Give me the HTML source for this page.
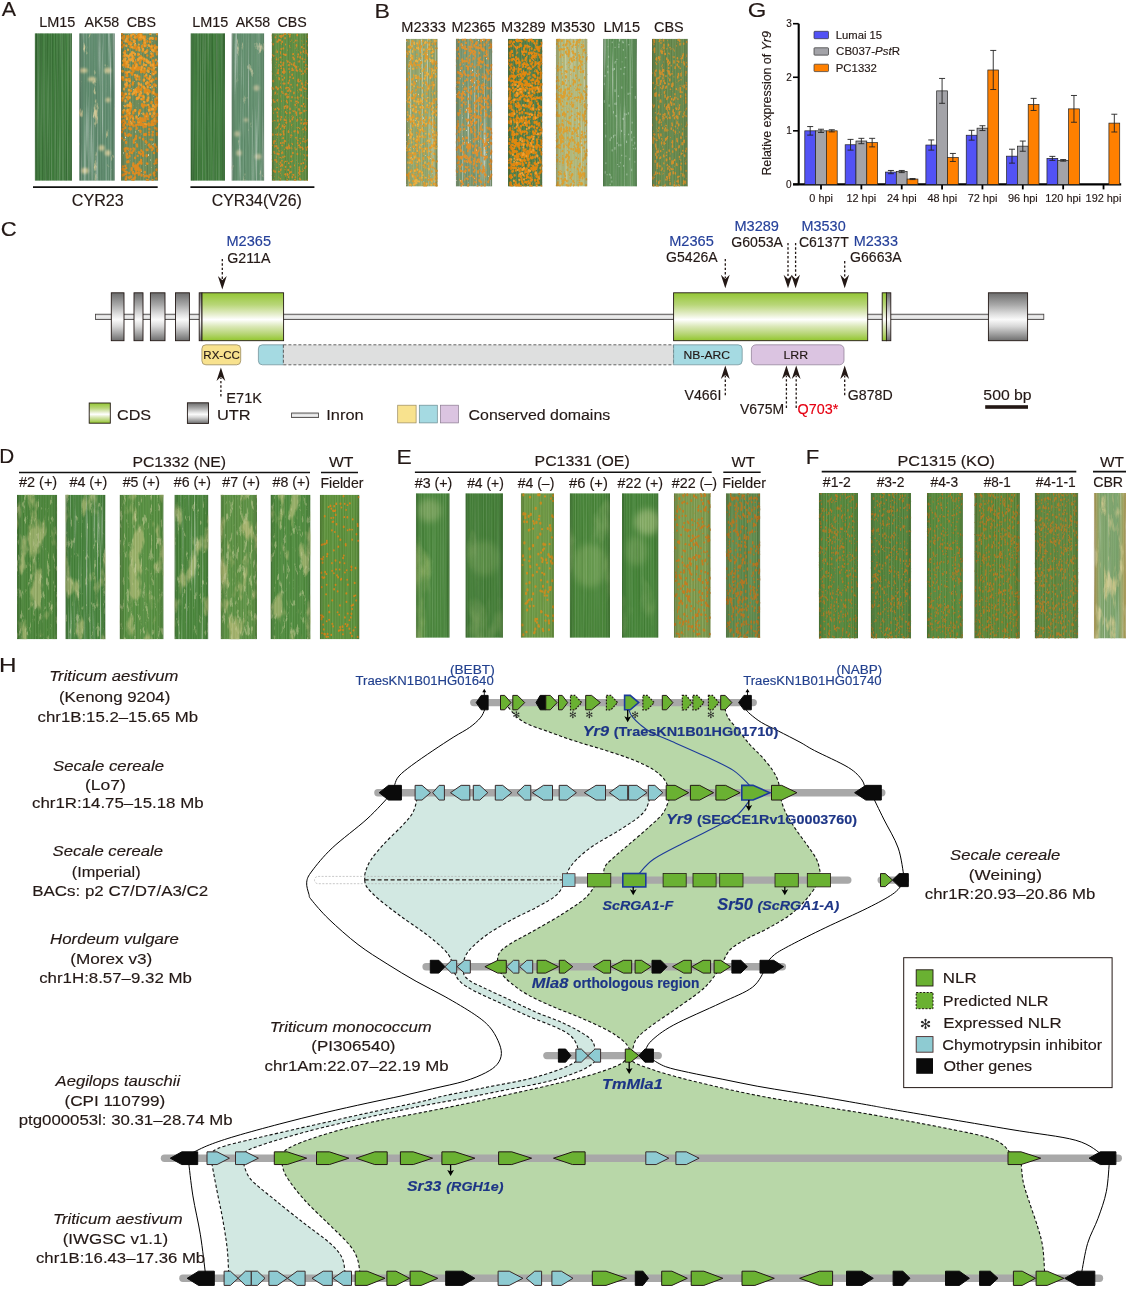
<!DOCTYPE html>
<html><head><meta charset="utf-8"><title>Figure</title>
<style>html,body{margin:0;padding:0;background:#fff;}svg{display:block;will-change:transform;}text{stroke-width:0.15px;}</style></head>
<body><svg width="1137" height="1292" viewBox="0 0 1137 1292" font-family='"Liberation Sans", Arial, Helvetica, sans-serif' fill="#231815">
<defs>
<linearGradient id="cbrg" x1="0" y1="0" x2="1" y2="0">
<stop offset="0" stop-color="#d8b460" stop-opacity="0.9"/><stop offset="0.2" stop-color="#c8a850" stop-opacity="0.15"/>
<stop offset="0.75" stop-color="#c8a850" stop-opacity="0.1"/><stop offset="1" stop-color="#d8b460" stop-opacity="0.85"/></linearGradient>
<pattern id="vein" patternUnits="userSpaceOnUse" width="2.7" height="20">
<rect x="0" y="0" width="0.9" height="20" fill="#ffffff" fill-opacity="0.07"/>
<rect x="1.5" y="0" width="0.8" height="20" fill="#000000" fill-opacity="0.05"/>
</pattern>
<filter id="blur3" x="-50%" y="-50%" width="200%" height="200%"><feGaussianBlur stdDeviation="3"/></filter><filter id="blur1" x="-50%" y="-50%" width="200%" height="200%"><feGaussianBlur stdDeviation="1.3"/></filter>
<filter id="f0" x="0" y="0" width="1" height="1" color-interpolation-filters="sRGB"><feTurbulence type="fractalNoise" baseFrequency="0.9 0.008" numOctaves="2" seed="1"/><feColorMatrix type="matrix" values="0 0 0 0 1 0 0 0 0 1 0 0 0 0 1 0.4 0 0 0 -0.16"/></filter><filter id="f1" x="0" y="0" width="1" height="1" color-interpolation-filters="sRGB"><feTurbulence type="fractalNoise" baseFrequency="0.9 0.008" numOctaves="2" seed="11"/><feColorMatrix type="matrix" values="0 0 0 0 0 0 0 0 0 0.05 0 0 0 0 0 0.4 0 0 0 -0.16"/></filter><filter id="f2" x="0" y="0" width="1" height="1" color-interpolation-filters="sRGB"><feTurbulence type="fractalNoise" baseFrequency="0.12 0.05" numOctaves="4" seed="114"/><feColorMatrix type="matrix" values="0 0 0 0 0.831 0 0 0 0 0.8 0 0 0 0 0.596 8 0 0 0 -5.452"/></filter><filter id="f3" x="0" y="0" width="1" height="1" color-interpolation-filters="sRGB"><feTurbulence type="fractalNoise" baseFrequency="0.5 0.01" numOctaves="2" seed="52"/><feColorMatrix type="matrix" values="0 0 0 0 1 0 0 0 0 1 0 0 0 0 1 1.5 0 0 0 -0.82"/></filter><filter id="f4" x="0" y="0" width="1" height="1" color-interpolation-filters="sRGB"><feTurbulence type="fractalNoise" baseFrequency="0.9 0.008" numOctaves="2" seed="2"/><feColorMatrix type="matrix" values="0 0 0 0 1 0 0 0 0 1 0 0 0 0 1 0.2 0 0 0 -0.08"/></filter><filter id="f5" x="0" y="0" width="1" height="1" color-interpolation-filters="sRGB"><feTurbulence type="fractalNoise" baseFrequency="0.9 0.008" numOctaves="2" seed="12"/><feColorMatrix type="matrix" values="0 0 0 0 0 0 0 0 0 0.05 0 0 0 0 0 0.2 0 0 0 -0.08"/></filter><filter id="f6" x="0" y="0" width="1" height="1" color-interpolation-filters="sRGB"><feTurbulence type="fractalNoise" baseFrequency="0.9 0.008" numOctaves="2" seed="3"/><feColorMatrix type="matrix" values="0 0 0 0 1 0 0 0 0 1 0 0 0 0 1 0.2 0 0 0 -0.08"/></filter><filter id="f7" x="0" y="0" width="1" height="1" color-interpolation-filters="sRGB"><feTurbulence type="fractalNoise" baseFrequency="0.9 0.008" numOctaves="2" seed="13"/><feColorMatrix type="matrix" values="0 0 0 0 0 0 0 0 0 0.05 0 0 0 0 0 0.2 0 0 0 -0.08"/></filter><filter id="f8" x="0" y="0" width="1" height="1" color-interpolation-filters="sRGB"><feTurbulence type="fractalNoise" baseFrequency="0.6 0.3" numOctaves="2" seed="9"/><feColorMatrix type="matrix" values="0 0 0 0 0.941 0 0 0 0 0.91 0 0 0 0 0.784 6 0 0 0 -4.214"/></filter><filter id="f9" x="0" y="0" width="1" height="1" color-interpolation-filters="sRGB"><feTurbulence type="fractalNoise" baseFrequency="0.9 0.008" numOctaves="2" seed="4"/><feColorMatrix type="matrix" values="0 0 0 0 1 0 0 0 0 1 0 0 0 0 1 0.4 0 0 0 -0.16"/></filter><filter id="f10" x="0" y="0" width="1" height="1" color-interpolation-filters="sRGB"><feTurbulence type="fractalNoise" baseFrequency="0.9 0.008" numOctaves="2" seed="14"/><feColorMatrix type="matrix" values="0 0 0 0 0 0 0 0 0 0.05 0 0 0 0 0 0.4 0 0 0 -0.16"/></filter><filter id="f11" x="0" y="0" width="1" height="1" color-interpolation-filters="sRGB"><feTurbulence type="fractalNoise" baseFrequency="0.12 0.05" numOctaves="4" seed="135"/><feColorMatrix type="matrix" values="0 0 0 0 0.784 0 0 0 0 0.784 0 0 0 0 0.627 8 0 0 0 -5.53"/></filter><filter id="f12" x="0" y="0" width="1" height="1" color-interpolation-filters="sRGB"><feTurbulence type="fractalNoise" baseFrequency="0.5 0.01" numOctaves="2" seed="55"/><feColorMatrix type="matrix" values="0 0 0 0 1 0 0 0 0 1 0 0 0 0 1 1.8 0 0 0 -0.99"/></filter><filter id="f13" x="0" y="0" width="1" height="1" color-interpolation-filters="sRGB"><feTurbulence type="fractalNoise" baseFrequency="0.9 0.008" numOctaves="2" seed="0"/><feColorMatrix type="matrix" values="0 0 0 0 1 0 0 0 0 1 0 0 0 0 1 0.2 0 0 0 -0.08"/></filter><filter id="f14" x="0" y="0" width="1" height="1" color-interpolation-filters="sRGB"><feTurbulence type="fractalNoise" baseFrequency="0.9 0.008" numOctaves="2" seed="10"/><feColorMatrix type="matrix" values="0 0 0 0 0 0 0 0 0 0.05 0 0 0 0 0 0.2 0 0 0 -0.08"/></filter><filter id="f15" x="0" y="0" width="1" height="1" color-interpolation-filters="sRGB"><feTurbulence type="fractalNoise" baseFrequency="0.9 0.008" numOctaves="2" seed="1"/><feColorMatrix type="matrix" values="0 0 0 0 1 0 0 0 0 1 0 0 0 0 1 0.2 0 0 0 -0.08"/></filter><filter id="f16" x="0" y="0" width="1" height="1" color-interpolation-filters="sRGB"><feTurbulence type="fractalNoise" baseFrequency="0.9 0.008" numOctaves="2" seed="11"/><feColorMatrix type="matrix" values="0 0 0 0 0 0 0 0 0 0.05 0 0 0 0 0 0.2 0 0 0 -0.08"/></filter><filter id="f17" x="0" y="0" width="1" height="1" color-interpolation-filters="sRGB"><feTurbulence type="fractalNoise" baseFrequency="0.45 0.3" numOctaves="2" seed="18"/><feColorMatrix type="matrix" values="0 0 0 0 0.847 0 0 0 0 0.541 0 0 0 0 0.125 6 0 0 0 -3.765"/></filter><filter id="f18" x="0" y="0" width="1" height="1" color-interpolation-filters="sRGB"><feTurbulence type="fractalNoise" baseFrequency="0.5 0.01" numOctaves="2" seed="61"/><feColorMatrix type="matrix" values="0 0 0 0 1 0 0 0 0 1 0 0 0 0 1 1.8 0 0 0 -0.99"/></filter><filter id="f19" x="0" y="0" width="1" height="1" color-interpolation-filters="sRGB"><feTurbulence type="fractalNoise" baseFrequency="0.45 0.3" numOctaves="2" seed="33"/><feColorMatrix type="matrix" values="0 0 0 0 0.878 0 0 0 0 0.627 0 0 0 0 0.188 6 0 0 0 -3.621"/></filter><filter id="f20" x="0" y="0" width="1" height="1" color-interpolation-filters="sRGB"><feTurbulence type="fractalNoise" baseFrequency="0.6 0.3" numOctaves="2" seed="34"/><feColorMatrix type="matrix" values="0 0 0 0 0.957 0 0 0 0 0.941 0 0 0 0 0.878 6 0 0 0 -4.388"/></filter><filter id="f21" x="0" y="0" width="1" height="1" color-interpolation-filters="sRGB"><feTurbulence type="fractalNoise" baseFrequency="0.5 0.01" numOctaves="2" seed="62"/><feColorMatrix type="matrix" values="0 0 0 0 1 0 0 0 0 1 0 0 0 0 1 2.1 0 0 0 -1.15"/></filter><filter id="f22" x="0" y="0" width="1" height="1" color-interpolation-filters="sRGB"><feTurbulence type="fractalNoise" baseFrequency="0.3 0.22" numOctaves="2" seed="36"/><feColorMatrix type="matrix" values="0 0 0 0 0.878 0 0 0 0 0.565 0 0 0 0 0.188 6 0 0 0 -3.498"/></filter><filter id="f23" x="0" y="0" width="1" height="1" color-interpolation-filters="sRGB"><feTurbulence type="fractalNoise" baseFrequency="0.5 0.25" numOctaves="2" seed="37"/><feColorMatrix type="matrix" values="0 0 0 0 0.957 0 0 0 0 0.941 0 0 0 0 0.894 6 0 0 0 -4.292"/></filter><filter id="f24" x="0" y="0" width="1" height="1" color-interpolation-filters="sRGB"><feTurbulence type="fractalNoise" baseFrequency="0.32 0.24" numOctaves="2" seed="39"/><feColorMatrix type="matrix" values="0 0 0 0 0.91 0 0 0 0 0.541 0 0 0 0 0.094 6 0 0 0 -3.284"/></filter><filter id="f25" x="0" y="0" width="1" height="1" color-interpolation-filters="sRGB"><feTurbulence type="fractalNoise" baseFrequency="0.5 0.01" numOctaves="2" seed="64"/><feColorMatrix type="matrix" values="0 0 0 0 1 0 0 0 0 1 0 0 0 0 1 1.8 0 0 0 -0.99"/></filter><filter id="f26" x="0" y="0" width="1" height="1" color-interpolation-filters="sRGB"><feTurbulence type="fractalNoise" baseFrequency="0.9 0.008" numOctaves="2" seed="4"/><feColorMatrix type="matrix" values="0 0 0 0 1 0 0 0 0 1 0 0 0 0 1 0.2 0 0 0 -0.08"/></filter><filter id="f27" x="0" y="0" width="1" height="1" color-interpolation-filters="sRGB"><feTurbulence type="fractalNoise" baseFrequency="0.9 0.008" numOctaves="2" seed="14"/><feColorMatrix type="matrix" values="0 0 0 0 0 0 0 0 0 0.05 0 0 0 0 0 0.2 0 0 0 -0.08"/></filter><filter id="f28" x="0" y="0" width="1" height="1" color-interpolation-filters="sRGB"><feTurbulence type="fractalNoise" baseFrequency="0.45 0.3" numOctaves="2" seed="42"/><feColorMatrix type="matrix" values="0 0 0 0 0.863 0 0 0 0 0.604 0 0 0 0 0.188 6 0 0 0 -3.676"/></filter><filter id="f29" x="0" y="0" width="1" height="1" color-interpolation-filters="sRGB"><feTurbulence type="fractalNoise" baseFrequency="0.5 0.01" numOctaves="2" seed="65"/><feColorMatrix type="matrix" values="0 0 0 0 1 0 0 0 0 1 0 0 0 0 1 1.8 0 0 0 -0.99"/></filter><filter id="f30" x="0" y="0" width="1" height="1" color-interpolation-filters="sRGB"><feTurbulence type="fractalNoise" baseFrequency="0.42 0.25" numOctaves="2" seed="48"/><feColorMatrix type="matrix" values="0 0 0 0 0.816 0 0 0 0 0.549 0 0 0 0 0.173 6 0 0 0 -3.765"/></filter><filter id="f31" x="0" y="0" width="1" height="1" color-interpolation-filters="sRGB"><feTurbulence type="fractalNoise" baseFrequency="0.07 0.025" numOctaves="4" seed="247"/><feColorMatrix type="matrix" values="0 0 0 0 0.69 0 0 0 0 0.737 0 0 0 0 0.455 7 0 0 0 -3.786"/></filter><filter id="f32" x="0" y="0" width="1" height="1" color-interpolation-filters="sRGB"><feTurbulence type="fractalNoise" baseFrequency="0.3 0.08" numOctaves="4" seed="248"/><feColorMatrix type="matrix" values="0 0 0 0 0.784 0 0 0 0 0.816 0 0 0 0 0.596 8 0 0 0 -4.882"/></filter><filter id="f33" x="0" y="0" width="1" height="1" color-interpolation-filters="sRGB"><feTurbulence type="fractalNoise" baseFrequency="0.07 0.025" numOctaves="4" seed="254"/><feColorMatrix type="matrix" values="0 0 0 0 0.69 0 0 0 0 0.737 0 0 0 0 0.455 7 0 0 0 -4.081"/></filter><filter id="f34" x="0" y="0" width="1" height="1" color-interpolation-filters="sRGB"><feTurbulence type="fractalNoise" baseFrequency="0.3 0.08" numOctaves="4" seed="255"/><feColorMatrix type="matrix" values="0 0 0 0 0.784 0 0 0 0 0.816 0 0 0 0 0.596 8 0 0 0 -5.132"/></filter><filter id="f35" x="0" y="0" width="1" height="1" color-interpolation-filters="sRGB"><feTurbulence type="fractalNoise" baseFrequency="0.5 0.01" numOctaves="2" seed="72"/><feColorMatrix type="matrix" values="0 0 0 0 1 0 0 0 0 1 0 0 0 0 1 1.8 0 0 0 -0.99"/></filter><filter id="f36" x="0" y="0" width="1" height="1" color-interpolation-filters="sRGB"><feTurbulence type="fractalNoise" baseFrequency="0.07 0.025" numOctaves="4" seed="261"/><feColorMatrix type="matrix" values="0 0 0 0 0.69 0 0 0 0 0.737 0 0 0 0 0.455 7 0 0 0 -3.786"/></filter><filter id="f37" x="0" y="0" width="1" height="1" color-interpolation-filters="sRGB"><feTurbulence type="fractalNoise" baseFrequency="0.3 0.08" numOctaves="4" seed="262"/><feColorMatrix type="matrix" values="0 0 0 0 0.784 0 0 0 0 0.816 0 0 0 0 0.596 8 0 0 0 -4.882"/></filter><filter id="f38" x="0" y="0" width="1" height="1" color-interpolation-filters="sRGB"><feTurbulence type="fractalNoise" baseFrequency="0.07 0.025" numOctaves="4" seed="268"/><feColorMatrix type="matrix" values="0 0 0 0 0.69 0 0 0 0 0.737 0 0 0 0 0.455 7 0 0 0 -4.165"/></filter><filter id="f39" x="0" y="0" width="1" height="1" color-interpolation-filters="sRGB"><feTurbulence type="fractalNoise" baseFrequency="0.3 0.08" numOctaves="4" seed="269"/><feColorMatrix type="matrix" values="0 0 0 0 0.784 0 0 0 0 0.816 0 0 0 0 0.596 8 0 0 0 -5.207"/></filter><filter id="f40" x="0" y="0" width="1" height="1" color-interpolation-filters="sRGB"><feTurbulence type="fractalNoise" baseFrequency="0.5 0.01" numOctaves="2" seed="74"/><feColorMatrix type="matrix" values="0 0 0 0 1 0 0 0 0 1 0 0 0 0 1 1.5 0 0 0 -0.82"/></filter><filter id="f41" x="0" y="0" width="1" height="1" color-interpolation-filters="sRGB"><feTurbulence type="fractalNoise" baseFrequency="0.07 0.025" numOctaves="4" seed="275"/><feColorMatrix type="matrix" values="0 0 0 0 0.706 0 0 0 0 0.737 0 0 0 0 0.455 7 0 0 0 -3.5"/></filter><filter id="f42" x="0" y="0" width="1" height="1" color-interpolation-filters="sRGB"><feTurbulence type="fractalNoise" baseFrequency="0.3 0.08" numOctaves="4" seed="276"/><feColorMatrix type="matrix" values="0 0 0 0 0.784 0 0 0 0 0.816 0 0 0 0 0.596 8 0 0 0 -4.664"/></filter><filter id="f43" x="0" y="0" width="1" height="1" color-interpolation-filters="sRGB"><feTurbulence type="fractalNoise" baseFrequency="0.07 0.025" numOctaves="4" seed="282"/><feColorMatrix type="matrix" values="0 0 0 0 0.69 0 0 0 0 0.737 0 0 0 0 0.455 7 0 0 0 -3.855"/></filter><filter id="f44" x="0" y="0" width="1" height="1" color-interpolation-filters="sRGB"><feTurbulence type="fractalNoise" baseFrequency="0.3 0.08" numOctaves="4" seed="283"/><feColorMatrix type="matrix" values="0 0 0 0 0.784 0 0 0 0 0.816 0 0 0 0 0.596 8 0 0 0 -4.939"/></filter><filter id="f45" x="0" y="0" width="1" height="1" color-interpolation-filters="sRGB"><feTurbulence type="fractalNoise" baseFrequency="0.03 0.012" numOctaves="4" seed="317"/><feColorMatrix type="matrix" values="0 0 0 0 0.659 0 0 0 0 0.753 0 0 0 0 0.439 5 0 0 0 -2.823"/></filter><filter id="f46" x="0" y="0" width="1" height="1" color-interpolation-filters="sRGB"><feTurbulence type="fractalNoise" baseFrequency="0.03 0.012" numOctaves="4" seed="324"/><feColorMatrix type="matrix" values="0 0 0 0 0.565 0 0 0 0 0.69 0 0 0 0 0.408 5 0 0 0 -2.915"/></filter><filter id="f47" x="0" y="0" width="1" height="1" color-interpolation-filters="sRGB"><feTurbulence type="fractalNoise" baseFrequency="0.03 0.012" numOctaves="4" seed="338"/><feColorMatrix type="matrix" values="0 0 0 0 0.596 0 0 0 0 0.722 0 0 0 0 0.439 5 0 0 0 -2.915"/></filter><filter id="f48" x="0" y="0" width="1" height="1" color-interpolation-filters="sRGB"><feTurbulence type="fractalNoise" baseFrequency="0.03 0.012" numOctaves="4" seed="345"/><feColorMatrix type="matrix" values="0 0 0 0 0.596 0 0 0 0 0.722 0 0 0 0 0.439 5 0 0 0 -3.018"/></filter><filter id="f49" x="0" y="0" width="1" height="1" color-interpolation-filters="sRGB"><feTurbulence type="fractalNoise" baseFrequency="0.3 0.22" numOctaves="2" seed="108"/><feColorMatrix type="matrix" values="0 0 0 0 0.753 0 0 0 0 0.478 0 0 0 0 0.125 8 0 0 0 -5.261"/></filter><filter id="f50" x="0" y="0" width="1" height="1" color-interpolation-filters="sRGB"><feTurbulence type="fractalNoise" baseFrequency="0.32 0.22" numOctaves="2" seed="111"/><feColorMatrix type="matrix" values="0 0 0 0 0.659 0 0 0 0 0.439 0 0 0 0 0.173 6 0 0 0 -3.946"/></filter><filter id="f51" x="0" y="0" width="1" height="1" color-interpolation-filters="sRGB"><feTurbulence type="fractalNoise" baseFrequency="0.55 0.3" numOctaves="2" seed="123"/><feColorMatrix type="matrix" values="0 0 0 0 0.659 0 0 0 0 0.471 0 0 0 0 0.173 6 0 0 0 -3.867"/></filter><filter id="f52" x="0" y="0" width="1" height="1" color-interpolation-filters="sRGB"><feTurbulence type="fractalNoise" baseFrequency="0.55 0.3" numOctaves="2" seed="126"/><feColorMatrix type="matrix" values="0 0 0 0 0.659 0 0 0 0 0.471 0 0 0 0 0.173 6 0 0 0 -3.867"/></filter><filter id="f53" x="0" y="0" width="1" height="1" color-interpolation-filters="sRGB"><feTurbulence type="fractalNoise" baseFrequency="0.55 0.3" numOctaves="2" seed="129"/><feColorMatrix type="matrix" values="0 0 0 0 0.659 0 0 0 0 0.471 0 0 0 0 0.173 6 0 0 0 -3.867"/></filter><filter id="f54" x="0" y="0" width="1" height="1" color-interpolation-filters="sRGB"><feTurbulence type="fractalNoise" baseFrequency="0.55 0.3" numOctaves="2" seed="132"/><feColorMatrix type="matrix" values="0 0 0 0 0.659 0 0 0 0 0.455 0 0 0 0 0.157 6 0 0 0 -3.765"/></filter><filter id="f55" x="0" y="0" width="1" height="1" color-interpolation-filters="sRGB"><feTurbulence type="fractalNoise" baseFrequency="0.55 0.3" numOctaves="2" seed="135"/><feColorMatrix type="matrix" values="0 0 0 0 0.659 0 0 0 0 0.478 0 0 0 0 0.188 6 0 0 0 -3.765"/></filter><filter id="f56" x="0" y="0" width="1" height="1" color-interpolation-filters="sRGB"><feTurbulence type="fractalNoise" baseFrequency="0.12 0.03" numOctaves="4" seed="422"/><feColorMatrix type="matrix" values="0 0 0 0 0.831 0 0 0 0 0.8 0 0 0 0 0.549 6 0 0 0 -3.187"/></filter><filter id="f57" x="0" y="0" width="1" height="1" color-interpolation-filters="sRGB"><feTurbulence type="fractalNoise" baseFrequency="0.5 0.01" numOctaves="2" seed="96"/><feColorMatrix type="matrix" values="0 0 0 0 1 0 0 0 0 1 0 0 0 0 1 1.2 0 0 0 -0.66"/></filter>
<linearGradient id="ggreen" x1="0" y1="0" x2="0" y2="1">
<stop offset="0" stop-color="#94c635"/><stop offset="0.25" stop-color="#b8d678"/><stop offset="0.42" stop-color="#dfeac0"/><stop offset="0.56" stop-color="#ffffff"/><stop offset="0.7" stop-color="#dbe8b8"/><stop offset="0.86" stop-color="#b6d574"/><stop offset="1" stop-color="#92c62c"/></linearGradient>
<linearGradient id="ggray" x1="0" y1="0" x2="0" y2="1">
<stop offset="0" stop-color="#6c6c6c"/><stop offset="0.25" stop-color="#a8a8a8"/><stop offset="0.45" stop-color="#e0e0e0"/><stop offset="0.56" stop-color="#fafafa"/><stop offset="0.7" stop-color="#d8d8d8"/><stop offset="0.86" stop-color="#a0a0a0"/><stop offset="1" stop-color="#6e6e6e"/></linearGradient>
<linearGradient id="gintron" x1="0" y1="0" x2="0" y2="1">
<stop offset="0" stop-color="#c8c9ca"/><stop offset="0.5" stop-color="#f2f2f2"/><stop offset="1" stop-color="#c8c9ca"/></linearGradient>
<linearGradient id="edgeg" x1="0" y1="0" x2="1" y2="0">
<stop offset="0" stop-color="#000" stop-opacity="0.18"/><stop offset="0.12" stop-color="#000" stop-opacity="0"/>
<stop offset="0.88" stop-color="#000" stop-opacity="0"/><stop offset="1" stop-color="#000" stop-opacity="0.15"/></linearGradient></defs>
<rect width="1137" height="1292" fill="#fff"/>
<text x="1.75" y="16.1" font-size="21" textLength="14.3" lengthAdjust="spacingAndGlyphs" stroke="#231815">A</text><text x="39.21" y="27.3" font-size="14" textLength="36.19" lengthAdjust="spacingAndGlyphs" stroke="#231815">LM15</text><text x="84.46" y="27.3" font-size="14" textLength="34.76" lengthAdjust="spacingAndGlyphs" stroke="#231815">AK58</text><text x="126.79" y="27.3" font-size="14" textLength="29.34" lengthAdjust="spacingAndGlyphs" stroke="#231815">CBS</text><text x="192.31" y="27.3" font-size="14" textLength="36.09" lengthAdjust="spacingAndGlyphs" stroke="#231815">LM15</text><text x="235.66" y="27.3" font-size="14" textLength="34.55" lengthAdjust="spacingAndGlyphs" stroke="#231815">AK58</text><text x="277.59" y="27.3" font-size="14" textLength="29.23" lengthAdjust="spacingAndGlyphs" stroke="#231815">CBS</text><clipPath id="lc1"><rect x="34.7" y="33.2" width="37.3" height="147.6"/></clipPath><g clip-path="url(#lc1)"><rect x="34.7" y="33.2" width="37.3" height="147.6" fill="#3f7d3c"/><rect x="34.7" y="33.2" width="37.3" height="147.6" fill="url(#vein)"/><rect x="34.7" y="33.2" width="37.3" height="147.6" filter="url(#f0)"/><rect x="34.7" y="33.2" width="37.3" height="147.6" filter="url(#f1)"/><rect x="34.7" y="33.2" width="37.3" height="147.6" fill="url(#edgeg)"/></g><clipPath id="lc2"><rect x="79.2" y="33.2" width="35.6" height="147.6"/></clipPath><g clip-path="url(#lc2)"><rect x="79.2" y="33.2" width="35.6" height="147.6" fill="#5f8c6e"/><rect x="79.2" y="33.2" width="35.6" height="147.6" filter="url(#f2)" opacity="1"/><g filter="url(#blur1)"><ellipse cx="83.51" cy="70.54" rx="3.99" ry="2.51" fill="#d8cc98" fill-opacity="0.85"/><ellipse cx="92.02" cy="79.25" rx="3.99" ry="2.51" fill="#d8cc98" fill-opacity="0.85"/><ellipse cx="107.79" cy="70.54" rx="3.49" ry="2.95" fill="#d8cc98" fill-opacity="0.85"/><ellipse cx="101.7" cy="147.89" rx="2.99" ry="2.95" fill="#d8cc98" fill-opacity="0.85"/><ellipse cx="107.79" cy="153.05" rx="2.99" ry="2.95" fill="#d8cc98" fill-opacity="0.85"/><ellipse cx="85" cy="170.76" rx="3.99" ry="2.95" fill="#d8cc98" fill-opacity="0.85"/><ellipse cx="108" cy="100.06" rx="2.49" ry="2.51" fill="#d8cc98" fill-opacity="0.85"/></g><rect x="79.2" y="33.2" width="35.6" height="147.6" filter="url(#f3)"/><rect x="79.2" y="33.2" width="35.6" height="147.6" fill="url(#vein)"/><rect x="79.2" y="33.2" width="35.6" height="147.6" filter="url(#f4)"/><rect x="79.2" y="33.2" width="35.6" height="147.6" filter="url(#f5)"/><rect x="79.2" y="33.2" width="35.6" height="147.6" fill="url(#edgeg)"/></g><clipPath id="lc3"><rect x="121" y="33.2" width="37.2" height="147.6"/></clipPath><g clip-path="url(#lc3)"><rect x="121" y="33.2" width="37.2" height="147.6" fill="#6d8c58"/><rect x="121" y="33.2" width="37.2" height="147.6" fill="url(#vein)"/><rect x="121" y="33.2" width="37.2" height="147.6" filter="url(#f6)"/><rect x="121" y="33.2" width="37.2" height="147.6" filter="url(#f7)"/><rect x="121" y="33.2" width="37.2" height="147.6" filter="url(#f8)"/><path d="M153.47 69.8v0.88M152.45 54.11v0.77M142.59 119.88v0.05M124.21 62.49v1.24M151.85 45.59v1.38M140.59 121.77v1.4M125.06 122.37v0.72M127.32 75.81v0.11M148.49 83.02v0.16M129.83 79.56v1.17M131.57 42.96v0.53M124.21 63.91v1.31M128.31 60.81v1.16M129.02 43.71v0.37M143.54 98.33v1.02M124.05 59.18v0.17M141.75 66.68v1.13M142.05 86.49v0.26M141.12 39.22v0.15M152.39 49.14v0M147.31 50.18v0.45M142.27 119.22v0.03M144.94 36.41v1.16M134.8 41.05v0.59M144.98 45.62v0.57M149.62 108.22v1.09M138.56 97.71v0.22M135.44 61.72v0.2M123.21 38.04v1.46M135.23 62.42v0.98M147.63 115.34v1.37M123.78 55.83v0.58M132.68 84.08v0.36M153.84 63.24v1.34M154.8 93.69v0.41M123.77 124.23v1.38M139.23 38.8v1.14M132.23 73.17v1.47M154.52 110.82v0.11M145.05 88.57v1.07M122.32 116.72v0.25M121.79 93.34v1.11M147.37 41.26v0.35M141.22 88.61v1.11M122.26 93v0.32M133.94 47.42v0.74M130.86 90.51v0.43M125.99 63.31v0.45M132.29 124.18v0.89M152.61 91.95v1.47M139.25 76.69v0.41M130.32 116.33v0.72M145.11 118.46v0.8M128.17 98.02v1.19M155.15 72.74v0.19M146.11 105.35v0.07M150.71 109.8v0.1M143.83 42.94v0.78M126.4 85.78v0.42M139.18 90.06v1.17M138.27 46.77v0.5M136.7 64.42v0.31M156.83 65.19v0M130.53 103.92v1.08M138.61 37.6v0.5M154.36 46.05v0.14M137.89 35.17v1.37M151.31 47.56v1.31M156.68 103.29v1.16M126.03 54.93v0.71M128.45 109.62v0.59M144.72 69.46v1.46M133.34 111.96v1.31M144.38 39.93v1.41M127.75 40.61v1.28M128.29 36.17v1.3M154.72 65.11v0.54M147.76 99.61v0.43M123.84 44.98v0.41M122.44 99.88v0.58M140.87 56.3v0.56M146.8 113.6v1.24M140.04 110.23v0.45M144.02 59.34v1.34M135.69 36.62v1.16M127.09 111.25v1.24M153.01 38.33v0.46M123.39 36.36v0.65M142.96 36.57v1.02M134.71 46.05v0.95M137.2 66.18v1.43M142.32 67.16v0.82M155.19 48.24v1.03M155.77 94.56v0.16M150.12 80.99v0.28M146.88 113.39v1.1M155.83 47.15v1.5M152.54 65.67v0.81M151.6 101.97v0.77M128.69 79v1.39M152.94 55.83v0.08M136.98 88.82v1.4M154.27 84.37v0.42M149.97 84.83v0.14M137.9 88.83v0.63M142.12 104.29v1.37M142.03 46.01v1.46M150.32 76.68v0.76M156.04 38.22v0.96M139.5 123.65v0.26M154.69 49.92v0.54M152.18 69.55v0.3M132.21 74.27v0.16M156.15 78.41v0.5M147.57 85.6v0.42M157.03 94.34v0.5M156.96 98.52v0.34M152.17 79.87v0.36M126.54 110.94v0.23M147.11 77.74v0.3M139.53 35.64v0.7M122.84 71.22v0.04M151.34 103.09v0.19M155.97 107.85v0.26M138.54 87.07v1.33M127.5 105.68v0.63M124.51 60.74v0.27M153.62 112.6v0.16M156.14 102.25v1.17M150.44 108.69v1.37M140.3 120.14v1.44M153.25 60.33v1.32M141.1 70.82v1.34M126.45 75.7v0.34M153.14 123.8v1.11M146.9 89.42v0.62M140.05 93.98v1.36M125.85 79.56v0.19M130.15 109.38v1.05M125.75 93.67v0.11M123.01 111.68v0.98M140.02 122.31v0.91M144.46 71.63v0.95M155.45 101.45v1.18M157.11 121.31v0.35M151.28 124.15v0.97M124.88 116.23v0.36M150.06 41.55v0.8M153.84 89.4v0.29M147.32 99.73v1.3M129.31 119.98v1.17M126.22 41.25v0M147.04 60.24v0.64M148.51 68.03v0.39M133.54 70.47v1.09M139.28 67.49v1.43M136.44 65.62v1.06M135.79 93.43v1.48M129.27 111.8v0.92M136.55 48.48v1.29M136.66 117.11v1.3M124.57 94.33v0.63M141.64 38.01v0.29M121.86 42.17v1.17M133.38 65.46v1.25M129.15 122.18v0.09M122.98 97.78v0.71M139.95 62.09v1.42M141.91 37.64v0.98M151.81 121.68v1.42M154.78 106.14v0.04M149.64 68.38v0.5M125.59 72.17v0.48M130.57 108.69v0.7M145.69 44.78v0.96M148.43 62.8v0.19M123 77.7v0.47M123.78 95.86v1.14M142.64 50.83v0.39M135.53 45.09v0.89M140.51 118.03v1.12M134.74 110.22v0.38M142.41 57.74v1.11M155.19 99.16v0.36M128.22 113.19v0.27M132.12 69.29v0.21M141.43 34.18v0.34M149.6 90.97v1.32M131.72 38.67v0.8M130.12 42.14v0.61M125.05 62.19v0.14M132.79 67.46v1.38M141.03 95.4v0.35M157.04 105.27v0.3M122.2 46.73v0.57M147.25 55.37v0.07M126.96 73.43v1.23M144.82 90.77v1.43M140.5 59.51v0.82M124.07 35.87v1.23M153.74 112.4v0.69M133.72 57.38v1.13M127.1 36.13v0.13M142.96 98.96v0.57M130.9 106.53v1.17M133.04 82.48v1.03M134.72 35.11v0.25M125.04 51.23v1.18M157.21 101.49v1.15M137.79 59.26v1.29M148.71 123.35v0.98M131.09 35.47v0.99M143.81 79.67v1.17M135.49 76.37v1.08M144.96 76.15v0.23M131.22 72.79v0.09M138.39 91.35v0.69M139.17 111.7v0.77M143.32 106.22v1.12M146.61 92.22v0.45M150.93 56.59v0.59M155.21 84.8v1.29M138.07 53.93v1.13M137.01 98.15v0.14M149.25 106.93v0.23M135.68 92.78v0.62M127.71 40.12v0.35M125.97 65.31v1.47M152.62 73.13v1.22M143.2 96.03v0.37M128.87 112.42v0.91M128.43 96.39v0.16M151.25 47.53v0.19M134.04 67.73v1.17M129.64 85.22v1.41M125.94 86.74v0.36M130.94 104.17v1.25M121.89 33.71v0.51M148.18 89.82v0.84M154.35 118.72v1.05M122.08 77.28v1.43M144.48 105.06v0.26M153.27 79.68v0.48M155.85 109.02v0.16M135.67 89.49v0.55M155.64 50.09v1.38M129.31 123.67v0.17M143.17 70.88v0.75M154.89 45.51v0.09M123.21 79.04v0.96M144.19 59.72v0.28M157.22 113.85v0.92M130.61 46.3v0.77M131.82 54.01v1.46M148.57 78.92v0.08M136.08 68.55v1.06M138.95 33.78v0.36M139.83 38.15v0.53M138.25 69.72v0.39M139.38 79.13v0.38" stroke="#e08c1c" stroke-width="2.4" stroke-linecap="round" fill="none"/><path d="M128.53 56.16v1.18M148.25 104.74v0.15M151.34 46.49v0.14M130.07 102.52v1.16M138.82 97.14v0.27M153.03 105.19v0.99M134.1 40.52v0.25M133.71 52.59v0.31M145.99 83.17v0.76M146.6 60.84v0.64M139.5 94.7v0.46M146.41 59.67v0.77M138.9 44.55v0.02M133.09 60.38v1.02M131.43 122.62v1.11M138.14 97.56v0.94M156.84 53.74v0.81M126.45 115.41v0.46M122.32 70.85v0.77M153.21 109.13v0.36M137.21 75.42v1.16M154.98 118.81v0.68M156.99 34.07v0.39M143.5 123.88v0.09M156.68 97.31v0.61M129.83 97.47v0.38M141.3 99.02v0.35M146.3 74.68v0.84M146.52 51.24v0.91M126.6 97.25v0.05M129.55 113.15v0.67M145.65 52.17v0.53M135.33 89.61v1.07M129.48 104.11v0.4M123.02 60.88v0.11M152.59 115.62v0.94M151.62 38.14v0.13M123.79 52.49v0.2M149.7 38.65v0.45M150.72 64.47v1.18M126.68 84.82v0.59M128.2 66.36v0.79M130.27 59.29v0.99M154.68 106.87v0.27M132.1 52.12v0.66M138.35 59.05v0.94M147.27 82.02v0.81M149.93 76.18v0.38M125.65 40.61v0.7M143.84 86.53v0.36M148.98 109.83v1.03M126.37 45.69v0.37M155.01 47.89v0.56M148.32 97.42v0.84M143.38 37.47v0.53M126.74 82.75v0.94M136.52 92.22v0.24M134.97 54.13v0.7M148.59 45.16v0.29M149.23 45.64v0.46M129.14 59.21v0.29M152.1 108.88v0.57M132.14 47.2v0.33M126.63 63.08v0.56M128.03 49.72v0.4M134.05 91.98v1.15M155.95 85.66v0.1M150.26 33.54v0.52M133.85 40.33v0.5M140.59 93.23v0.07M129.87 54.69v0.86M152.32 86.59v0.31M147.78 87.19v0.16M151.44 80.99v0.75M151.18 53.4v0.38M148.28 61.3v1.16M136.37 116.44v0.59M131.49 35.16v0.24M153.06 64.4v1.14M153.45 50.64v0.88M127.58 109.85v1.15M122.01 37.31v0.94M142.81 120.76v0.3M155.36 120.57v0.21M143.4 113.5v0.7M138.65 83.09v0.46M153.63 92v0.92M148.62 71.19v0.71M146.44 61.62v0.09M139.43 57.56v0.86M144.24 79.59v0.74M144.42 101.93v0.55M147.5 92.9v0.95M125.04 59.68v0.86M128.5 64.69v0.65M141.11 36.02v1.12M126.62 79.65v0.94M134.23 91.07v0.35M139.02 47.52v0.45M141.45 57.58v0.46M124.63 55.59v0.19M152.27 108.7v0.52M154.04 120.7v0.15M134.14 41.46v0.71M139.05 113.27v0.52M122.87 77.13v0.49M143.65 96.39v1M133.19 118.59v0.41M150.11 113.27v0.86M157.26 51.88v0.65M144.37 58.51v0.34M145.96 116.24v0.29M133.24 33.63v0.42M147.95 93.48v1.07M134.84 44.27v0.59M124.86 106.11v0.21M145.3 51.93v0.98M144.78 123.92v0.33M144.63 39.15v1.08M123.92 110.19v0.46M145.13 42.44v0.57M150.58 37.83v0.63M129.27 105.83v0.28M157.42 63.05v0.94M144.61 45.57v0.43M126.68 38.3v0.47M154.15 67.65v0.96M139.05 54.4v0.1M153.71 73.79v0.58M140.92 124.33v0.63M130.6 105.7v0.46M143.77 64.14v0.99M141.18 84.42v0.71M123.39 120.45v0.3M124.11 59.29v1.19M136.46 64.69v0.2M141.79 66.91v0.37M132.63 117.12v0.57M146.03 124.24v0.65M132.18 58.24v1.06M122.49 97.98v0.54M136.52 79.33v0.29M129.19 93.36v0.8M126.83 55.35v0.34M125.86 93.74v0.16M129.91 117.13v1.12M125.4 100.46v0.94M141.33 69.35v0.39M138.84 83.72v0.92M139.7 122.26v1.15M156 59.54v0.94M140.19 37.3v0.3M141.1 92.32v0.87M128.96 89.69v1.05M130.92 44.53v0.17M122.94 64.89v0.56M144.69 68.27v0.01M147.78 99.82v0.59M144.26 87.56v0.57M156.4 105.31v0.55M153.94 113.5v0.14M125.59 58.47v0.27M123.98 88.7v0.89M132.52 55.79v1.17M135.29 110.12v0.72M130.49 67.86v0.28M149.49 78.37v0.63M157.01 47.05v0.63M156.18 47.02v0.09M129.1 71.62v0.41M132.65 93.51v0.87M152.51 37.89v0.95M134.8 68.07v0.04M150 62.5v0.25M156.84 104.57v1M155.66 71.5v1.14M125.2 84.37v0.4M136.13 65.96v0.42M138.31 119.11v0.11M145.96 64.86v0.74M127.44 105.09v0.36M143.09 48.74v1.16M124.15 110.02v0.34M131.27 53.66v0.76M126.9 118.17v1.07M125.58 40.43v0.57M138.14 121.92v0.06M139.36 49.48v1.07M136.92 98.09v1.05M134.55 37.33v0.14M134.07 91.97v1.12M127 61.65v1.12M134.99 74.96v0.15M152.25 49.93v0.37M140.49 33.86v1.1M127.27 72.29v0.28M129.67 81.1v0.3M147.53 70.34v0.95M154.62 113.07v0.94M124.72 53.27v0.87" stroke="#eca030" stroke-width="2.2" stroke-linecap="round" fill="none"/><path d="M144.99 117.83v0.75M127.51 115.12v0.14M125.8 178.96v1.07M126.08 148.26v0.31M122 122.11v0.39M124.13 169.04v0.11M156.52 169.46v0.83M132.96 172.11v1.05M135.32 168.38v0.8M144.87 117.72v0.03M132.75 120.42v0.71M131.62 169.23v1.09M126.66 153.73v1.16M131.68 168.21v0.38M142.26 118.98v1.15M130.77 135.03v0.81M132.13 115.6v0.89M134.4 122.06v0.38M141.07 123.9v0.63M126.48 176.95v0.85M133.12 165.04v0.65M130.93 176.4v0.73M143.41 124.23v0.72M138.56 170.3v0.08M130.62 148.88v0.78M134.29 149.02v0.46M155.61 118.96v0.46M149.07 132.31v0.03M147.97 119.1v0.04M146.61 149.71v0.33M152.61 180.25v0.02M138.62 124.26v0.65M148.64 144.95v0.56M138.68 168.05v0.93M155.74 160.85v0.57M154.78 127.64v0.4M151.94 150.03v0.12M155.79 162.69v0.34M140.45 130.85v1.14M143.11 154.98v1.08M123.22 128.59v1.04M123.81 174.52v0.48M121.8 138.12v0.23M134.66 173.81v0.89M154.5 172.31v0.5M149.08 124.71v0.87M154.46 163.81v0.02M141.04 159.94v0.98M141.54 174.71v1M125.81 173.58v0.43M149.13 125v0.38M140.15 124.34v0.02M135.89 138.36v0.62M133.5 148.28v0.21M155.59 116.14v0.5M134.75 165.87v0.62M156.84 134.2v0.8M144.87 171.8v0.9M124.45 170.43v0.83M140.82 122.31v0.9M148.24 124.49v0.27M126.19 142.15v0.9M122.93 166.36v0.2M122.68 174.9v0.78M124.98 133.47v0.05M129.42 128.17v0.62M141.42 162.61v1.19M129.48 116.18v0.57M129.77 124.97v0.39M137.94 164.27v0.34M129.49 155.68v0.26M133.55 150.98v0.05M128.04 135.25v0.69M127.82 157.64v0.2M129.23 134.27v0.38M125.57 135.24v0.37M133.37 163.46v0.82M125.29 127.3v0.65M152.76 123.56v0.12M128.54 134.42v0.75M127.36 124.36v0.2M143.04 152.25v0.88M156.56 128.52v0.92M138.97 152.18v0.79M137.05 168.47v0.47M128.4 161.25v0.97M153.87 173.07v0.42M148.74 176.52v0.8M143.62 126.39v0.97M138.4 120.23v1.12M152.01 116.47v0.17M122.07 132.01v0.23M139.25 172.55v0.74M134.04 178.14v0.14M133.46 179.6v0.81M143.16 138.81v0.74M133.67 125.34v0.89M155.27 122.99v1.03M149.33 128.85v0.58M129.35 177.11v1.03M150.41 174.76v0.3M122.66 128.79v0.58M137.12 146.18v0.37M139.9 130.68v0.12M135.96 165.34v0.37M145.45 118.82v0.27M125.27 150.81v0.47M123.07 125.25v0.87M140.78 153.72v0.88M147 179.97v0.34M146.88 163.32v0.28M136.82 144.31v0.93M139.44 162.19v1.17M156.87 133.04v0.27M138.82 174.17v0.63M122.51 168.67v0.97M146.6 155.14v1.15M149.41 144.45v0.16M156.29 178.49v0.14M152.97 131.99v0.09M154.97 144.3v1.11M156.57 159.33v1.13M151.89 121.18v0.75M147.49 149.58v0.55M146.72 175.6v0.34M125.29 165.78v0.29M145.77 133.97v1.14M135.03 177.07v0.59M152.92 120.62v0.68M133.89 166.58v0.07M129.25 173v0.17M149.24 134.69v0.08M146.44 142.07v0.69M136.7 127.89v0.95M138.02 124.1v0.42M137.66 155.86v0.02M142.74 120.51v0.64M136.12 125.02v0.91M131.97 179.59v0.03M152.34 139.57v0.21M147.48 163.69v0.15M140.64 169.74v1.08M136.14 135.97v0.42M133.96 140.04v0.62M151.38 146.29v0.69M152.21 122.09v1.02M152.61 134.47v0.96M126.56 155.57v0.19M145.74 141.19v0.76M152.98 148.03v0.81M156.39 146.86v0.1M126.26 168.14v0.03M121.78 121.46v0.61M136.18 169.24v1.17M137.61 165.67v0.59M150.52 139.57v0.02M150.23 146.85v0.69M142.29 124.02v1.18M127.22 161.71v0.59M136.43 166.68v0.83M145.84 125.81v1.01M138.54 167.64v0.04M144.7 119.19v1.05M129.52 117.9v0.31M140.04 123.58v1.18M154.48 175.27v0.26M142.45 118.47v0.61M135.05 157.65v0.52M124.16 139.9v0.06M129.65 156.22v0.23M130.95 176.73v0.25M124.26 120.52v0.66M126.82 156.68v0.94M156.49 162.85v0.33M153.82 173.12v0.67M138.23 172.9v0.03M127.8 148.34v0.66M145.29 120.71v0.7M156.61 129.07v0.63M133.84 142.52v0.29M157.33 150.72v0.53M135.27 138.45v0.52M136.33 172.33v0.77M157.4 149.4v0.23M144.17 134.11v0.89M154.05 152.82v0.34M139.84 137.68v0.09M129.7 151.91v1.14M144.58 175.53v1M144.72 115.38v0.35M130.74 128.45v1.12M141.4 150.39v0.37M132.07 152.48v0.73M145.32 118.99v0.58M126.77 154.29v0.33M147.96 180.22v1.12M134.62 178.47v0.21M126.64 171.85v1.03M124.69 148.56v0.91M157.33 114.71v0.72" stroke="#dc8a20" stroke-width="2.3" stroke-linecap="round" fill="none"/><rect x="121" y="33.2" width="37.2" height="147.6" fill="url(#edgeg)"/></g><clipPath id="lc4"><rect x="190.5" y="33.2" width="34.5" height="147.6"/></clipPath><g clip-path="url(#lc4)"><rect x="190.5" y="33.2" width="34.5" height="147.6" fill="#3e7c3a"/><rect x="190.5" y="33.2" width="34.5" height="147.6" fill="url(#vein)"/><rect x="190.5" y="33.2" width="34.5" height="147.6" filter="url(#f9)"/><rect x="190.5" y="33.2" width="34.5" height="147.6" filter="url(#f10)"/><rect x="190.5" y="33.2" width="34.5" height="147.6" fill="url(#edgeg)"/></g><clipPath id="lc5"><rect x="231.5" y="33.2" width="32.8" height="147.6"/></clipPath><g clip-path="url(#lc5)"><rect x="231.5" y="33.2" width="32.8" height="147.6" fill="#62906e"/><rect x="231.5" y="33.2" width="32.8" height="147.6" filter="url(#f11)" opacity="1"/><g filter="url(#blur1)"><ellipse cx="237.11" cy="133.86" rx="2.98" ry="2.95" fill="#d0c8a0" fill-opacity="0.7"/><ellipse cx="238.91" cy="153.05" rx="2.98" ry="2.95" fill="#d0c8a0" fill-opacity="0.7"/><ellipse cx="258.2" cy="156.59" rx="3.51" ry="2.95" fill="#d0c8a0" fill-opacity="0.7"/><ellipse cx="256.49" cy="87.96" rx="2.98" ry="2.95" fill="#d0c8a0" fill-opacity="0.7"/><ellipse cx="246" cy="119.99" rx="2.49" ry="2.07" fill="#d0c8a0" fill-opacity="0.7"/></g><rect x="231.5" y="33.2" width="32.8" height="147.6" filter="url(#f12)"/><rect x="231.5" y="33.2" width="32.8" height="147.6" fill="url(#vein)"/><rect x="231.5" y="33.2" width="32.8" height="147.6" filter="url(#f13)"/><rect x="231.5" y="33.2" width="32.8" height="147.6" filter="url(#f14)"/><rect x="231.5" y="33.2" width="32.8" height="147.6" fill="url(#edgeg)"/></g><clipPath id="lc6"><rect x="271.7" y="33.2" width="36.3" height="147.6"/></clipPath><g clip-path="url(#lc6)"><rect x="271.7" y="33.2" width="36.3" height="147.6" fill="#5f8f40"/><rect x="271.7" y="33.2" width="36.3" height="147.6" fill="url(#vein)"/><rect x="271.7" y="33.2" width="36.3" height="147.6" filter="url(#f15)"/><rect x="271.7" y="33.2" width="36.3" height="147.6" filter="url(#f16)"/><rect x="271.7" y="33.2" width="36.3" height="147.6" filter="url(#f17)"/><path d="M279.38 123.98v0.11M303.97 61.55v0.46M299.3 167.21v0.58M296.17 112.37v0.85M280.25 134.17v0.6M288.66 96.77v0.01M292.02 96.8v0.62M288.19 169.48v0.68M294.94 65.74v0.42M305.39 84.87v0.16M285.74 54.44v0.83M295.85 67.04v0.94M288.37 82.51v0.89M277.99 71.86v0.42M302.53 86.67v0.56M278.26 69.79v0.36M297.37 153.58v0.78M277.54 99.76v0.16M298.13 79.71v0.97M301.18 163.49v0.35M305.7 147.46v0.14M306.1 52.22v0.99M282.73 71.81v0.53M273.82 142.56v0.74M274.98 145.79v0.51M289.94 112.32v0.73M306.82 122.59v0.23M297.65 97.11v0.44M284.38 126.56v0.25M301.05 95.22v0.67M282.65 79.23v0.68M284.59 108.16v0.14M295.96 101.39v0.16M289.83 62.48v0.07M280.76 61.99v0.32M273.91 170.41v0.82M296.05 148.98v0.41M275.47 37.12v0.39M304.98 106.14v0.72M300.21 56.87v0.97M303.15 73.62v0.05M304.89 168.09v0.16M283.58 54.08v0.1M296.44 44.94v0.77M280.05 180.77v0.87M302.41 58.49v0.52M273.69 101.67v0.11M299.25 169.34v0.23M300.18 146.89v0.79M298.29 102.39v0.18M274.75 101.81v0.21M273.14 43.95v0.58M289.42 88.87v0.66M287.64 106.18v0.91M291.05 135.07v0.68M287.05 180.29v0.34M283.94 72.8v0.37M301.12 89.15v0.25M293.96 92.33v0.98M277.73 116.46v0.21M305.83 140.5v0.55M283.91 69.7v0.6M305.19 59.37v0.07M275.02 159.59v0.61M279.02 77.9v0.12M296.23 67.89v0.01M281.6 164.29v0.84M282.59 125.45v0.98M273.43 99.79v0.58M277.35 73.01v0.36M286.47 147.7v0.42M284.54 106.55v0.39M297.82 140.34v0.2M305.78 82.06v0.62M302.06 83.4v0.91M296.42 66.72v0.51M284.86 71.42v0.11M280.17 39.88v0.5M301.32 119.5v0.38M297.85 56.85v0.03M287.8 147.76v0.94M305.21 127.1v0.89M280.85 65.78v0.37M307.08 155.04v0.65M277.91 147.79v0.66M297.1 70.68v0.21M280.64 166.22v0.15M303.47 51.16v0.94M288.73 163.17v0.05M302.84 148.64v0.65M283.44 62.52v0.81M280.49 162.39v0.4M291.04 84.52v0.2M281.22 48.78v0.29M305.76 64.87v0.46M305.85 128.92v0.39M292.23 68.23v0.77M290.59 90.86v0.44M286.33 122.25v0.66M279.26 78.6v0.85M283.12 64.62v0.57M299.71 174.01v0.27M293.09 117.07v0.52M273.42 80.94v0.64M301.68 83.12v0.15M287.34 173.82v0.51M285.93 120.01v0.51M289.79 35.9v0.81M288.5 131.25v0.92M287.23 102.13v0.16M289.78 147.96v0.15M275.3 171.51v0.43M275.28 92.41v0.98M277.21 41.46v0.48M289.79 172.8v0.02M285.56 166.5v0.59M289.05 68.93v0.14M292.32 119.04v0.53M284.44 127.76v0.3M280.77 169.37v0.56M298.71 81.62v0.05M282.95 142.5v0.51M280.01 35.84v0.38M283.33 48.02v0.74M303.03 129.01v0.38M297.49 97.54v0.47M304.36 88.07v0.39M293.5 64.29v0.73M301.75 46.87v0.61M297.31 84.68v0.91M283.79 134.35v0.42M283.29 131.31v0.38M277.37 134.04v0.97M287.27 147.12v0.04M285.87 105.89v0.18M277.72 88.77v0.74M282.04 76.1v0.02M303.96 48.26v0.24M295.42 177.04v0.01M276.16 86.82v0.84M274.77 140.89v0.23M276.69 145.9v0.25M277.26 112.36v0.32M273.71 55.49v0.56M292.47 70.06v0.16M280.7 119v0.29M305.98 50.42v0.04M292.38 176.96v0.28M284.7 83.4v0.39M303.82 123.26v0.96M277.45 127.11v0.42M281.46 116.74v0.39M285.38 93.94v0.8M297.64 142.83v0.41M272.92 134.16v0.74M282.17 41.39v0.88M273.44 88.43v0.66M291.06 171.69v0.53M306.44 123.41v0.9M283.29 83.43v0.26M292.17 74.24v0.68M298.94 108.8v0.37M288.98 64.59v0.82M305.84 88.64v0.51M287.04 96.83v0.31M290.19 120.85v0.77M300.37 179.29v0.35M298.2 54.21v0.64M306.41 149.63v0.37M303.55 138.66v0.31M284.67 140.67v0.91M301.54 71.09v0.25M282.31 145.6v0M290.02 76.86v0.35M299.29 61.17v0.47M297.37 119.67v0.95M280.61 57.29v0.18M296.82 101.3v0.02M294.27 131.09v0.46M287.6 174.24v0.99M278.93 171.59v0.15M277.28 153.25v0.83M278.77 153.52v0.87M287.69 97.28v0.46M295.87 40.45v0.18M291.44 64.06v0.29M284.68 156.34v0.16M288.95 145.72v0.86M297.72 131.01v0.92M300.08 112.7v0.43M280.77 142.77v0.39M299.64 178.44v0.52M278.77 109.02v0.37M277.19 51.44v0.76M284.49 119.39v0.66M281.92 152.64v0.65M278.76 39.6v0.69M274.12 151.6v0.44M286.51 93.76v0.13M287.86 61.11v0.84M294.68 179.85v0.9M283.05 157.19v0.14M298.44 79.43v0.26M304.18 110.4v0.98M276.6 59.01v0.59M274.63 153.07v0.08M288.22 96.52v0.59M304.65 159.3v0.29M286.66 113.06v0.14M301.55 112.77v0.08M276.61 161.04v0.92M282.43 164.59v0.99M287.12 107.49v0.32M299.16 145.14v0.33M283.68 68.71v0.13M300 113.13v0.63M299.83 69.09v0.55M281.92 160.54v0.21M283.68 133.16v0.1M275.43 108.87v0.64M281.76 36.5v0.26M283.2 35.13v0.52M298.1 132.15v0.73M281.36 35.56v0.7M285.08 37.92v0.57M291.17 156.1v0.7M295.15 104.62v0.24M303.39 162.81v0.46M302.92 141.3v0M281.9 91.51v0.47M288.49 176.82v0.53M292.84 152.7v0.6M294.14 63.02v0.05M301.11 123.18v0.36M305.23 119.36v0.64M297.22 34.49v0.89M296.43 69.94v0.28M277.93 120.13v0.81M299.62 170.51v0.57M290.01 108.41v0.97M293.14 57.28v0.25M283.87 71.39v0.31M298.96 172.28v0.84M305.06 70.97v0.91M300.77 52.44v0.36M306.94 68.36v0.6M282.87 138.09v0.03M295.46 104.95v0.21M302.04 147.25v0.17M299.17 109.3v0.6M288.01 90.41v0.83M305.79 166.21v0.63M301.43 105.75v0.24M305.06 122.62v0.49M273.9 141.19v0.92M273.17 80.53v0.66M299.63 89.23v0.38M290.53 166.35v0.69M277.88 41.31v0.45M294.04 58.56v0.96" stroke="#d08a28" stroke-width="1.7" stroke-linecap="round" fill="none"/><rect x="271.7" y="33.2" width="36.3" height="147.6" fill="url(#edgeg)"/></g><path d="M33 187.1H157.7M190.4 187.1H314.4" stroke="#111" stroke-width="1.6"/><text x="71.79" y="205.9" font-size="16" textLength="51.91" lengthAdjust="spacingAndGlyphs" stroke="#231815">CYR23</text><text x="211.71" y="205.9" font-size="16" textLength="90.07" lengthAdjust="spacingAndGlyphs" stroke="#231815">CYR34(V26)</text><text x="374.59" y="17.6" font-size="21" textLength="15.41" lengthAdjust="spacingAndGlyphs" stroke="#231815">B</text><text x="401.3" y="32" font-size="14" textLength="44.63" lengthAdjust="spacingAndGlyphs" stroke="#231815">M2333</text><text x="451.51" y="32" font-size="14" textLength="43.96" lengthAdjust="spacingAndGlyphs" stroke="#231815">M2365</text><text x="501.1" y="32" font-size="14" textLength="44.56" lengthAdjust="spacingAndGlyphs" stroke="#231815">M3289</text><text x="550.81" y="32" font-size="14" textLength="44.24" lengthAdjust="spacingAndGlyphs" stroke="#231815">M3530</text><text x="603.5" y="32" font-size="14" textLength="36.51" lengthAdjust="spacingAndGlyphs" stroke="#231815">LM15</text><text x="653.98" y="32" font-size="14" textLength="29.65" lengthAdjust="spacingAndGlyphs" stroke="#231815">CBS</text><clipPath id="lc7"><rect x="406" y="38.7" width="31.7" height="147.9"/></clipPath><g clip-path="url(#lc7)"><rect x="406" y="38.7" width="31.7" height="147.9" fill="#94a86c"/><rect x="406" y="38.7" width="31.7" height="147.9" filter="url(#f18)"/><rect x="406" y="38.7" width="31.7" height="147.9" fill="url(#vein)"/><rect x="406" y="38.7" width="31.7" height="147.9" filter="url(#f15)"/><rect x="406" y="38.7" width="31.7" height="147.9" filter="url(#f16)"/><rect x="406" y="38.7" width="31.7" height="147.9" filter="url(#f19)"/><rect x="406" y="38.7" width="31.7" height="147.9" filter="url(#f20)"/><path d="M431.7 171.1v0.23M415.88 109.44v0.2M409.43 148.75v0.4M429.17 176.3v0.53M429.46 46.28v0.99M410.87 161.6v0.59M435.49 139.27v0.58M410.53 47.02v0.96M423.93 69.09v0.33M425.61 111.78v0.65M423.43 165.15v0.03M432.92 133.9v1.16M411.82 43.81v0.36M412.68 121.2v0.35M407.18 78.78v1.13M435.42 137.42v0.35M410.64 161.48v0.15M414.82 123.82v0.2M420.43 48.5v0.42M430.4 165.57v0.99M426.78 183.48v0.12M412.08 78.83v0.99M431.7 124v0.45M417.79 175.28v0.72M412.82 41.27v0.1M408.09 97.47v0.35M426.89 42.36v0.42M412.14 174.11v0.95M424.15 185.82v0.36M432.06 75.67v1.16M421.16 171.36v0.74M411.16 155.82v0.33M419.3 133.83v1.11M412.6 91.02v0.2M435.84 137.17v0.02M414.97 169.82v0.04M423.49 107.95v0.28M433.02 62.52v0.14M412.15 134.45v0.33M415.51 170.05v0.84M431.76 62.31v0.12M408.87 105.54v0.4M421.43 106.67v0.83M418.06 76.44v0.1M431.7 171.27v0.38M409.41 101.83v0.51M425.95 55.88v0.24M413.25 121.18v0.24M419.95 131.14v1.2M410.73 61.27v1M420.57 119.93v0.66M412.7 55.98v0.33M435.04 77.26v0.25M412.41 64.93v1.08M431.83 145.13v0.25M412.75 98.62v0.03M423.21 120.45v0.37M415.33 106.35v0.86M419.9 160.67v0.93M416.93 165.03v0.82M425.84 66.45v0.39M434.55 122.76v0.54M416.76 139.48v0.38M429.98 147.36v0.71M424.34 182.8v1.19M416.07 89.61v0.65M431.34 52.51v0.65M423.72 122.17v0.37M409.17 153.07v0.06M408.65 73.17v0.49M417.15 117.71v0.37M411.38 92.27v0.74M435.67 99.17v0.62M419.91 130.16v0.52M419.59 41.17v0.87M434 183.4v0.93M422.61 148.96v0.2M415.65 95.11v0.43M416.96 141.21v1.06M426.65 93.57v0.4M432.36 145.73v0.48M417.59 64.65v0.7M419.92 178.29v0.01M417.17 144.97v1.12M426.73 106.19v0.91M430.22 106.01v0.56M425.75 125.04v1.04M419.07 101.29v1.08M415.64 154.06v0.53M420.22 171.1v0.01M407.82 174.59v0.51M416.77 132.69v0.29M433.63 86.04v0.32M426.59 84.05v1.04M415.28 64.95v0.73M412.61 58.4v1.13M419.06 112.03v0.04M430.17 76.77v0.76M419.52 64.72v1.09M425.53 57.91v0.55M419.52 151.82v1.15M415.12 83.19v0.25M423.52 69.25v0.41M411.82 97.81v0.71M420.74 101.77v1.06M417.8 86.77v0.73M434.1 153.39v0.64M422.7 151.06v0.62M414.22 81.85v0.36M421.01 107.82v0.21M424.78 53.12v0.47M417.78 77.7v0.49M413.2 180.99v0.45M419.37 58.08v0.62M435.16 43.12v1.16M436.99 185.49v0.8M433.02 167.44v0.17M433.09 82.23v0.11M413.76 104.79v0.67M424.76 72.46v0.33M410.66 121.16v1.03M412.97 125.24v1.01M415.11 49.77v0.09M436.71 177.69v1.14M434.35 102.19v0.82M408.87 66.44v0.05M425.68 148.03v0.47M415.2 153.03v0.73M414.8 176.55v1.17M431.37 102.93v0.43M412.98 115.02v0.01M432.77 84.26v0.46M434.86 168.35v0.09M414.06 98.24v0.39M426.74 49.45v0.32M414.06 111.28v0.22M411.01 153.34v0.31M408.91 173.18v0.53M427.31 58.28v0.3M409.91 184.12v1.19M433.95 61.03v0.71M406.68 51.17v0.39M433.71 99.28v1.01M436.46 106.84v0.5M431.73 179.26v1.09M435.84 71.88v0.05M417.82 44.73v0.71M416.76 54.36v0.2M428.8 162.83v0.75M431.45 103.51v0.87M427.1 148.43v0.21M428.23 122.54v0.73M428.39 179.53v0.27M415.44 177.07v1.19M410.51 155.99v1M436.85 170.55v0.57M413.34 153.38v1.17M431.65 108.94v1.15M411.28 117.82v0.48M418.57 139.15v0.31M427.36 89.51v1.09M421.77 179.82v0.45M407.98 97.85v0.06M436.44 174.13v0.24M419.7 112.67v0.82M416.66 77.57v0.12M436.9 161.22v0.17M431.45 122.22v0.58M425.61 99.01v0.69M417.15 148.28v0.64M425.53 167.51v0.19M407.76 119.57v0.1M417.84 137.22v0.76M412.01 162.17v1.14M413.75 121.11v0.48M425.93 82.29v0.57M421.1 78.46v0.23M424.24 143.54v0.54M413.2 146.31v0.85M435.02 66.95v0.99M406.77 174.49v0.9M433.67 51.13v0.44M408.08 149.35v0.63M419.3 140.61v0.07M414.96 96.39v0.27M428.92 119.85v1.2M408.48 177.85v0.94M436.53 175.3v0.63M435.91 107.18v0.07M416.94 149.74v0.33M432.85 63.91v0.13M408.59 90.52v0.79M423.71 44.72v0.26M429.67 85.14v0.48M436.1 61.71v1.06M432.42 43.69v0.39M422.61 103.96v0.16M429.61 141.82v0.51M415.87 94.7v0.01M425.74 55.25v0.09M435.76 48.24v0.18M414.46 183.97v1M410.12 130.13v0.32M419.49 42.9v0.73M430.44 179.47v0.59M435.36 111.5v0.76M408.17 157.1v0.27M419.97 50.23v0.54M422.64 87.99v0.39M426.11 185.38v0.91M413.44 175.22v0.18M431.04 75.95v0.92M414.14 146.45v0.85M435.81 183.55v0.17M411.04 63.32v1.11M431.24 146.86v0.79M419.73 101.3v0.07M436.39 132.35v0.95M434.36 142.26v0.25M435.76 127.16v0.29M414.32 62.67v1.01M432.63 62.37v0.85M422.73 125.67v0.64M424.28 165.76v0.3M432.99 159.14v1.11M434.86 144.46v0.67M406.75 56.12v0.22M418.34 159.26v0.58M432.98 145.47v0.12M429.35 156.75v0.88M415.61 140.92v0.42M435.66 63.58v0.6M433.76 145.03v1.18M434.18 84.39v0.22M423.32 157.78v1.18M418.78 123.85v0.85M408.22 119.23v1.09M433.22 137.11v0.94M426.23 56.93v0.83M420.69 148.16v0.15M410.01 134.26v0.23M413.84 116.12v0.8M408.02 174.85v1.1M414.53 171.09v0.31M428.32 87.55v1.06M427.43 56.29v0.03M431.93 74.87v0.03M408.94 93.58v1.18M421.29 129.73v0.23M429.41 42.63v1.02M426.13 51.37v0.09M435.55 141.47v0.53M429.13 47.76v1.2M414.15 158.34v0.4M418.18 158.47v0.5M421.15 123.29v0.09M423.1 130.59v0.92M435.98 142.53v0.32M412.84 116.72v1.07M417.4 62.22v0.15M433.24 101.06v0.03M408.2 143.16v0.96M418.63 171.98v0.84M420.36 51.78v0.55M412.28 159.25v0.57M418.62 98.53v0.21M433.5 112.63v0.79M433.59 126.38v0.24M428.79 87.18v0.72M428.24 86.38v0.81M419.52 130.56v0.3M416.68 67.84v0.08M435.68 185.1v0.34M406.83 86.66v1.16M408.02 53.65v0.54M413 84.74v0.25M430.76 152v0.07M432.83 88.05v0.72M431.97 68.69v0.5M408.54 153.62v0.79M421.43 136.86v0.25M409.58 117.81v0.94M411.43 170.12v1.06M419.2 158.09v0.76M432.37 160.51v0.75M411.86 58.39v0.71M410.53 135.83v0.78M421.36 61.97v1.09M421.12 45.99v1.12M435.68 67.79v0.88M425.24 136.9v0.39M409.44 46.06v1.15M408.4 175.31v0.87M417 168.49v0.44M429.73 68.37v0.08M426.73 56.26v1.05M425.17 77.79v0.42M417.7 117.87v0.65M429.75 135.56v1.13M425.97 117.02v1.13" stroke="#e09a2c" stroke-width="1.9" stroke-linecap="round" fill="none"/><path d="M418.69 103.9v0.16M410.08 184.3v0.39M416.98 139.94v0.04M429.75 117.36v0.92M430.94 59.9v0.82M413.67 122.96v0.02M429.16 169.01v0.61M432.19 164.27v0.45M436.36 98.57v0.17M417.39 161.71v0.78M422.7 94.04v0.9M413.55 119.99v0.63M431.22 184.29v0.98M417 101.2v0.73M407.96 162.03v0.86M413.06 68.32v0.74M416.82 47.8v0.19M407.93 101.77v0.44M433.3 153.58v0.39M421.01 100.09v0.8M417.14 136.21v0.47M415.91 180.99v0.66M434.83 134.5v0.84M411.65 141.99v0.74M432.44 161.9v0.75M426.71 100.78v0.18M428.87 133.53v0.99M416.21 106.92v0.43M419.74 171.05v0.55M432.64 103.41v0.12M425.27 75.5v0.25M434.18 178.93v0.56M412.54 51.81v0.08M424.42 78.36v0.74M407.8 114.43v0.92M414.1 86.04v0.24M419.17 159.97v0.72M425.91 177.53v0.1M415.97 75.25v0.77M434.45 147.96v0.63M432.29 55.7v0.62M432.29 113.4v0.97M414.85 156.95v0.79M433.87 72.74v0.53M432.53 51.9v0.48M429.28 140.44v0.84M410.45 132.04v0.81M416.78 179.54v0.93M433.99 84.77v0.15M433.23 107.27v0.59M425.78 133.51v0.25M429.31 151.06v0.1M422.7 175.09v0.18M428.73 157.89v0.44M432.35 60.91v0.74M425.44 110.86v0.1M406.81 147.45v0.7M418.6 121.56v0.5M411.38 129.43v0.06M420.29 129.63v0.17M407.55 111.93v0.56M412.04 45.92v0.69M410.86 136.59v0.99M419.27 181.35v0.3M416.22 118.33v0.61M424.16 150.77v0.65M409.51 96.89v0.83M409.73 102.53v0.34M436.96 146.26v0.24M413.56 184.53v0.15M413.24 108.58v0.66M434.86 184.01v0.32M416.58 182.53v0.65M418.13 99.51v0.09M422.38 114.48v0.31M424.85 119.74v0.23M429.98 123.67v0.04M407.37 119.37v0.42M406.8 40.43v0.04M423.88 49.2v0.86M436.57 67.76v0.44M409.8 162.31v0.81M436.17 148.28v0.13M412.85 109.84v0.86M428.91 49.25v0.02M417.24 150.83v0.26M434.43 142.81v0.72M407.37 145.54v0.27M408.21 98.81v0.49M428.85 169.37v0.28M429.16 44.41v0.59M434.45 40.45v0.99M418.22 123.87v0.98M422.37 101.21v0.17M410.47 132.05v0.01M415.88 112.22v0.31M432.42 48.8v0.46M411.27 55.15v0.68M415.97 144.58v0.64M417.23 61.01v0.39M433.79 131.47v0.54M436.4 114.77v0.65M429.66 58.97v0.15M411.41 119.67v0.01M422.43 70.78v0.4M433.09 117.53v0.52M427.82 140.26v0.6M415.25 179.82v0.59M426.32 123.51v0.41M410.25 171.94v0M416.35 60.02v0.71M416.31 111.66v0.51M426.89 72.4v0.45M434.81 176.33v0.92M428.13 73.71v0.68M433.73 112.21v0.27M415.98 77.75v0.46M415.07 180.54v1M415.56 125.22v0.4M411.76 133.85v0.83M412.68 175.93v0.73M423.11 54.29v0.02M422.4 128.71v0.85M428.33 88.39v0.29M413.66 94.43v0.57M407.62 53.83v0.06M415.09 155.99v0.06M436.07 40.33v0.87M412.3 159.17v0.13M428.91 39.34v0.14M423 106.82v0.33M426.89 59.35v0.24M411.67 83.82v0.22M425.11 60.86v0.58M425 162.36v0.71M409.94 138.14v0.22M435.73 180.28v0.74M418.18 181v0.4M422.54 135.47v0.54M434.63 92.9v0.77M428.88 168.65v0.96M432.88 70.11v0.76M424.92 42.66v0.48M434.92 70.08v0.87M414.17 100.55v0.48M415.85 60.68v0.46M418.28 48.29v0.39M421.24 144.88v0.17M410.16 157.97v0.39M412 105.83v0.01M409.88 149.56v0.66M417.65 169.54v0.39M412.74 152.49v0.49M417.02 42.99v0.52M409.36 180.22v0.56M408.37 46.52v0.92M431.86 180.98v0.89M426.71 183.56v0.48M429.87 49.2v0.06M419.6 59.13v0.3M419.88 136.29v0.32M413.62 138.92v0.34M436.65 134.81v0.75M409.76 115.93v0.43M425.27 148.69v0.37M429.02 158.83v0.16M414.73 180.99v0.19M436.19 110.39v0.87M432.33 129.53v0.95M432.76 59.83v0.13M414.47 43.81v0.37M432.56 114v0.27M414.78 170.52v0.51M435.83 75.88v0.78M414.23 42.46v0.6M419.69 147.19v0.41M409.06 64.33v0.66M418.64 101.68v0.1M422.95 82.81v0.66M420.21 106.8v0.61M423.94 122.64v0.01M435.51 138.99v0.7M410.54 117.95v0.78M427.26 75.44v0.14M406.85 150.44v0.31M412.7 50.74v0.08M422 177.18v0.68M409.42 51.34v0.73M417.96 125.59v0.71M408.5 167.33v0.34M415.04 183.18v0.7M430.37 77.64v0.71M411.95 57.87v0.24M422.13 95.21v0.98M429.4 102.9v0.01M425.54 41.9v0.62M422.26 172.42v0.09M407.02 52.56v0.04M431.96 145.82v0.56M427.4 104.95v0.48" stroke="#eab040" stroke-width="1.7" stroke-linecap="round" fill="none"/><rect x="406" y="38.7" width="31.7" height="147.9" fill="url(#edgeg)"/></g><clipPath id="lc8"><rect x="455.8" y="38.7" width="36.5" height="147.9"/></clipPath><g clip-path="url(#lc8)"><rect x="455.8" y="38.7" width="36.5" height="147.9" fill="#7a9870"/><rect x="455.8" y="38.7" width="36.5" height="147.9" filter="url(#f21)"/><rect x="455.8" y="38.7" width="36.5" height="147.9" fill="url(#vein)"/><rect x="455.8" y="38.7" width="36.5" height="147.9" filter="url(#f4)"/><rect x="455.8" y="38.7" width="36.5" height="147.9" filter="url(#f5)"/><rect x="455.8" y="38.7" width="36.5" height="147.9" filter="url(#f22)"/><rect x="455.8" y="38.7" width="36.5" height="147.9" filter="url(#f23)"/><path d="M475.5 106.31v0.7M473.79 171.39v0.34M468.88 92.43v0.16M462.74 47.26v0.08M461.75 181.09v0.88M484.07 49.6v0.65M477.94 80.91v0.19M474.97 136.07v0.17M458.8 131.23v0.58M467.79 178.88v0.29M476.8 41.97v1.07M474.52 158.82v0.99M482 49.47v0.2M460.75 72.97v1.19M484.87 185.64v0.47M480.67 119.81v1.19M483.33 91.05v0.86M485.77 147.95v0.82M480.38 149v0.64M485.79 111.23v0.28M464.2 60.95v0.25M465.62 104.25v0.05M470.2 86.76v0.9M488.27 181.45v0.85M478.37 47.21v0.43M479 64.95v0.02M462.03 104.67v0.24M474.04 163.18v0.54M491.32 65.08v0.83M473.36 152.61v0.6M479.26 52.63v0.99M486.94 127.42v0.19M467.12 167.52v0.02M488.14 140.46v0.05M490.44 165.63v0.91M461.44 44v1.08M478.22 91.4v0.5M478.91 159.17v0.04M481.52 185.97v0.87M480.71 91.19v1.15M483.48 83.87v0.36M467.11 79.15v1.12M464.07 72.04v0.41M480.96 40.2v1.19M484.95 173.94v1.04M470.54 52.96v0.82M469.59 104.74v1.08M468.16 98.28v1.01M458.89 53.76v0.3M474.79 114.03v1.13M465.9 42.55v0.39M463.43 97.98v0.21M460.25 64.51v0.53M472.28 63.81v0.62M480.81 138.45v0.21M468.35 148.01v1M487.02 139.61v0.62M473 120.28v0.39M489.24 127.92v1.18M468.12 67.74v0.71M478.07 172.38v0.39M491.1 176.18v0.2M474.29 160.62v1.19M468.04 69.8v0.01M463.9 93.2v0.42M479.41 175.69v0.51M462.19 98.7v1.01M459.18 82.21v0.8M485.59 157.11v0.99M457.33 95.95v0.73M477 100.39v0.52M458.25 124.65v0.34M467.33 121.01v0.36M478.48 58.61v0.55M484.37 106.7v0.96M490.51 159.67v1.11M479.95 60.55v0.62M490.15 47.08v0.65M464.89 61.04v0.41M457.79 71.99v0.33M457.21 172.07v0.01M465.66 111.86v0.18M482.15 171.45v0.12M481.23 154.52v0.9M465.76 166.66v0.66M461.4 76.66v0.09M469 169.61v1.19M487.27 54.65v0.22M467.21 90.89v0.36M462.28 59.28v0.96M472.89 74.73v0.63M476.38 101.35v0.33M479.37 180.02v1.07M472.32 51.21v1.13M481.15 45.64v0.48M463.09 138.33v0.62M476.47 47.04v0.7M477.02 154.46v1.18M469.26 124.8v1.17M459.05 91.97v1.07M483.89 39.83v0.43M471.71 175.52v0.16M475.52 109.35v0.81M484.52 44.13v1.02M461.93 94.27v0.93M456.64 149.36v0.53M474.44 91.34v0.08M488.67 78.86v0.92M475.71 117.44v0M458.64 96.44v0.82M486.42 114.76v0.98M468.13 75.11v0.98M460.71 156.84v0.97M487.92 71.54v0.53M461.3 181.31v0.58M469.1 146.01v1.19M457.34 128.21v0.6M470.8 128.54v0.21M457.72 125.61v0.94M470.73 86.48v0.89M474.28 44.98v0.93M476.42 100.76v0.04M458.07 113.03v1.09M469.73 161.73v0.82M468.26 147.54v0.79M487.26 136.01v0.32M487.28 71.02v0.78M466.18 158.35v0.02M481.55 105.41v0.53M480.88 65.99v0.9M479.7 132.81v1.16M475.08 51.73v1.01M466.68 161.07v0.77M459.55 147.48v0.63M486.96 144.19v0.38M459.89 110.32v0.44M490.95 169.51v0.11M465.76 170.59v0.37M479.95 104.21v0.35M476.95 161.49v0.66M465.21 94.67v0.36M459.49 145.53v0.64M480.17 57.44v0.37M480.67 61.02v0.55M484.59 159v0.42M478.21 117.6v0.36M456.94 49.78v0M476.64 165.27v0.72M465.06 80.64v0.26M490.62 167.1v0.38M462.98 91.49v1.2M474.37 127v0.98M471.9 79.44v0.83M469.18 110.12v0.06M491.36 69.07v0.37M469.2 107.94v0.22M468.39 184.61v0.23M469.43 50.24v0.77M478.33 91.12v0.37M482.49 129.54v0.51M489.69 70.14v0.35M468.51 119.97v0.21M475.65 148.25v0.47M483.46 166.35v1.2M468.17 119.5v0.43M483.06 169.84v0.57M473.86 141.04v0.76M461.31 156.89v0.04M488.01 39.78v0.63M490.03 177.31v1.16M478.48 116.36v0.55M469.59 59.61v1.19M460.12 146.75v0.66M459.09 158.69v0.61M473.55 57.96v0.63M458.83 72.43v0.89M457.42 95.88v1M476.18 121.71v1.13M481.1 47.48v1.05M484.5 171.59v0.11M458.21 123.39v0.66M461.72 158.42v0.34M465.42 155.62v1.2M474.27 158.38v0.1M474.75 170.04v0.66M460.74 150.05v1.09M483.06 107.16v0.03M463.29 143.01v0.96M462.27 74.66v1M478.93 81.84v0.1M486.58 50.94v0.41M483.17 93.15v0.05M480.67 126.74v0.97M484.99 76.41v0.09M485.45 101.82v0.28M479.12 62.63v0.87M474.55 133.54v0.97M460.23 72.83v1.18M458.67 161.85v1.07M457.8 93.61v0.56M464.23 171.8v0.17M482.76 88.3v0.78M457.6 58.04v0.82M479.53 63.11v0.01M473.75 160.73v0.3M474.45 78.33v1.16M482.26 61.94v0.92M479.33 161.33v0.75M488.11 58.2v0.67M461.48 93.67v0.42M485.82 98.49v1.02M463.84 102.25v0.22M456.8 126.94v1.14M485.34 111v0.04M466.95 146.38v1.18M458.78 41.82v0.51M470.49 49.19v0.24M479.44 97.71v0.84M461.57 67.64v0.74M487.35 87.58v0.49M464.34 88.44v0.91M483.19 139.96v0.59M485.97 113.85v0.4M485.93 77.88v0.79M476.24 43.24v1.02M483.25 48.27v0.02M472.87 145.82v0.82M484.54 97.4v0.45M475.85 145.82v0M462.07 47.34v0.3M457.51 139.4v0.04M491.33 87.73v0.59M465.2 46.36v0.7M467.69 68.01v0.39M489.33 116.03v0.61M462.82 184.24v0.09M459.15 140.15v0.87M490.92 128.66v1.02M475.45 152.64v0.57M466.62 58.22v0.6M478.96 100.87v0.39M480.37 117.18v0.79M477.38 115.99v0.85M457.67 147.14v0.47M478.35 136.67v1.13M464.14 71.87v0.09M464.25 128.87v0.5M474.25 85.03v0.58M473.16 119.58v0.66M481.4 108.23v0.74M469.12 161.79v0.07M481.67 85.32v0.51M470 148.43v0.01M461.08 150.3v0.79M476.9 100.17v0.06M467.96 67.06v0.27M473.64 164.14v0.69M472.29 41.14v0.92M473.43 53.83v0.54M475.83 182.2v0.41M476.65 145.24v0.8M475.67 139.44v0.36M474.14 50.7v0.36M489.27 146.77v0.53M475.14 116.74v0.65M480.02 45.05v0.19M486.51 42.35v0.52M485.12 133.55v0.3M487.88 133.85v0.72M483.46 97.91v0.33M478.82 84.74v0.29M477.74 159.57v0.48M473.57 167.94v0.09M476.27 105.61v0.84M476.56 75.07v0.72M475.98 87.89v0.8M489.12 39.7v0.03M467.83 150.84v0.34M468.71 125.48v0.13M483.3 50.28v0.46M483.59 84.53v1.01M469.49 111.77v0.83M481.28 87.51v0.23M485.23 144.53v0.1M470.01 144.81v0.68M475.32 129.77v0.89M467.32 108.44v0.03M459.75 169.24v0.06M468.87 158.31v0.81M478.99 47.68v0.45M486.37 52.59v1M460.1 166.64v0.6M457.56 162.96v0.28M481.2 151.96v0.51M465.22 38.98v0.88M462.47 60.95v1.1M465.09 48.6v0.74M459.51 132.22v0.12M466.46 49.27v0.1M482.48 171.81v0.89M474.48 102.77v0.73M471.02 66.32v0.28M481.08 181.64v0.85M461.41 180.67v1.19M491.49 174.4v0.91M490.26 44.13v0.23M490.73 101v0.85M478.99 59.57v0.79M478.35 150.5v0.8M491.15 138.25v0.57M470.25 108.4v0.51M469.3 176.42v0.16M482.68 76.54v0.76M459.82 148.29v0M466.99 137.54v0.75M462.45 156.48v0.87M483.35 141.13v1.18M478.66 99.25v0.54M475.71 149.39v1.19M457.56 157.1v0.37M478.44 82.32v0.1M466.69 142.4v1.17M477.04 110.93v0.1M470.27 156.74v0.72M491.24 46.25v1.15M489.05 47.92v0.15M460.65 170.78v0.44M463.44 151.83v1M464.74 156.4v0.72M480.99 112.28v0.6M466.84 60.92v0.6M473.69 177.07v0.36M467.87 186.27v0.27M458.51 114.29v1.07M467.65 144.9v0.7M485.75 77.03v0.37M471.26 117.26v0.64M478.13 171.07v0.77M486.2 142.42v1.01M461.75 171.12v0.08M491.1 165.91v0.03M470.09 143.63v0.04M476.26 95.71v0.74M471.69 131.65v0.74M480.43 181.13v0.63M490.43 143.22v0.15M472.03 121.38v0.37M479.13 74.33v0.22M485.87 174.95v0.3M470.51 39.08v1.11M488.56 73.18v0.86M486.79 152.21v0.03M459.94 113.03v0.11M486.94 156.71v0.72M484.83 184.25v0.12M490.26 100.1v0.13M472.85 81.6v0.26M490.61 142.7v0.04M486.48 69.47v0.46M477.13 152.4v0.56M471.77 50.63v0.39M487.79 103.4v0.82M468.56 144.67v0.75M460.43 129.01v1.01M489.54 163.94v0.24M464.55 161.12v0.49M487.85 64.97v1.01M471.26 110.84v0.8M466.45 65.89v0.18M489.31 128.8v0.65M475.08 122.94v0.62M486.28 101.86v0.59M462.72 39.53v0.47M473.23 73.66v0.22M491.47 142.95v1.14M475.84 43.24v0.18M490.96 153.55v0.31M457.36 82.07v0.63M468.89 62.4v0.56M482.67 76.99v0.55" stroke="#e0902c" stroke-width="2" stroke-linecap="round" fill="none"/><rect x="455.8" y="38.7" width="36.5" height="147.9" fill="url(#edgeg)"/></g><clipPath id="lc9"><rect x="508" y="38.7" width="34.4" height="147.9"/></clipPath><g clip-path="url(#lc9)"><rect x="508" y="38.7" width="34.4" height="147.9" fill="#527e44"/><rect x="508" y="38.7" width="34.4" height="147.9" fill="url(#vein)"/><rect x="508" y="38.7" width="34.4" height="147.9" filter="url(#f6)"/><rect x="508" y="38.7" width="34.4" height="147.9" filter="url(#f7)"/><rect x="508" y="38.7" width="34.4" height="147.9" filter="url(#f24)"/><path d="M509.67 152.2v0.27M512.36 171.09v0.76M529.4 123.16v0.12M540.87 84.41v1.15M519.08 84.17v1.04M527.06 174.96v0.57M533.19 41.04v0.54M516.42 133.69v0.51M536.29 80.62v0.55M519.56 119.19v0.49M509.97 76.19v0.53M510.82 175.47v0.15M510.72 120.69v0.44M525.54 83.38v0.62M527.39 137.13v0.38M515.86 60.9v0.11M518.56 106.95v0.62M522.42 77.8v1.04M517.9 105.94v0.95M529.84 72.57v0.23M511.26 41.35v0.25M521.54 71.73v0.04M517.51 99.44v0.33M515.39 163.24v1.14M526.69 117.16v0.21M537.69 97.65v0.07M521.31 132.8v1.16M508.71 167.49v0.44M520.8 88.88v0.3M526.8 168.28v0.38M541.35 60.89v0.56M524.15 48.02v0.43M539.36 91.77v0.12M514.42 90.29v0.33M529.46 170.87v0.06M535.45 63.61v1.11M511.54 148.07v1.16M511.38 166.18v1.09M524.34 140.96v0.18M516.49 118.66v0.66M524.39 175.82v0.12M523.92 149.76v0.62M513.78 119.46v0.74M526.93 176.68v0.11M509.84 139.01v0.91M516.23 61.67v0.62M541.4 84.27v0.48M536.9 139.47v0.8M510.99 168.69v0.23M511.34 113.89v0.34M509.83 42.06v1.1M541.13 107.2v0.45M515.46 181.59v0.22M510.89 123.25v0.71M526.86 82.54v0.73M540.57 113.4v1.1M511.99 109.28v0.37M537.64 77.5v0.68M511.24 67.53v0.72M531.92 85.49v0.6M539.31 123.21v0.71M527.12 140.25v0.73M517.87 40.8v0.65M519.17 184.95v1.19M527.86 173.97v0.37M537.77 72.04v0.61M532.86 66.4v0.91M538.96 47.09v0.8M534.15 126.72v0.89M524.55 75.46v0.32M541.56 146.89v0.33M512.1 113.15v0.41M520.22 40.61v0.03M535.06 87.5v0.76M536.77 124.24v0.34M522.11 92.63v0.9M532.42 94.94v0.53M532.78 146.05v0.52M518.42 103.37v1.07M527.92 64.81v0.36M522.48 153.91v0.66M541.42 170.55v0.88M519.58 121.67v0.43M510.96 101.74v0.98M528.64 39.97v1.12M513.33 76.69v0.32M535.83 146.57v0.25M510.11 56.61v0.06M524.4 156.7v0.89M530.37 177.71v0.9M530.67 108.55v0.55M513.53 102.32v0.06M525.1 182.03v0.15M517.38 92.58v0.54M529.06 150.92v1.04M539.07 50.44v0.88M531.32 185.83v0.27M520.54 173.17v0.06M539.8 64.57v0.99M517.63 143.17v0.17M510.69 167.36v0.23M538.62 123.57v0.08M532.93 149.43v0M532.21 41.31v0.15M520.91 186.18v0.8M541.61 153.56v1M536.73 70.69v0.74M516.47 81.48v0.74M531.2 80.32v0.1M529.09 95.29v0.65M533.08 131.37v0.91M536.07 55.56v0.1M510.15 118.63v0.39M532.99 141.98v0.74M533.87 167.48v0.49M522.21 121.32v0.69M540.42 88.04v0.53M522.02 156.4v0.94M520.88 108.27v0.54M528.93 120.99v0.73M511.03 105.86v0.26M514.02 77.85v0.4M515.91 151.42v0.17M513.37 141.01v0.47M531.71 98.52v0.84M521.32 92.72v0.97M515.37 89.8v0.02M510.17 53.8v0.98M533.75 117.97v1.19M529.34 92.7v0.47M523.46 94.99v0.23M531.7 57.5v0.56M534.56 133v0.2M523.07 87.57v0.85M518.47 162.93v0.99M517.08 154.01v1.03M520.91 79.5v0.79M509.69 92.32v0.03M521.14 155.04v0.69M532.98 55.65v0.6M539.41 105.99v0.62M511.62 80.9v0.12M537.76 103.48v0.49M519.47 109.52v0.66M534.62 56.74v1.03M519.56 158.94v0.88M539.09 89.16v0.59M536.89 88.09v0.03M525.59 80.51v0.44M532.4 62.47v0.35M510.17 52.61v0.9M529.85 182.98v0.47M522.89 77.64v0.29M515.81 183.18v0.09M511.77 50.9v0.49M528.68 158.79v0.88M532.64 83.08v0.12M524.57 139.73v0.98M510.93 175.08v0.57M536.86 176.29v0.74M510.05 76.54v0.86M541.23 58.88v0.92M525.3 39.56v0.19M513.12 115.1v0.15M535.29 89.68v0.4M513.28 69.62v0.55M539.86 129.8v0.16M528.24 159.14v1.03M510.05 65.57v0.21M539.97 134.28v0.57M526.78 125.13v1.01M539.5 62.04v0.29M525.51 100.38v0.63M513.36 80.3v0.74M515.25 94.71v0.82M538.98 47.57v0.82M519.23 174.91v0.75M514.42 83.98v1.1M525.25 73.61v0.94M515.99 139.72v0.57M522.74 95.92v0.58M524.16 81.22v0.24M511.68 75.3v1.07M541.42 97.2v1M513.13 137.22v1.08M539.37 125.04v0.57M529.59 83.77v0.5M532.74 88.46v0.19M531.09 88.93v0.32M519.35 46.53v0.46M530.9 157.63v0.22M522.72 84.3v0.46M515.81 170.74v0.03M529.91 150.86v0.44M519.84 174.99v1.14M511.32 115.22v0.75M536.48 148.12v0.71M534.27 92.42v0.73M526.21 106.31v0.25M532.75 87.01v0.72M519.51 64.89v1.16M529.05 116.64v0.31M509.61 108.42v0.03M533.34 170.16v0.42M513.05 115.71v0.17M524.1 49.16v0.66M539.12 67.83v0.27M537.99 72.84v0.84M511.32 64.32v0.27M524.75 72.71v0.47M527.75 141.54v0.58M537.19 141.5v1.05M537.44 79.87v0.79M527.1 144.66v1.19M517.42 62.51v0.39M521.28 152.73v0.59M526.54 154.68v0.04M521.97 85.6v1.01M529.47 90.17v0.6M539.84 149.53v0.74M536.61 53.68v0.19M526.07 162.76v0.24M526.81 106.14v0.19M539.96 55.23v1.14M523.69 116.66v0.88M510.05 95.4v0.84M535.95 172.17v0.69M537.98 114.96v0.81M526.17 84.34v0.33M538.96 54.28v0.7M514.04 70.39v0.57M532.09 152.04v0.41M536.12 146.88v0.72M531.48 39.11v0.92M522.92 164.88v0.86M509.38 46.3v0.49M536.7 174v0.41M512.86 113.73v0.57M518.46 82.12v0.7M512.27 131.09v0.28M510.62 153.59v0.11M536.63 87.82v0.92M526.38 151.8v1M515.51 145.15v0.97M540.98 61.06v0.46M536.52 122.69v0.21M514.72 145.88v0.64M519.99 40.21v0.74M541.37 90.11v1.17M524.46 168.18v0.91M519.68 105.33v1.1M522.62 169.28v0.06M523.1 124.31v0.84M510.02 98.48v0.67M519.71 112.86v0.68M520.99 120.37v0.88M530.39 148v0.68M533.29 109.4v0.53M527.72 113.44v0.29M514.71 175.2v0.56M510.25 184.26v0.87M540.82 115.55v0.17M531.64 48.42v0.37M540.9 58.43v0.45M527.52 157.76v0.66M521.12 45.43v0.56M536.57 43.08v0.66M510.21 69.24v0.51M518.18 145.84v0.87M508.91 79.36v1.04M518.66 127.45v1.03M533.54 168.34v0.63M530.31 150.57v0.31M511.35 106.37v1.15M531.72 108.44v1.11M529.62 137.64v1.03M515.24 99.34v0.25M509.57 176.67v0.19M519.51 142.29v1.16M514.93 155.85v0.73M527.3 45.54v0.22M539.91 68.83v0.91M513.27 163.73v0.5M538.71 182.46v0.81M509.72 95.6v1.1M537.43 175.52v0.07M529.86 149.85v0.09M520.92 137.96v0.74M513.91 151.34v1.09M535.92 152.45v0.67M535.43 169.55v0.21M524.33 153.78v0.53M534.68 162.79v0.93M511.91 59.32v1.13M524.43 131.31v0.72M512.24 141.3v0.71M516.58 162.82v1.15M531.29 167.89v1.15M536.42 182.98v0.86M522.3 181.57v0.61M528.11 153.11v0.38M509.55 42.05v0.87M516.38 63.35v0.22M529.91 116.61v0.69M514.45 141.89v0.97M513.41 91.47v0.19M513.53 99.96v0.45M540.67 74.53v0.05M522.59 60.47v0.22M528.56 77.85v0.95M520.91 175.8v0.77M527.91 171.66v0.8M533.65 133.09v1.13M512.69 55.19v0.38M533.16 79.24v1.04M523.28 119.59v1.01M522.25 111.89v0.8M512.34 133.03v0.28M520.96 125.75v0.81M529.04 164.66v0.32M519.37 63.01v0.88M524.16 54.79v0.47M538.5 145.1v0.33M514.63 76.41v1.03M536.77 46.56v1M538.86 106.56v0.72M533.65 98.13v0.73M517.74 86.35v0.27M508.74 89.11v0.59M513.25 167.79v0.95M532.02 88.89v0.51M538.32 181.57v0.32M522.5 73.67v0.73M520.93 83.19v0.85M520.62 68.79v0.67M524.54 98.86v1.12M510.28 152.29v0.15M527.36 85.33v0.08M517.14 154.34v1M528.15 83.81v0.5M528.45 153.77v0.85M539.71 146.45v1M510.53 97.85v0.08M525.78 112.75v0.39M516.07 57.12v0.69M527.91 74.34v0.05M514.92 128.05v0.01M526.54 81.53v0.25M514.74 121.47v1.04M521.56 41.49v0.06M509.82 41.23v0.33M512.12 59.02v0.25M512.65 149.17v0.05M517.84 117.65v0.32M526.06 51.47v0.75M537.68 179.68v1.03M531.24 103.36v0.27M519.47 147.85v0.99M512.08 144.48v0.64M536.73 87.42v1.06M541.66 142.05v0.4M519.23 144.67v0.91M528.74 107.03v0.35M530.8 68.86v0.17M536.91 144.1v0.62M515.95 143.73v0.86M525.15 149.31v0.52M529.85 152.14v0.73M524.08 109.77v0.35M531.34 157.38v1.08M533.6 152.23v1M528.79 170.15v0.02M530.67 150.07v0.13M525.72 120.92v0.53M527.29 100.34v0.74M521.93 169.22v0.6M535.68 122.5v0.05M539.38 158.06v0.38M531.48 136.24v0.96M519.85 91.33v0.84M514.28 148.35v0.17M531.93 136.21v0.82M514.62 145.88v1.01M528.4 99.23v0.38M525.65 66.48v0.62M517.46 143.51v1.01M536.71 101.23v0.05M518.06 102.65v0.29M518.11 74.6v0.04M512.67 139.83v0.51M535.12 76.03v0.99M541.42 72.75v0.31M517.72 130.3v0.26M516.88 164.98v0.43M529.33 101.27v0.62M531.89 125.98v0.54M519.69 97.8v1.18M513.77 110.65v1.14M535.58 98.48v0.86M523.8 88.53v0.96M536.98 40.94v0M538.41 83.06v1.04M525.56 96.14v0.27M524.48 159.9v0.88M524.08 153.71v1.02M519.74 170.08v1.05M528.52 181.22v0.39M534.96 87.7v0.16M515.79 141.7v0.69M510.34 182.94v1.1M527.24 132.56v0.03M525.37 118.03v0.23M520.91 177.02v0.24M525.86 155.03v0.31M534.46 118.16v0.21M525.84 72.35v0.78M538.31 107.71v0.2M536.87 127.88v0.27M531.22 145.93v0.26M534.29 75.2v0.89M539.25 49.99v0.05M518.1 58.56v0.53M512.9 87.64v0.69M515.73 104.06v0.68M533.7 150.48v0.97M511 80.24v1.18M521.7 144.01v0.98M530.72 95.98v0.97M522.29 160.4v0.9M528.47 165.41v1.19M511.89 186.02v0.24M540.02 133.28v0.46M522.29 131.33v0.73M517.15 117.11v1.01M510.33 184.58v1.01M521.45 90.44v0.3M534.54 121.82v1.04M527.05 64.18v0.91M511.04 177.15v1.18M517.94 158.32v0.85M510.19 128.09v0.37M513.41 75.67v0.68M538.97 81.39v0.9M521.57 178.84v1.07M525.22 45.59v1.11M512.33 186.46v1.19M541.3 129.65v0.07M534.68 49.82v0.17M527.93 143.34v0.43M540.15 77.66v1.19M508.85 162.76v0.02M510.14 129.66v0.45M530.15 52.51v0.71M519.05 168.82v0.94M526.45 181.77v0.92M528.76 171.65v0.52M522.77 163.42v0.14M519.88 62.46v0.57M526.03 131.23v0.28M536.54 121.69v0.38M534.75 55.54v0.46M541.5 153.76v0.25M509.34 142.79v0.36M516.59 184.83v1.09M510.91 90.11v0.12M512.6 144.77v0.49M510.25 147.2v0.32M519.08 153.5v0.77M508.89 105.71v0.56M523.13 164.31v0.83M524.56 63.16v0.79M518.91 93.74v0.34M535.82 130.45v0.56M529.17 85.04v0.99M530.07 60.18v1.06M530.31 185.63v1.05M535.07 116.39v0.84M535.96 131.3v0.45M512.26 134.7v0.26M533.18 107.05v1.2M511.32 45.57v0.61M520.35 163.44v0.97M509.3 59.99v0.88M516.93 151.39v0.32M532.78 156.96v1.08M534.6 167.95v0.46M508.91 78.68v0.52M519.37 61.34v1.03M514.83 140.38v0.17M537.34 92.24v0.04M510.81 153.09v0.56M541.52 141.12v0.78M523.72 143.83v0.76M516 168.15v0.6M541.47 143.97v0.18M523.22 154.38v0.37M510.93 122.87v0.14M538.8 112.43v0.48M516.71 156.12v1.04M520.44 44.09v1.11M528.95 52.79v1.12M525.41 59.76v0.71M525.09 160.23v0.41M520.19 74.06v0.35M534.52 53.18v0.51M509.37 105.56v0.47M513.74 150.99v0.7M540.48 171.93v0.91M521.73 83.64v0.03M518.25 71.01v1.02M525.72 58.34v0.68M518.93 176.22v0.03M539.98 56.46v0.99M517.16 120.59v0.71M537.42 48.38v1.14M510.49 76.38v0.34M532.51 56.25v1.18M531.51 114.09v0.15M540.79 76.15v0.29M535.79 62.2v0.03M530.91 174v0.14M518.65 68.97v1.18M528.08 155.8v0.51M520.73 160.87v0.02M526.06 87.38v0.56M537.34 165.02v0.54M518.24 156.24v0.68M533.12 165.92v0.59M517.49 133.53v0.87M524.36 139.9v1.07M521.26 75.5v0.88M510.19 158.8v0.97M515.16 167.69v0.21M541.56 73.2v0.38M525.63 186.58v1.05M509.04 122.3v0.62M513.95 41.86v0.37M510.01 114.24v1.04M539.61 86.98v0.44M530.15 104.42v0.84M523.32 73.27v1M534.31 116.34v0.38M533.29 74.97v0.52M514.79 81.91v0.49M536.55 167.18v0.63M540.29 161.97v0.59M530.24 102.59v1.18M529.65 145.08v0.99M528.19 177.13v0.48M535.17 173.04v0.27M512.8 151.09v0.69M509.26 121.34v0.54M540.44 46v0.22M539.54 173.45v0.12M531.56 102.49v0.58M538.42 66.53v0.01M525.6 170.18v0.91M535.03 179.8v0.86M531.41 64.37v0.07M536.38 109.38v0.13" stroke="#e2880e" stroke-width="2.2" stroke-linecap="round" fill="none"/><path d="M522.77 169.19v0.9M535.77 117.3v0.96M509.45 88.71v0.49M532.53 91.34v0.5M509.22 97.82v0.43M517.53 124.67v0.7M517.43 159.7v0.1M521.35 117.35v0.89M522.71 155.01v0M539.24 178.24v0.5M533.18 108.32v0.64M539.04 109.6v0.16M515.61 84.44v0.53M517.23 93.54v0.2M531.33 151.74v0.14M523.17 104.99v0.74M540.46 167.72v0.87M519.84 88.72v0.47M520.38 159.76v0.23M514.46 113.25v0.98M531.99 114.66v0.25M530.78 85.59v0.03M511.01 121.05v0.92M512.93 154.55v0.36M528.65 169.88v0.87M523.9 168.12v0.42M533.27 138.56v0.58M508.98 98.85v0.56M522.22 172.79v0.83M538.4 162.53v0.4M537.41 155.56v0.93M529.62 114.13v0.02M531.4 144.63v0.08M516.66 92.82v0.67M535.98 172.86v0.54M520.21 139.09v0.9M526.33 156.05v0.49M529.05 127.13v0.82M525.34 89.94v0.93M519.3 179.63v0.35M526.69 128.96v0.07M533.87 136.4v0.12M514.42 99.46v0.42M514.51 158.58v0.18M530.75 143.09v0.07M537.98 133.49v0.81M533.54 146.81v0.55M541.04 132.62v0.87M528 100.58v0.3M517.63 169.98v0.12M523.18 174.56v0.43M514.17 161.6v0.09M536.82 186.07v0M517.49 94.8v0.66M523.29 147.2v0.51M522.18 141.09v0.34M517.92 89.87v0.37M513.92 180.56v0.54M523.29 153.1v0.43M538.37 88.7v0.81M521.02 91.75v0.33M541.59 99.31v0.24M516.67 126.7v0.05M516.94 122.78v0.32M511.25 159.36v0.44M530.16 170.76v0.25M537.56 87.26v0.3M533.31 149.8v0.69M520.22 173.81v0.27M539.15 90.88v0.37M528.49 92.76v0.24M524.79 122.68v0.24M517.88 86.07v0.59M525.89 117.74v0.1M516.78 162.28v0.29M524 179.28v0.31M509.23 114.23v0.78M520.73 88.75v0.13M523.68 154.31v0.36M523.5 144.43v0.85" stroke="#f0a030" stroke-width="2" stroke-linecap="round" fill="none"/><rect x="508" y="38.7" width="34.4" height="147.9" fill="url(#edgeg)"/></g><clipPath id="lc10"><rect x="555.8" y="38.7" width="31.7" height="147.9"/></clipPath><g clip-path="url(#lc10)"><rect x="555.8" y="38.7" width="31.7" height="147.9" fill="#b4bc7c"/><rect x="555.8" y="38.7" width="31.7" height="147.9" filter="url(#f25)"/><rect x="555.8" y="38.7" width="31.7" height="147.9" fill="url(#vein)"/><rect x="555.8" y="38.7" width="31.7" height="147.9" filter="url(#f26)"/><rect x="555.8" y="38.7" width="31.7" height="147.9" filter="url(#f27)"/><rect x="555.8" y="38.7" width="31.7" height="147.9" filter="url(#f28)"/><path d="M571.15 148.75v0.23M573.17 180.63v1.18M572.52 139.58v0.92M562.51 81.54v0.64M559.48 124.48v0.73M562.71 97.24v1.23M563.31 131.78v0.69M582.45 99.19v0.03M572.09 133.68v0.54M559.16 144.65v0.85M558.71 45.97v0.56M581.97 64.77v0.16M584.51 77.83v0.18M572.22 104.92v1.38M559.14 101.16v1.04M566.37 156.1v0.93M574.66 97.58v1.06M586.36 178.94v0.77M586.8 149.71v1.16M579.4 165.54v0.94M566.54 154.38v0.38M581.97 183.08v1.23M579.05 89.3v0.47M584.62 132.73v0.14M563.38 182.07v0.91M578.22 145.27v1.35M581.69 145.22v0.36M561.66 95.78v1.58M573.6 139.79v0.9M579.27 150.3v1.19M583.36 45.05v1.51M564.6 131.24v0.25M583.54 51.2v0.34M583.88 118.94v0.88M579.89 56.77v1.26M573.98 70.02v1.15M571.57 111.05v0.55M556.76 106.25v0.19M574.84 119.37v0.79M571.68 163.1v0.04M572.15 60.07v1.6M557.49 159.37v0.99M557.66 65.84v0.99M577.97 112.86v1.38M578.47 151.02v0.37M570.13 116.92v0.59M568.76 54.26v0.29M585.12 92.12v0.33M562.77 54.91v0.15M558.45 79.93v1.11M561.01 173.61v0.73M566.56 43.13v1.4M575.25 53.76v1.31M568.16 145.17v1.56M584.69 112.91v0.83M579.13 79.54v1.21M561.26 96.66v0.52M561.84 73.71v0.07M564.88 115.78v0.79M561.88 109.84v0.01M571.08 183.82v0.7M563.61 138.25v0.55M558.91 95.16v0.1M556.8 95.92v0.96M571.4 175.45v1.26M580.71 141.17v0.57M585.93 97.72v0.79M562.55 120.05v1.27M560.33 56.8v0.18M585.38 111.01v0.15M557.38 145.94v0.15M559.89 161.63v0.03M584.09 175.5v0.78M556.72 87.06v1.56M576.15 129.83v1.11M559.54 115.09v1.26M572.97 51.28v0.97M559.5 128.62v0.84M556.99 43.34v0.95M559.95 131.71v0.93M562.27 183.57v0.99M567.66 137.36v1.35M564.49 173.35v0.8M563.02 162.1v1.13M563.4 180.27v1.31M576.98 100.06v0.7M584.25 117.24v0.41M585.84 153.4v1.25M567.73 40.67v0.63M569.04 156.6v1.2M560.08 89.58v0.04M579.2 148.7v0.47M565.57 114.14v0.55M556.89 146.55v0.28M585.12 113.05v0.26M583.08 159.06v1.53M571.09 58.12v1.02M561.32 178.76v0.09M582.71 114.57v0.83M558.36 128.49v1.07M577.07 116.17v0.29M579.85 151.14v1.01M573.41 56.6v0.68M557.33 87.06v1.08M578.6 172.98v1.37M557.24 159.99v1.52M563.91 145.39v1.14M567.74 121.32v0.23M568.56 143.93v1.42M566.09 76.29v1.38M574.13 128.02v1.26M558.42 147.27v0.14M567.29 95.19v0.69M562.69 95.8v1.24M570.57 43.76v0.4M578.16 127.39v1.44M560.02 185.27v0.6M579.46 151.56v0.23M560.03 172.98v0.22M568.81 147.67v0.17M582.1 61.43v0.22M586.56 85.81v1.29M579.39 180.11v0.21M578.59 152.53v0.48M584.82 141.69v1.02M558.24 126.47v0.2M572.49 51.12v0.64M579.47 118.43v1.26M560.43 100.61v1.38M572.18 46.52v0.52M583.75 174.8v0.3M584.35 49.53v0.69M563.76 82.86v1.2M568.41 55.47v0.86M564.71 178.65v1.23M579.2 59.18v0.19M584.67 104.2v1.21M562.77 82.64v1.08M578.46 148.19v0.39M562.7 158.1v1.17M578.23 67.48v1.31M586.69 58.27v1.32M572.42 132v0.83M584.6 151.17v0.45M583.5 147.5v0.32M571.63 102.22v0.87M579.63 113.67v1.11M580.16 177.61v0.28M576.5 43.22v1.21M580.95 137.44v1.51M582.8 136.42v0.56M566.3 127.03v0.94M556.88 141.11v0.5M567.47 169.69v0.68M582.52 177.9v0.62M556.97 125.69v0.21M571.98 137.12v0.93M563.89 128.98v0.99M560.67 90.35v1.36M566.65 71.19v1.13M582.87 56.56v0.34M571.41 59.4v0.85M581.91 169.26v1.37M579.2 123.86v0.9M567.14 127.35v1.47M585.17 157.26v1.4M568.67 52.79v0.67M578.24 96.81v1.12M579.81 65.47v0.1M573.37 52.72v0.68M569.46 142.55v0.29M570.4 96.09v0.19M570.22 177.95v0.06M584.21 105.37v0.02M563.11 113.41v0.48M560.33 67.11v0.21M585.46 52.79v0M568.11 185.49v1.5M575.67 148.26v0.09M563.38 96.6v0.58M563.64 159.35v0.44M566.26 129.86v1.53M580.56 61.02v0.47M582.49 96.48v1.23M581.89 174.49v1.39M577.67 168.45v0.91M558.91 174.36v0.3M566.91 102.84v1.15M559.89 98.93v0.84M566.77 184.76v0.88M568.92 62.45v0.14M577.13 135.67v0.55M575.83 149.96v1.32M580.49 97.5v1.14M557.92 114.88v1.29M574.34 80.73v1.03M562.86 180.52v1.14M579.42 176.79v1.05M570.25 185.2v1.22M568.08 98.79v0.89M573.31 83.3v1.11M569.55 117.16v1.04M568.9 97.2v1.59M568.78 122.05v1.08M576.92 144.49v0.21M569.3 144.4v0.2M580.79 68.29v1.35M563.77 95.49v1.21M567.67 164.14v1.51M557.15 112.23v0.69M559.98 147.84v0.34M561.34 48.89v0.51M584.7 167.07v0.99M578.19 184.67v0.37M579.69 92.67v0.14M586.62 108.31v0.49M569.42 129.6v1.22M570.23 167.12v0.46M562.43 55.08v0.19M566.31 85.24v0.07M584.03 115.23v1.34M560.1 145.04v0.49M562.02 66.29v1.06M580.29 66.3v0.39M578.22 142.72v0.99M564.52 95.21v1.53M565.19 89.5v1.38M559.85 136.24v1.57M561.25 127.43v0.45M578.58 144.15v1.45M560.98 94.69v0.93M570.28 163.71v1.04M562.63 136.54v0.89M586.69 94.12v1.21M562.67 150.73v0.6M581.23 94.3v1.4M560.82 140.77v1.34M581.47 46.99v0.61M585.29 154.98v0.4M579.4 60.63v0.3M567.93 162.16v1.1M582.73 97.76v1.2M560.68 129.89v0.42M574.21 146.18v0M561.93 40.28v0.95M565.24 178.78v1.17M558.67 171.86v0.27M560.93 103.54v1.24M574.64 66.74v1.04M580.83 175.25v0.07M576.19 90.07v0.08M569.22 88.52v0.87M583.38 115.25v1.52M584.26 120.07v0.77M567.44 160.48v1.59M579.96 39.21v1.18M562.13 123.53v1.45M568.64 49.95v1.35M586.72 122.55v0.31M556.63 105.07v0.67M586.38 120.62v0.69M564.37 113.19v0.79M577.61 149.56v1.05M571.78 174.29v1.2M586.82 154.82v0.89M581.14 182.97v1.51M569.73 127.47v0.29M578.26 85.25v0.31M561.38 128.43v1.52M558.31 178.14v0.91M583 173.09v0.28M573.54 56.65v0.92M568.91 151.57v1.36M559.33 86.41v0.14M561.94 137.7v0.92M573.67 41.05v1.29M569.35 87.9v0.11M577.16 150.83v0.57M573.07 133.68v0.05M557.12 154.82v0.51M566.96 41.16v0.06M564.14 48.84v0.48M579.64 174.69v0.94M561.65 140.8v1.46M566.47 184.65v0.86M584.48 173.24v0.72M570.52 122.99v1.43M583.8 90.75v0.56M557.48 183.88v1.55M558.57 128.1v1.58M558.58 98.6v1.17M575.91 44.74v0.73M575.34 130.39v0.73M582.08 131.3v0.84M573.76 127.88v1.13M585.94 184.95v0.53M573.2 79.7v0.23M562.98 106.18v0.36M576.19 129.37v0.09M571.21 58.74v0.16M567.87 154.55v1.18M556.7 85.49v0.85M565.81 156.89v0.69M575.1 81.23v1.26M565.27 71.05v0.35M579.02 42.28v0.16M557.47 39.43v1.56M573.23 148.84v0.96M575.87 75.07v0.99M580.19 102.01v0.29M582.09 169.53v0.86M584.66 106.39v0.7M585.51 136v1.41M565.11 92.6v1.21M563.94 112.14v0.95M571.19 161.42v0.23M569.14 51.24v1.4M565.56 44.61v0.99M572.91 105.36v1.29M563.31 131.85v1.07M559.31 38.78v1.35M557.36 76.8v1.24M570.46 85.7v0.46M583.19 71.76v0.49M570.65 69.56v0.18M574.75 142.27v0.67M581.45 174.75v1.28M577.42 88.15v1.37M576.72 42.01v1.58M576.79 150.2v0.74M573.58 45.16v0.18M570.47 166.34v0.51M569.53 41.94v0.49M579.33 182.49v0.17M565.2 175.58v0.67M580.74 61.82v0.58M557.52 139.3v1.4M560.67 139.47v0.39M568.49 158.44v0.4M572.56 174.46v0.15M579 54.97v0.58M559.22 49.37v0.23M569.83 128.19v1.13M571.71 93.61v0.62M557.83 70.73v0.2M567.54 88.45v1.1M559.9 49.29v0.2M558.53 98.5v1.59M563.28 141.6v0.13M567.8 111.69v0.2M574.13 59.69v0.54M581.36 134.68v0.84M580.51 172.74v1.57M557.9 69.27v0.88M560.91 142.67v0.64M585.58 124.64v0.71M576.73 132.95v0.02M561.07 89.07v0.87M573.28 104.35v1.05M580 163.69v0.95M556.48 93.7v1.41M567.59 47.6v0.72M584.99 106.6v0.46M584.2 147.63v0.05M584.84 111.41v0.19M563.08 49.05v0.53M565.69 75.87v0.53M583.24 49.9v0.18M565.9 51.45v1.47M580.84 71.98v0.36M556.56 98.74v0.6M559.03 125.97v0.01M558.82 69.17v0.68M559.78 129.85v0.02M569.33 92.24v1.14M561.54 134.31v1.42M570 139.22v1.36M557.82 182.14v1.32M563.68 91.85v1.14M566.93 180.64v0.97" stroke="#dca030" stroke-width="1.8" stroke-linecap="round" fill="none"/><rect x="555.8" y="38.7" width="31.7" height="147.9" fill="url(#edgeg)"/></g><clipPath id="lc11"><rect x="603" y="38.7" width="34" height="147.9"/></clipPath><g clip-path="url(#lc11)"><rect x="603" y="38.7" width="34" height="147.9" fill="#5e9258"/><rect x="603" y="38.7" width="34" height="147.9" filter="url(#f29)"/><rect x="603" y="38.7" width="34" height="147.9" fill="url(#vein)"/><rect x="603" y="38.7" width="34" height="147.9" filter="url(#f13)"/><rect x="603" y="38.7" width="34" height="147.9" filter="url(#f14)"/><path d="M628.61 134.06v0.82M610.15 138.78v1.94M617.64 164.54v0.07M620.91 68.51v0.99M623.63 165.29v1.05M632.04 87.03v0.26M618.86 144.49v1.42M604.88 75.46v0.51M619.07 166.15v0.54M605.18 171.52v1.74M628.84 44.42v0.52M609.45 174.03v0.25M607.84 71.33v1.58M610.14 184.14v0.62M624.9 67.08v0.58M631.93 186.24v0.48M615.09 47.19v0.39M616.21 115.78v1.15M615.09 62.08v1.11M615.07 89.74v1.95M622.85 40.94v1.91M635.33 96.37v1.96M607.11 174.57v0.34M631.88 138.89v1.92M613.55 135.42v1.88M607.89 66.08v1.11M608.04 46.77v0.03M615 134.83v0.93M623.4 42.6v0.2M622.14 61.89v0.03M605.69 135.11v1.92M619.88 39.63v0.39M625.92 155.93v0.41M618.94 44.07v1.08M628.36 112.59v1.57M611.33 137.21v0.94M623.38 49.47v0.91M623.92 73.33v1.11M604.32 100.52v1.88M624.8 113.56v1.74M626.32 113.97v0.75M632.2 122.16v0.98M615.8 61.29v0.38M623.35 118.17v1.55M618.34 95.57v1.11M611.88 180.92v1.27M613.5 111.41v1.68M634.72 142.21v1.75M630.01 93.03v0.84M618.86 46.4v1.18M621.71 155.11v0.68M635.58 147.96v1.16M611.11 176.83v1.37M624.37 67.36v0.4M610.09 174.51v0.89M626.57 141.01v1.62M613.11 68.56v1.93M608.27 186.57v0.79M604.38 83.21v1.53M616.91 59.33v0.16M605.29 123.28v0.73M625.81 57.31v0.57M621.75 86.85v1.39M612.19 149.73v1.33M617.14 142.87v0.69M633.72 148.35v0.57M631.44 131.51v1.73M626.86 173.88v1.09M614.92 147.44v1.85M620.82 144.61v1.21M614.53 68.34v1.25M609.13 104.83v1.55M616.11 102.73v1.93M622.95 118.66v0.39M628.12 93.18v1.43M634.81 161.69v0.44M633.99 137.12v0.35M605.1 75.35v1.17M619.51 39.36v1.9M605.85 162.73v0.99M629.76 158.48v1.39M616.01 115.4v0.41M612.25 42.01v0.73M633.11 145.13v0.12M614.86 103.28v1.05M620.33 162.57v0.39M624.58 134.5v0.03M608.63 56.18v1.23M631.7 169.12v1.68M621.57 130.29v1.33" stroke="#b8d0b8" stroke-width="0.7" stroke-linecap="round" fill="none"/><rect x="603" y="38.7" width="34" height="147.9" fill="url(#edgeg)"/></g><clipPath id="lc12"><rect x="652" y="38.7" width="35.8" height="147.9"/></clipPath><g clip-path="url(#lc12)"><rect x="652" y="38.7" width="35.8" height="147.9" fill="#66894a"/><rect x="652" y="38.7" width="35.8" height="147.9" fill="url(#vein)"/><rect x="652" y="38.7" width="35.8" height="147.9" filter="url(#f15)"/><rect x="652" y="38.7" width="35.8" height="147.9" filter="url(#f16)"/><rect x="652" y="38.7" width="35.8" height="147.9" filter="url(#f30)"/><path d="M654.23 174.64v0.24M662.57 51.33v0.1M665.64 138.43v1.95M673.15 160.83v0.62M656.83 156.23v1.98M667.61 61.34v1.06M673.67 99.37v0.99M674.69 159.39v1.15M663.93 47.37v1.41M658.05 85.39v0.11M660.67 150.84v0.62M684.38 63.57v1.36M653.16 140.74v2.39M672.23 124.53v1.22M670.01 117.09v1.29M680.02 43.18v1.85M679.3 112.09v2.36M686.51 62.48v0.39M656.12 92.85v1.3M680.78 159.94v0.1M680.32 88.77v1.48M670.46 74.27v0.69M670.02 47.54v0.31M655.61 153.41v1.79M663.97 44.33v1.92M658.64 56.83v1.77M669.43 107.37v2.05M660.11 113.89v0.65M685.51 74.94v0.01M665.31 53.44v0.99M659.81 70.2v1.53M653.26 82.47v1M655.01 93.61v1.98M679.09 176.33v0.14M686.54 66.31v0.49M675.36 131.16v1.48M672.99 169.1v0.42M658.19 150.87v1.11M656.67 78.51v1.87M666.35 107.42v1.71M658.89 127.82v0.68M677.23 64v1.84M655.05 73.79v2.09M671.69 98.44v1.43M675.98 108.04v0.38M655.25 70.92v0.42M680.25 87.42v2.01M677.07 60.89v0.12M663.67 154.99v1.84M680.9 169.26v0.69M679.15 145.66v1.53M664.86 113.5v1.77M673.5 130.18v0.6M676.94 138.42v1.46M684.72 154.88v1.54M673.2 110.03v2.22M653.87 44.18v0.67M672.03 73.46v0.45M680.71 166.6v1.61M672.46 140.65v1.98M668.03 106.95v0.18M657.45 186.44v0.76M686.28 88.02v1.48M681.54 153.2v0.59M676.14 148.79v1.58M659.86 39.34v1.51M663.88 162.9v0.92M663.4 74.22v1.83M686.27 148.31v0.97M669.02 173.83v2.06M661.13 122.07v0.74M676.62 163.54v1.55M678.43 73.58v1.8M655.09 160.48v1.71M666.93 129.59v1.31M676.58 185.3v0.52M667.78 60.74v0.88M660.19 72.55v1.36M673.98 56.65v0.74M662.78 69.44v2.16M682.86 150.4v0.53M657.12 168.32v0.14M673.23 161.21v2.04M669.14 117.64v0.22M660.01 76.08v0.79M680.74 136.94v1.03M666.43 158.93v1.94M672.41 145.77v1.43M674.72 97.27v1.85M666.57 138.45v0.86M684.94 115.59v0.17M662.01 72.86v1.27M665.9 86.84v1.41M655.61 143.99v1.8M677.38 57.7v0.96M660.14 157.59v0.66M661.53 51.01v2.1M671.32 104.99v0.1M659.75 70.89v2.02M660.93 50.22v1.57M677.71 76.43v1.58M661.58 142.04v2.03M675.34 172.79v1.04M656.73 80.71v1.17M663.24 114.59v0.52M674.25 184.48v1.81M668.58 112.1v1.94M685.79 100.67v2.38M679.86 111.53v0.54M669.69 62v1.29M679.4 156.55v0.69M655.7 171.96v2.17M655.89 95.35v0.91M672.09 161.4v2.21M683.01 116.19v0.72M665.93 75.67v0.79M679.75 40.1v1.39M683.53 183.4v0.59M672.03 83.78v2.21M677.02 121.81v2.01M665.74 127.81v0.44M666.47 155.3v0.2M676.64 108.13v1.28M685.57 163.03v0.95M658.99 127.34v0.04M667.95 70.45v0.69M683.7 43.15v1.22M654.26 105.09v0.81M659.87 165.5v1.19M684.19 85.3v2.34M662.1 88.61v0.12M678.73 123.92v1.82M653.54 105.81v1.44M664.05 170.95v0.17M678.69 61.18v1.09M684.44 111.95v0.31M669.19 149.9v1.44M674.05 112.59v2.13M658.72 106.07v1.77M656.13 70.11v0.8M677.72 116.72v2.11M683.27 53.81v1.35M653.19 139.39v2.13M685.6 95.19v0.61M659.09 94.5v1.56M661.18 170.15v0.05M658.74 181.8v2.07M661.38 80.38v0.7M654.57 50.71v1.73M662.19 52.22v1.31M686.08 170.58v0.56M657.57 164.79v1.89M668.48 44.29v1.45M682.16 142.72v1.95M655.94 59.07v0.14M665.26 83.27v0.33M685.66 150.81v0.93M683.92 113.55v0.71M678.65 109.55v0.05M671.18 65.8v0.05M656.55 185.43v1.95M657.72 164.77v0.13M657.69 173.1v0.47M680.61 95.59v1.65M668.89 106.43v1.13M685.37 181.22v2.03M666.62 106.83v2.23M682.02 91.9v0.69M660 119.65v0.86M686.74 41.58v0.89M659.67 58.95v1.14M686.01 71.62v1.64M671.5 168.67v0.71M665 128.92v2.06M666.24 125.54v0.3M669.79 78.93v1.9M674.49 117.14v1.6M670.35 89.26v0.05M676.91 181.14v0.07M669.46 177.01v1.81M666.79 57.94v1.46M656.7 117.7v2.21M679.27 111.89v2.18M661.86 72.06v0.58M658.83 77.56v1M663.88 117.63v1.3M674.08 103.87v1M660.83 80.58v1.87M664.59 82.51v0.87M683.91 61.8v1.99M668.83 72.27v1.77M675.41 126.21v0.43M668.01 96.87v0.52M662.98 77.79v0.9M668.88 53.34v0.21M668.76 67.53v0.96M669.84 157.78v1.47M681.04 79.69v0.09M653.38 137.06v1.96M658.28 186.35v0.66M671.27 127.95v1.19M673.9 114.72v0.46M685.7 97.69v1.28M669.11 71.06v2.11M656.5 63.72v0.47M678.78 147.08v0.7M660.4 83.52v0.97M671.62 103.01v2.27M663.27 149.2v0.4M666.66 152.24v0.28M670.1 182.68v1.73M672.66 151.1v1.03M654.89 93.66v2.39M654.33 40.08v2.31M676.29 88.49v0.94M666.1 116.59v0.86M655.72 145.36v1.67M668.82 83.51v1.16M672.01 161.94v2.11M681.04 73.65v2.4M662.13 168.04v1.11M658.43 134.06v2.01M682.48 132.88v2M654.63 88.58v0.1M663.54 39.69v1.23M682.9 128.91v0.11M659.21 121.46v1.48M682.32 57.48v1.1M671.99 122.95v1.05M683.84 180.67v2.15M674.92 93.8v0.99M681.01 58.69v0.04M681.23 163.31v0.76M654.64 133.96v1.01M670.66 101.64v1.32M669.47 166.65v0.07M665.06 95.06v2.15M653.8 133.89v0.55M669.61 180.43v0.04M662.67 127.77v0.71M663.01 85.94v1.94M668.4 63.75v1.18M683.99 140.48v1.97M678.18 39.18v1.21M661.72 138.66v0.39M673.23 171.83v1.95M656.99 151.16v1.49M672.87 83.08v2.34M680.61 166.92v0.35M685.76 126.23v0.18M675.12 66.63v1.85M668.8 104.03v2.05M670.01 74.05v1.14M663.84 80.49v0.75M665.96 179.22v0.68M680.27 68.2v0.27M678.15 180.07v2.1M672.81 115.46v0.61M680.36 88v1.38M654.71 72.85v0.5M667.91 167.75v1.5M663.09 186.23v1.5M656.44 117.03v1.99M653.59 184.86v2.36M674.72 185.69v2.07M656.92 82.45v1.51M659.28 41.23v0.31M664.18 142.01v2.18M666.82 98.05v1.45M685.56 93.89v0.58M656.56 57.67v2.22M663.66 69.87v1.44M670.33 96.45v0.04M660.66 100.06v1.87M658.09 130.74v0.41M680.25 90.79v1.67M656.45 148.14v1.22M664.44 91.75v1.39M657.35 163.2v1.44M660.64 157.03v0.79M659.2 137.1v1.51M678.73 66.6v0.44M679.24 107.59v0.98M656.36 139.95v0.63M676.77 115.76v1.94M668.22 59.95v1.45M666.41 86.34v0.7M653.72 39.26v1.76M660.91 133.9v1.93M682.64 55.44v1.41M652.92 177.02v2.05M660.98 42.87v0.48M654.74 138.55v0.43M654.63 48.12v2.33M667.69 105.22v0.32M677.95 98.9v0.46M677.92 176.56v1.14M670.16 172.6v2.34M682.92 173.96v2.16M673.99 60.79v2.15" stroke="#d0902c" stroke-width="1.5" stroke-linecap="round" fill="none"/><rect x="652" y="38.7" width="35.8" height="147.9" fill="url(#edgeg)"/></g><text x="747.8" y="16.7" font-size="21" textLength="18.6" lengthAdjust="spacingAndGlyphs" stroke="#231815">G</text><path d="M798.7 23.7V184.4" stroke="#000" stroke-width="2.1"/><path d="M793 184.4H798.7" stroke="#000" stroke-width="1.6"/><text x="786.12" y="187.9" font-size="10" textLength="5.56" lengthAdjust="spacingAndGlyphs" stroke="#231815">0</text><path d="M793 130.83H798.7" stroke="#000" stroke-width="1.6"/><text x="786.22" y="134.33" font-size="10" textLength="5.56" lengthAdjust="spacingAndGlyphs" stroke="#231815">1</text><path d="M793 77.27H798.7" stroke="#000" stroke-width="1.6"/><text x="786.25" y="80.77" font-size="10" textLength="5.56" lengthAdjust="spacingAndGlyphs" stroke="#231815">2</text><path d="M793 23.7H798.7" stroke="#000" stroke-width="1.6"/><text x="786.17" y="27.2" font-size="10" textLength="5.56" lengthAdjust="spacingAndGlyphs" stroke="#231815">3</text><path d="M793 184.4H1121.2" stroke="#000" stroke-width="2.1"/><path d="M821 184.4v5" stroke="#000" stroke-width="1.8"/><rect x="804.8" y="130.83" width="10.8" height="53.57" fill="#5252f5" stroke="#222" stroke-width="0.7"/><path d="M810.2 126.55V135.12M807.2 126.55h6M807.2 135.12h6" stroke="#222" stroke-width="0.9" fill="none"/><rect x="815.6" y="130.83" width="10.8" height="53.57" fill="#a3a3a8" stroke="#222" stroke-width="0.7"/><path d="M821 129.23V132.44M818 129.23h6M818 132.44h6" stroke="#222" stroke-width="0.9" fill="none"/><rect x="826.4" y="130.83" width="10.8" height="53.57" fill="#ff8000" stroke="#222" stroke-width="0.7"/><path d="M831.8 129.76V131.9M828.8 129.76h6M828.8 131.9h6" stroke="#222" stroke-width="0.9" fill="none"/><text x="809.32" y="202" font-size="10.9" textLength="23.64" lengthAdjust="spacingAndGlyphs" stroke="#231815">0 hpi</text><path d="M861.36 184.4v5" stroke="#000" stroke-width="1.8"/><rect x="845.16" y="144.76" width="10.8" height="39.64" fill="#5252f5" stroke="#222" stroke-width="0.7"/><path d="M850.56 139.4V150.12M847.56 139.4h6M847.56 150.12h6" stroke="#222" stroke-width="0.9" fill="none"/><rect x="855.96" y="141.01" width="10.8" height="43.39" fill="#a3a3a8" stroke="#222" stroke-width="0.7"/><path d="M861.36 138.33V143.69M858.36 138.33h6M858.36 143.69h6" stroke="#222" stroke-width="0.9" fill="none"/><rect x="866.76" y="142.62" width="10.8" height="41.78" fill="#ff8000" stroke="#222" stroke-width="0.7"/><path d="M872.16 138.33V146.9M869.16 138.33h6M869.16 146.9h6" stroke="#222" stroke-width="0.9" fill="none"/><text x="846.47" y="202" font-size="10.9" textLength="29.7" lengthAdjust="spacingAndGlyphs" stroke="#231815">12 hpi</text><path d="M901.72 184.4v5" stroke="#000" stroke-width="1.8"/><rect x="885.52" y="172.08" width="10.8" height="12.32" fill="#5252f5" stroke="#222" stroke-width="0.7"/><path d="M890.92 170.47V173.69M887.92 170.47h6M887.92 173.69h6" stroke="#222" stroke-width="0.9" fill="none"/><rect x="896.32" y="171.54" width="10.8" height="12.86" fill="#a3a3a8" stroke="#222" stroke-width="0.7"/><path d="M901.72 170.47V172.62M898.72 170.47h6M898.72 172.62h6" stroke="#222" stroke-width="0.9" fill="none"/><rect x="907.12" y="179.04" width="10.8" height="5.36" fill="#ff8000" stroke="#222" stroke-width="0.7"/><path d="M912.52 178.51V179.58M909.52 178.51h6M909.52 179.58h6" stroke="#222" stroke-width="0.9" fill="none"/><text x="886.96" y="202" font-size="10.9" textLength="29.7" lengthAdjust="spacingAndGlyphs" stroke="#231815">24 hpi</text><path d="M942.08 184.4v5" stroke="#000" stroke-width="1.8"/><rect x="925.88" y="145.03" width="10.8" height="39.37" fill="#5252f5" stroke="#222" stroke-width="0.7"/><path d="M931.28 139.94V150.12M928.28 139.94h6M928.28 150.12h6" stroke="#222" stroke-width="0.9" fill="none"/><rect x="936.68" y="90.87" width="10.8" height="93.53" fill="#a3a3a8" stroke="#222" stroke-width="0.7"/><path d="M942.08 78.45V103.3M939.08 78.45h6M939.08 103.3h6" stroke="#222" stroke-width="0.9" fill="none"/><rect x="947.48" y="157.46" width="10.8" height="26.94" fill="#ff8000" stroke="#222" stroke-width="0.7"/><path d="M952.88 153.44V161.47M949.88 153.44h6M949.88 161.47h6" stroke="#222" stroke-width="0.9" fill="none"/><text x="927.47" y="202" font-size="10.9" textLength="29.7" lengthAdjust="spacingAndGlyphs" stroke="#231815">48 hpi</text><path d="M982.44 184.4v5" stroke="#000" stroke-width="1.8"/><rect x="966.24" y="135.23" width="10.8" height="49.17" fill="#5252f5" stroke="#222" stroke-width="0.7"/><path d="M971.64 130.3V140.15M968.64 130.3h6M968.64 140.15h6" stroke="#222" stroke-width="0.9" fill="none"/><rect x="977.04" y="128.16" width="10.8" height="56.25" fill="#a3a3a8" stroke="#222" stroke-width="0.7"/><path d="M982.44 125.74V130.57M979.44 125.74h6M979.44 130.57h6" stroke="#222" stroke-width="0.9" fill="none"/><rect x="987.84" y="69.98" width="10.8" height="114.42" fill="#ff8000" stroke="#222" stroke-width="0.7"/><path d="M993.24 50.43V89.53M990.24 50.43h6M990.24 89.53h6" stroke="#222" stroke-width="0.9" fill="none"/><text x="967.68" y="202" font-size="10.9" textLength="29.7" lengthAdjust="spacingAndGlyphs" stroke="#231815">72 hpi</text><path d="M1022.8 184.4v5" stroke="#000" stroke-width="1.8"/><rect x="1006.6" y="156.17" width="10.8" height="28.23" fill="#5252f5" stroke="#222" stroke-width="0.7"/><path d="M1012 149.21V163.13M1009 149.21h6M1009 163.13h6" stroke="#222" stroke-width="0.9" fill="none"/><rect x="1017.4" y="146.15" width="10.8" height="38.25" fill="#a3a3a8" stroke="#222" stroke-width="0.7"/><path d="M1022.8 141.06V151.24M1019.8 141.06h6M1019.8 151.24h6" stroke="#222" stroke-width="0.9" fill="none"/><rect x="1028.2" y="104.42" width="10.8" height="79.98" fill="#ff8000" stroke="#222" stroke-width="0.7"/><path d="M1033.6 98.37V110.48M1030.6 98.37h6M1030.6 110.48h6" stroke="#222" stroke-width="0.9" fill="none"/><text x="1008.06" y="202" font-size="10.9" textLength="29.7" lengthAdjust="spacingAndGlyphs" stroke="#231815">96 hpi</text><path d="M1063.16 184.4v5" stroke="#000" stroke-width="1.8"/><rect x="1046.96" y="158.37" width="10.8" height="26.03" fill="#5252f5" stroke="#222" stroke-width="0.7"/><path d="M1052.36 156.38V160.35M1049.36 156.38h6M1049.36 160.35h6" stroke="#222" stroke-width="0.9" fill="none"/><rect x="1057.76" y="160.35" width="10.8" height="24.05" fill="#a3a3a8" stroke="#222" stroke-width="0.7"/><path d="M1063.16 159.55V161.15M1060.16 159.55h6M1060.16 161.15h6" stroke="#222" stroke-width="0.9" fill="none"/><rect x="1068.56" y="108.87" width="10.8" height="75.53" fill="#ff8000" stroke="#222" stroke-width="0.7"/><path d="M1073.96 95.48V122.26M1070.96 95.48h6M1070.96 122.26h6" stroke="#222" stroke-width="0.9" fill="none"/><text x="1045.24" y="202" font-size="10.9" textLength="35.76" lengthAdjust="spacingAndGlyphs" stroke="#231815">120 hpi</text><path d="M1103.52 184.4v5" stroke="#000" stroke-width="1.8"/><rect x="1108.92" y="123.12" width="10.8" height="61.28" fill="#ff8000" stroke="#222" stroke-width="0.7"/><path d="M1114.32 114.23V132.01M1111.32 114.23h6M1111.32 132.01h6" stroke="#222" stroke-width="0.9" fill="none"/><text x="1085.6" y="202" font-size="10.9" textLength="35.76" lengthAdjust="spacingAndGlyphs" stroke="#231815">192 hpi</text><rect x="814" y="31.3" width="14.5" height="7.4" fill="#5252f5" stroke="#333" stroke-width="0.7" rx="0.8"/><rect x="814" y="47.75" width="14.5" height="7.4" fill="#a3a3a8" stroke="#333" stroke-width="0.7" rx="0.8"/><rect x="814" y="64.2" width="14.5" height="7.4" fill="#ff8000" stroke="#333" stroke-width="0.7" rx="0.8"/><text x="835.77" y="38.7" font-size="10.7" textLength="46.29" lengthAdjust="spacingAndGlyphs" stroke="#231815">Lumai 15</text><text x="836.12" y="55.2" font-size="10.7" textLength="39" lengthAdjust="spacingAndGlyphs" stroke="#231815" xml:space="preserve">CB037-</text><text x="875.12" y="55.2" font-size="10.7" textLength="16.62" lengthAdjust="spacingAndGlyphs" font-style="italic" stroke="#231815" xml:space="preserve">Pst</text><text x="891.74" y="55.2" font-size="10.7" textLength="8.31" lengthAdjust="spacingAndGlyphs" stroke="#231815" xml:space="preserve">R</text><text x="835.76" y="71.6" font-size="10.7" textLength="41.12" lengthAdjust="spacingAndGlyphs" stroke="#231815">PC1332</text><g transform="translate(770.8 174.6) rotate(-90)"><text x="-1.02" y="0" font-size="12.2" textLength="125.22" lengthAdjust="spacingAndGlyphs" stroke="#231815" xml:space="preserve">Relative expression of </text><text x="124.2" y="0" font-size="12.2" textLength="19.26" lengthAdjust="spacingAndGlyphs" font-style="italic" stroke="#231815" xml:space="preserve">Yr9</text></g><text x="0.7" y="235.6" font-size="20.5" textLength="15.92" lengthAdjust="spacingAndGlyphs" stroke="#231815">C</text><rect x="95.5" y="314.2" width="948.3" height="5.3" fill="url(#gintron)" stroke="#3e3a39" stroke-width="0.8"/><rect x="111.3" y="292.8" width="12.7" height="47.9" fill="url(#ggray)" stroke="#231815" stroke-width="0.9"/><rect x="134" y="292.8" width="9" height="47.9" fill="url(#ggray)" stroke="#231815" stroke-width="0.9"/><rect x="150.4" y="292.8" width="14.6" height="47.9" fill="url(#ggray)" stroke="#231815" stroke-width="0.9"/><rect x="175.5" y="292.8" width="13.9" height="47.9" fill="url(#ggray)" stroke="#231815" stroke-width="0.9"/><rect x="199.2" y="292.8" width="2.8" height="47.9" fill="url(#ggray)" stroke="#231815" stroke-width="0.9"/><rect x="886.4" y="292.8" width="4.4" height="47.9" fill="url(#ggray)" stroke="#231815" stroke-width="0.9"/><rect x="988.4" y="292.8" width="39.2" height="47.9" fill="url(#ggray)" stroke="#231815" stroke-width="0.9"/><rect x="202" y="292.8" width="81.6" height="47.9" fill="url(#ggreen)" stroke="#231815" stroke-width="0.9"/><rect x="673.6" y="292.8" width="194.1" height="47.9" fill="url(#ggreen)" stroke="#231815" stroke-width="0.9"/><rect x="882.2" y="292.8" width="4.2" height="47.9" fill="url(#ggreen)" stroke="#231815" stroke-width="0.9"/><rect x="201.9" y="344.8" width="38.8" height="20" rx="4" fill="#f8e28e" stroke="#9a8a60" stroke-width="0.8"/><text x="203.35" y="359" font-size="10.8" textLength="36.47" lengthAdjust="spacingAndGlyphs" stroke="#231815">RX-CC</text><path d="M283.4 344.8H262.4Q258.4 344.8 258.4 348.8V360.8Q258.4 364.8 262.4 364.8H283.4Z" fill="#a5dae2" stroke="#6a8a90" stroke-width="0.7"/><rect x="283.4" y="344.8" width="390.2" height="20" fill="#dedfdf"/><path d="M283.4 344.8H673.6M283.4 364.8H673.6M283.4 344.8V364.8M673.6 344.8V364.8" stroke="#555" stroke-width="0.9" stroke-dasharray="3 2" fill="none"/><path d="M673.6 344.8H738.2Q742.2 344.8 742.2 348.8V360.8Q742.2 364.8 738.2 364.8H673.6Z" fill="#a5dae2" stroke="#6a8a90" stroke-width="0.7"/><text x="683.6" y="358.6" font-size="11.2" textLength="46.44" lengthAdjust="spacingAndGlyphs" stroke="#231815">NB-ARC</text><rect x="751.4" y="344.8" width="92.6" height="20" rx="4.5" fill="#dbc4e1" stroke="#8a7a90" stroke-width="0.7"/><text x="783.48" y="358.6" font-size="11.2" textLength="24.71" lengthAdjust="spacingAndGlyphs" stroke="#231815">LRR</text><path d="M222.3 258.9V279.6" stroke="#231815" stroke-width="1.3" stroke-dasharray="2.4 2" fill="none"/><path d="M222.3 289.6L217.9 276.1L222.3 280.3L226.7 276.1Z" fill="#231815"/><path d="M725.3 258.9V278.3" stroke="#231815" stroke-width="1.3" stroke-dasharray="2.4 2" fill="none"/><path d="M725.3 288.3L720.9 274.8L725.3 279L729.7 274.8Z" fill="#231815"/><path d="M788 242.9V278.3" stroke="#231815" stroke-width="1.3" stroke-dasharray="2.4 2" fill="none"/><path d="M788 288.3L783.6 274.8L788 279L792.4 274.8Z" fill="#231815"/><path d="M795.6 242.9V278.3" stroke="#231815" stroke-width="1.3" stroke-dasharray="2.4 2" fill="none"/><path d="M795.6 288.3L791.2 274.8L795.6 279L800 274.8Z" fill="#231815"/><path d="M844.7 261V278.3" stroke="#231815" stroke-width="1.3" stroke-dasharray="2.4 2" fill="none"/><path d="M844.7 288.3L840.3 274.8L844.7 279L849.1 274.8Z" fill="#231815"/><path d="M220.9 396.5V377.4" stroke="#231815" stroke-width="1.3" stroke-dasharray="2.4 2" fill="none"/><path d="M220.9 367.4L216.5 380.9L220.9 376.7L225.3 380.9Z" fill="#231815"/><path d="M725.3 395.2V375.4" stroke="#231815" stroke-width="1.3" stroke-dasharray="2.4 2" fill="none"/><path d="M725.3 365.4L720.9 378.9L725.3 374.7L729.7 378.9Z" fill="#231815"/><path d="M786.4 408V375.4" stroke="#231815" stroke-width="1.3" stroke-dasharray="2.4 2" fill="none"/><path d="M786.4 365.4L782 378.9L786.4 374.7L790.8 378.9Z" fill="#231815"/><path d="M796.2 408V375.4" stroke="#231815" stroke-width="1.3" stroke-dasharray="2.4 2" fill="none"/><path d="M796.2 365.4L791.8 378.9L796.2 374.7L800.6 378.9Z" fill="#231815"/><path d="M844.7 395.2V375.4" stroke="#231815" stroke-width="1.3" stroke-dasharray="2.4 2" fill="none"/><path d="M844.7 365.4L840.3 378.9L844.7 374.7L849.1 378.9Z" fill="#231815"/><text x="226.5" y="246.1" font-size="14" textLength="44.49" lengthAdjust="spacingAndGlyphs" fill="#25409a" stroke="#25409a">M2365</text><text x="227.29" y="262.8" font-size="14" textLength="43.13" lengthAdjust="spacingAndGlyphs" stroke="#231815">G211A</text><text x="669.2" y="245.8" font-size="14" textLength="44.59" lengthAdjust="spacingAndGlyphs" fill="#25409a" stroke="#25409a">M2365</text><text x="666.1" y="262.3" font-size="14" textLength="51.63" lengthAdjust="spacingAndGlyphs" stroke="#231815">G5426A</text><text x="734.4" y="231" font-size="14" textLength="44.56" lengthAdjust="spacingAndGlyphs" fill="#25409a" stroke="#25409a">M3289</text><text x="731.3" y="247.4" font-size="14" textLength="51.73" lengthAdjust="spacingAndGlyphs" stroke="#231815">G6053A</text><text x="801.61" y="231" font-size="14" textLength="44.03" lengthAdjust="spacingAndGlyphs" fill="#25409a" stroke="#25409a">M3530</text><text x="798.9" y="247.4" font-size="14" textLength="49.92" lengthAdjust="spacingAndGlyphs" stroke="#231815">C6137T</text><text x="853.81" y="245.8" font-size="14" textLength="44.11" lengthAdjust="spacingAndGlyphs" fill="#25409a" stroke="#25409a">M2333</text><text x="850.1" y="262.3" font-size="14" textLength="51.63" lengthAdjust="spacingAndGlyphs" stroke="#231815">G6663A</text><text x="226.3" y="402.6" font-size="14" textLength="35.67" lengthAdjust="spacingAndGlyphs" stroke="#231815">E71K</text><text x="684.53" y="399.7" font-size="14" textLength="36.78" lengthAdjust="spacingAndGlyphs" stroke="#231815">V466I</text><text x="739.93" y="414.2" font-size="14" textLength="44.24" lengthAdjust="spacingAndGlyphs" stroke="#231815">V675M</text><text x="797.52" y="414.2" font-size="14" textLength="40.71" lengthAdjust="spacingAndGlyphs" fill="#e60012" stroke="#e60012">Q703*</text><text x="847.79" y="399.7" font-size="14" textLength="44.86" lengthAdjust="spacingAndGlyphs" stroke="#231815">G878D</text><text x="983.37" y="399.6" font-size="15" textLength="48.28" lengthAdjust="spacingAndGlyphs" stroke="#231815">500 bp</text><rect x="985.2" y="405.2" width="42.8" height="3.6" fill="#231815"/><rect x="89.2" y="403" width="21.1" height="20.2" fill="url(#ggreen)" stroke="#231815" stroke-width="0.9"/><text x="116.99" y="419.6" font-size="15.5" textLength="34.12" lengthAdjust="spacingAndGlyphs" stroke="#231815">CDS</text><rect x="187.4" y="402.8" width="21.1" height="20.6" fill="url(#ggray)" stroke="#231815" stroke-width="0.9"/><text x="217.03" y="419.7" font-size="15.5" textLength="33.65" lengthAdjust="spacingAndGlyphs" stroke="#231815">UTR</text><rect x="291.6" y="413" width="26.9" height="4.6" fill="url(#gintron)" stroke="#3e3a39" stroke-width="0.8"/><text x="326.28" y="419.7" font-size="15.5" textLength="37.37" lengthAdjust="spacingAndGlyphs" stroke="#231815">Inron</text><rect x="397.7" y="405.2" width="18.4" height="17.7" fill="#f8e28e" stroke="#9a8a60" stroke-width="0.7"/><rect x="419.3" y="405.2" width="18" height="17.7" fill="#a5dae2" stroke="#6a8a90" stroke-width="0.7"/><rect x="440.4" y="405.2" width="18" height="17.7" fill="#dbc4e1" stroke="#8a7a90" stroke-width="0.7"/><text x="468.6" y="419.7" font-size="15.5" textLength="141.63" lengthAdjust="spacingAndGlyphs" stroke="#231815">Conserved domains</text><text x="-0.81" y="462.9" font-size="20.5" textLength="14.99" lengthAdjust="spacingAndGlyphs" stroke="#231815">D</text><text x="132.4" y="466.7" font-size="14.8" textLength="93.74" lengthAdjust="spacingAndGlyphs" stroke="#231815">PC1332 (NE)</text><path d="M19 472.5H310M321 472.5H358" stroke="#111" stroke-width="1.6"/><text x="328.92" y="467.3" font-size="14.8" textLength="24.43" lengthAdjust="spacingAndGlyphs" stroke="#231815">WT</text><text x="18.93" y="487.3" font-size="14" textLength="38.24" lengthAdjust="spacingAndGlyphs" stroke="#231815">#2 (+)</text><text x="69.43" y="487.3" font-size="14" textLength="37.83" lengthAdjust="spacingAndGlyphs" stroke="#231815">#4 (+)</text><text x="122.73" y="487.3" font-size="14" textLength="37.32" lengthAdjust="spacingAndGlyphs" stroke="#231815">#5 (+)</text><text x="173.83" y="487.3" font-size="14" textLength="37.22" lengthAdjust="spacingAndGlyphs" stroke="#231815">#6 (+)</text><text x="222.33" y="487.3" font-size="14" textLength="37.73" lengthAdjust="spacingAndGlyphs" stroke="#231815">#7 (+)</text><text x="272.63" y="487.3" font-size="14" textLength="37.42" lengthAdjust="spacingAndGlyphs" stroke="#231815">#8 (+)</text><text x="320.44" y="487.5" font-size="14" textLength="42.96" lengthAdjust="spacingAndGlyphs" stroke="#231815">Fielder</text><clipPath id="lc13"><rect x="17" y="494.7" width="40.2" height="144.6"/></clipPath><g clip-path="url(#lc13)"><rect x="17" y="494.7" width="40.2" height="144.6" fill="#4a8638"/><rect x="17" y="494.7" width="40.2" height="144.6" filter="url(#f31)" opacity="0.75"/><rect x="17" y="494.7" width="40.2" height="144.6" filter="url(#f32)" opacity="0.5"/><rect x="17" y="494.7" width="40.2" height="144.6" fill="url(#vein)"/><rect x="17" y="494.7" width="40.2" height="144.6" filter="url(#f15)"/><rect x="17" y="494.7" width="40.2" height="144.6" filter="url(#f16)"/><rect x="17" y="494.7" width="40.2" height="144.6" fill="url(#edgeg)"/></g><clipPath id="lc14"><rect x="65.4" y="494.7" width="40.1" height="144.6"/></clipPath><g clip-path="url(#lc14)"><rect x="65.4" y="494.7" width="40.1" height="144.6" fill="#45833a"/><rect x="65.4" y="494.7" width="40.1" height="144.6" filter="url(#f33)" opacity="0.75"/><rect x="65.4" y="494.7" width="40.1" height="144.6" filter="url(#f34)" opacity="0.5"/><rect x="65.4" y="494.7" width="40.1" height="144.6" filter="url(#f35)"/><rect x="65.4" y="494.7" width="40.1" height="144.6" fill="url(#vein)"/><rect x="65.4" y="494.7" width="40.1" height="144.6" filter="url(#f4)"/><rect x="65.4" y="494.7" width="40.1" height="144.6" filter="url(#f5)"/><rect x="65.4" y="494.7" width="40.1" height="144.6" fill="url(#edgeg)"/></g><clipPath id="lc15"><rect x="119.6" y="494.7" width="44" height="144.6"/></clipPath><g clip-path="url(#lc15)"><rect x="119.6" y="494.7" width="44" height="144.6" fill="#56903f"/><rect x="119.6" y="494.7" width="44" height="144.6" filter="url(#f36)" opacity="0.75"/><rect x="119.6" y="494.7" width="44" height="144.6" filter="url(#f37)" opacity="0.5"/><rect x="119.6" y="494.7" width="44" height="144.6" fill="url(#vein)"/><rect x="119.6" y="494.7" width="44" height="144.6" filter="url(#f6)"/><rect x="119.6" y="494.7" width="44" height="144.6" filter="url(#f7)"/><rect x="119.6" y="494.7" width="44" height="144.6" fill="url(#edgeg)"/></g><clipPath id="lc16"><rect x="174.4" y="494.7" width="34" height="144.6"/></clipPath><g clip-path="url(#lc16)"><rect x="174.4" y="494.7" width="34" height="144.6" fill="#488639"/><rect x="174.4" y="494.7" width="34" height="144.6" filter="url(#f38)" opacity="0.75"/><rect x="174.4" y="494.7" width="34" height="144.6" filter="url(#f39)" opacity="0.5"/><rect x="174.4" y="494.7" width="34" height="144.6" filter="url(#f40)"/><rect x="174.4" y="494.7" width="34" height="144.6" fill="url(#vein)"/><rect x="174.4" y="494.7" width="34" height="144.6" filter="url(#f26)"/><rect x="174.4" y="494.7" width="34" height="144.6" filter="url(#f27)"/><rect x="174.4" y="494.7" width="34" height="144.6" fill="url(#edgeg)"/></g><clipPath id="lc17"><rect x="220.6" y="494.7" width="36.4" height="144.6"/></clipPath><g clip-path="url(#lc17)"><rect x="220.6" y="494.7" width="36.4" height="144.6" fill="#5c9242"/><rect x="220.6" y="494.7" width="36.4" height="144.6" filter="url(#f41)" opacity="0.85"/><rect x="220.6" y="494.7" width="36.4" height="144.6" filter="url(#f42)" opacity="0.5"/><rect x="220.6" y="494.7" width="36.4" height="144.6" fill="url(#vein)"/><rect x="220.6" y="494.7" width="36.4" height="144.6" filter="url(#f13)"/><rect x="220.6" y="494.7" width="36.4" height="144.6" filter="url(#f14)"/><rect x="220.6" y="494.7" width="36.4" height="144.6" fill="url(#edgeg)"/></g><clipPath id="lc18"><rect x="270.5" y="494.7" width="40" height="144.6"/></clipPath><g clip-path="url(#lc18)"><rect x="270.5" y="494.7" width="40" height="144.6" fill="#4e8c3c"/><rect x="270.5" y="494.7" width="40" height="144.6" filter="url(#f43)" opacity="0.75"/><rect x="270.5" y="494.7" width="40" height="144.6" filter="url(#f44)" opacity="0.5"/><rect x="270.5" y="494.7" width="40" height="144.6" fill="url(#vein)"/><rect x="270.5" y="494.7" width="40" height="144.6" filter="url(#f15)"/><rect x="270.5" y="494.7" width="40" height="144.6" filter="url(#f16)"/><rect x="270.5" y="494.7" width="40" height="144.6" fill="url(#edgeg)"/></g><clipPath id="lc19"><rect x="319.8" y="494.7" width="39.7" height="144.6"/></clipPath><g clip-path="url(#lc19)"><rect x="319.8" y="494.7" width="39.7" height="144.6" fill="#5d933a"/><rect x="319.8" y="494.7" width="39.7" height="144.6" fill="url(#vein)"/><rect x="319.8" y="494.7" width="39.7" height="144.6" filter="url(#f4)"/><rect x="319.8" y="494.7" width="39.7" height="144.6" filter="url(#f5)"/><path d="M349.74 529.35v0.31M332.46 521.96v0.08M326.1 594.24v0.18M337.56 612.18v0.13M340.75 579.67v0.11M323.32 556.95v0.15M328.16 636.76v0.08M351.41 566.5v0.74M332.32 623.7v0.26M337.64 591.11v0.41M334.85 532v0.07M322.23 576.81v0.34M342.48 626.2v0.78M344.45 563.27v0.1M324.99 633.97v0.72M357.74 525.64v0.53M349.83 503.23v0.39M321.54 617.62v0.02M333.9 573.21v0.14M322.06 615.42v0.41M351.86 635.64v0.61M357.67 636.74v0.48M339.85 562.18v0.46M354.11 596.01v0.19M352.71 519.06v0.42M352.08 539.47v0.31M331.32 508.5v0.34M329.32 611.7v0.75M351.41 613.46v0.59M346.46 601.68v0.39M325.08 571.75v0.68M355.48 595.42v0M344.83 617.2v0.44M321.02 615.08v0.3M333.13 626.14v0.36M331.14 517.96v0.14M343.72 526.38v0.79M338.12 577.01v0.57M344.92 572.52v0.04M356.24 600.18v0.47M356.49 533.91v0.62M347.37 516.89v0.71M342.98 634.17v0.24M321.29 558.62v0.34M343.02 629.91v0.39M352.15 529.54v0.04M333.34 521.46v0.32M340.48 629.34v0.79M327.39 553.62v0.76M347.18 579.77v0.08M349.45 620.19v0M335.56 584.7v0.28M334.17 505.9v0.69M358.67 496.8v0.54M333.8 550.17v0.41M326.63 584.57v0.26M340.37 539.32v0.66M351.42 569.64v0.58M321.62 544.7v0.41M346.9 626.03v0.1M353.17 604.39v0.61M322.54 562.33v0.64M339.66 569.5v0.07M322.65 558.91v0.61M322.99 544.23v0.29M324.33 577.12v0.49M355.34 627.28v0.07M358.15 540.56v0.33M321.48 572.39v0.69M340.12 626.79v0.6M328.51 506.79v0.23M353.54 630.21v0.27M327.58 633.62v0.57M341.21 578.64v0.77M330.46 505.42v0.77M347.58 530.18v0.19M339.99 605.19v0.47M337.02 575.11v0.37M343.12 557.75v0.62M333.44 517.64v0.18M339.18 614.59v0.18M336.45 523.83v0.7M324.28 633.64v0.57M331.98 562.89v0.38M338.27 546.41v0.48M324.68 515.86v0.67M340.51 503.49v0.61M336.29 503.47v0.69M334.46 510.98v0.22M344.7 503.62v0.31M331.96 530.05v0.55M355.54 567.59v0.8M351.98 608.63v0.73M336.01 569.23v0.31M331.26 634.74v0.28M332.2 570.62v0.28M347.84 584.5v0.43M338.08 536.04v0.47M334.07 589.01v0.58M323.29 616.57v0.32M323.1 577.83v0.23M335.28 510.21v0.61M321.89 633.11v0.02M326.92 556.32v0.13M332.28 600.26v0.26M335.69 514.51v0.69M345.44 623.78v0.24M329.16 619.61v0.15M349.4 628.35v0.58M350.5 632.63v0.7M323.2 624.29v0.45M344.24 516.99v0.22M357.53 523.86v0.29M326.68 621.14v0.2M335.53 560.17v0.61M347.74 624.49v0.33M346.34 593.03v0.61M321.55 618.6v0.79M347.69 613.38v0.29M326.4 636.31v0.77M326.75 542.58v0.38M338.84 630.37v0.62M351.59 605.44v0.46M321.78 586.88v0.41M346.67 570.27v0.05M345.78 545.5v0.03M346.11 509.8v0.08M343.86 555.42v0.09M328.58 605.5v0.23M326.84 540.66v0.26M343.52 495.94v0.49M347.45 505.1v0.11M324.93 543.71v0.51M354.69 582.62v0.51M350.85 617.2v0.5M326.43 573.85v0.33M345.67 543.92v0.51M333.05 510.32v0.76M323.78 629.24v0.47M341.46 507.51v0.09" stroke="#d0841c" stroke-width="1.8" stroke-linecap="round" fill="none"/><rect x="319.8" y="494.7" width="39.7" height="144.6" fill="url(#edgeg)"/></g><text x="396.41" y="463.5" font-size="20.5" textLength="15.25" lengthAdjust="spacingAndGlyphs" stroke="#231815">E</text><text x="534.59" y="466.4" font-size="14.8" textLength="95.16" lengthAdjust="spacingAndGlyphs" stroke="#231815">PC1331 (OE)</text><path d="M414.9 472.3H711.7M723.3 472.3H760.7" stroke="#111" stroke-width="1.6"/><text x="731.52" y="467" font-size="14.8" textLength="23.41" lengthAdjust="spacingAndGlyphs" stroke="#231815">WT</text><text x="414.83" y="487.7" font-size="14" textLength="37.53" lengthAdjust="spacingAndGlyphs" stroke="#231815">#3 (+)</text><text x="467.13" y="487.7" font-size="14" textLength="36.71" lengthAdjust="spacingAndGlyphs" stroke="#231815">#4 (+)</text><text x="517.73" y="487.7" font-size="14" textLength="36.61" lengthAdjust="spacingAndGlyphs" stroke="#231815">#4 (–)</text><text x="569.03" y="487.7" font-size="14" textLength="38.86" lengthAdjust="spacingAndGlyphs" stroke="#231815">#6 (+)</text><text x="617.63" y="487.7" font-size="14" textLength="45.44" lengthAdjust="spacingAndGlyphs" stroke="#231815">#22 (+)</text><text x="671.83" y="487.7" font-size="14" textLength="45.24" lengthAdjust="spacingAndGlyphs" stroke="#231815">#22 (–)</text><text x="722.32" y="487.7" font-size="14" textLength="43.58" lengthAdjust="spacingAndGlyphs" stroke="#231815">Fielder</text><clipPath id="lc20"><rect x="415.9" y="493.2" width="33.8" height="144.6"/></clipPath><g clip-path="url(#lc20)"><rect x="415.9" y="493.2" width="33.8" height="144.6" fill="#4a883c"/><rect x="415.9" y="493.2" width="33.8" height="144.6" filter="url(#f45)" opacity="0.6"/><g filter="url(#blur3)"><ellipse cx="429.42" cy="510.55" rx="11.83" ry="11.57" fill="#b8c888" fill-opacity="0.4"/></g><rect x="415.9" y="493.2" width="33.8" height="144.6" fill="url(#vein)"/><rect x="415.9" y="493.2" width="33.8" height="144.6" filter="url(#f15)"/><rect x="415.9" y="493.2" width="33.8" height="144.6" filter="url(#f16)"/><rect x="415.9" y="493.2" width="33.8" height="144.6" fill="url(#edgeg)"/></g><clipPath id="lc21"><rect x="465.4" y="493.2" width="37.6" height="144.6"/></clipPath><g clip-path="url(#lc21)"><rect x="465.4" y="493.2" width="37.6" height="144.6" fill="#437f36"/><rect x="465.4" y="493.2" width="37.6" height="144.6" filter="url(#f46)" opacity="0.5"/><g filter="url(#blur3)"><ellipse cx="484.2" cy="558.27" rx="15.04" ry="17.35" fill="#8aae64" fill-opacity="0.35"/></g><rect x="465.4" y="493.2" width="37.6" height="144.6" fill="url(#vein)"/><rect x="465.4" y="493.2" width="37.6" height="144.6" filter="url(#f4)"/><rect x="465.4" y="493.2" width="37.6" height="144.6" filter="url(#f5)"/><rect x="465.4" y="493.2" width="37.6" height="144.6" fill="url(#edgeg)"/></g><clipPath id="lc22"><rect x="520.8" y="493.2" width="33.2" height="144.6"/></clipPath><g clip-path="url(#lc22)"><rect x="520.8" y="493.2" width="33.2" height="144.6" fill="#6e9a42"/><rect x="520.8" y="493.2" width="33.2" height="144.6" fill="url(#vein)"/><rect x="520.8" y="493.2" width="33.2" height="144.6" filter="url(#f6)"/><rect x="520.8" y="493.2" width="33.2" height="144.6" filter="url(#f7)"/><path d="M533.65 605.8v0.28M547.77 528.14v0.78M532.83 574.9v0.93M541.61 557.87v0.04M538.16 494.27v1M552.49 563.08v0.61M527.45 589.27v1.16M546.97 562.66v0.43M553.25 620.71v0.1M530.12 556.43v0.92M526.98 572.9v0.71M524.39 559.63v0.38M550.57 528.05v1.06M529.53 548.23v1.07M544.65 592.13v0.8M542.12 572.73v0.12M547.43 581.62v0.59M525.34 517.06v1.16M530.15 566.01v0.3M549.79 556.51v0.38M523.24 634.41v0.82M547.07 595.67v0.1M551.12 498.27v0.42M545.69 614.82v0.06M534.59 631.9v0.6M538.32 553.79v0.64M542.06 529.05v0.16M536.94 622.35v0.33M544.7 595.45v0.32M525.55 603.7v0.01M538.5 625.14v1.02M526.45 631.81v0.37M549.01 623.08v0.47M540.35 522.94v0.69M546.16 559.43v0.82M542.8 628.81v0.61M552.22 580.34v0.82M553.27 615.4v0.69M549.76 568.38v0.02M540.3 533.66v0.94M526.38 583.63v0.08M526.99 521.69v0.5M540.8 502.59v1.18M544.15 548.67v0.07M550.1 525.19v0.61M538.9 518.73v0.79M524.4 542.38v1.08M529.05 599.49v0.44M536.94 571.79v0.29M552.99 516.86v0.19M535.39 619.9v1.02M536.82 564.61v0.29M543.28 630.92v0.2M535.73 507.81v1.09M536.45 521.86v1.05M534.18 523.37v0.45M544.23 573.96v0.65M552.26 515.32v1.01M545.37 590.26v0.25M533.05 545.11v1.16M539.37 567.9v0.65M524.27 521.47v0.63M533.07 528.64v0.05M522.99 555.4v1.02M543.06 585.94v0.85M551.88 537.35v0.26M548.27 591.55v0.5M551.83 562.51v0.89M542.3 561.85v0.19M553.1 500.96v0.16M537.71 536.81v1.13M535.57 618.83v0.14M553.18 606.35v1.13M542.22 591.24v0.47M533.24 521.19v0.18M541 580.18v0.33M527.17 609.48v0.99M537.03 618.78v0.44M543.02 549.71v0.86M548.54 554.05v1.14M540.51 590.53v0.58M523.31 494.32v1.13M543.51 543.59v1.04M529.55 582.16v0.89M535.31 628.63v1.01M542.74 559.24v1.11M544.95 496.34v0.14M530.75 513.91v1.12M541.65 611.82v0.06M525.32 513.7v0.93M551.02 587.15v0.07M530.02 496.84v0.61M533.15 593.42v0.84M549.58 544.1v0.08M541.16 611.11v1.18M524.84 514.18v0.34M534.22 632.74v0.47M526.08 592.96v1.1M547.95 615.54v0.51M531.75 598.75v1.09M523.59 513.19v0.5M549.87 589.51v0.27M548.98 629.64v0.25M527.56 601.16v0.79M523.21 513.83v0.64M550.63 588.92v0.86M529.79 605.97v0.57M551 560.83v0.83M541.06 552.59v0.2M529.52 529.64v0.07M553.22 495.23v0.57M545.15 544.24v0.59M548.83 620.4v0.92M522.39 624.72v0.7M528.72 515.74v1.12M539.35 515.83v0.53M552.22 557.65v1.11M549.46 587.23v0.26M539.48 494.19v0.99M551.71 556.27v1.17M526.63 602.83v0.59M535.5 586.24v0.58M545.49 620.61v0.17M547.47 599.89v0.06M530.3 567.27v0.04M528.84 529.74v0.85M550.57 529.62v1.1M522.48 565v0.12M529.31 560.73v0.45M538.96 626.5v0.13" stroke="#c88c20" stroke-width="2.2" stroke-linecap="round" fill="none"/><rect x="520.8" y="493.2" width="33.2" height="144.6" fill="url(#edgeg)"/></g><clipPath id="lc23"><rect x="569.7" y="493.2" width="40.3" height="144.6"/></clipPath><g clip-path="url(#lc23)"><rect x="569.7" y="493.2" width="40.3" height="144.6" fill="#488638"/><rect x="569.7" y="493.2" width="40.3" height="144.6" filter="url(#f47)" opacity="0.5"/><g filter="url(#blur3)"><ellipse cx="589.85" cy="565.5" rx="18.13" ry="21.69" fill="#90b46a" fill-opacity="0.4"/></g><rect x="569.7" y="493.2" width="40.3" height="144.6" fill="url(#vein)"/><rect x="569.7" y="493.2" width="40.3" height="144.6" filter="url(#f26)"/><rect x="569.7" y="493.2" width="40.3" height="144.6" filter="url(#f27)"/><rect x="569.7" y="493.2" width="40.3" height="144.6" fill="url(#edgeg)"/></g><clipPath id="lc24"><rect x="622" y="493.2" width="36.5" height="144.6"/></clipPath><g clip-path="url(#lc24)"><rect x="622" y="493.2" width="36.5" height="144.6" fill="#468638"/><rect x="622" y="493.2" width="36.5" height="144.6" filter="url(#f48)" opacity="0.4"/><g filter="url(#blur3)"><ellipse cx="647.55" cy="522.12" rx="12.77" ry="13.01" fill="#b8cc88" fill-opacity="0.55"/><ellipse cx="636.6" cy="551.04" rx="10.95" ry="14.46" fill="#a0bc78" fill-opacity="0.3"/></g><rect x="622" y="493.2" width="36.5" height="144.6" fill="url(#vein)"/><rect x="622" y="493.2" width="36.5" height="144.6" filter="url(#f13)"/><rect x="622" y="493.2" width="36.5" height="144.6" filter="url(#f14)"/><rect x="622" y="493.2" width="36.5" height="144.6" fill="url(#edgeg)"/></g><clipPath id="lc25"><rect x="673.9" y="493.2" width="36.8" height="144.6"/></clipPath><g clip-path="url(#lc25)"><rect x="673.9" y="493.2" width="36.8" height="144.6" fill="#7e9c4c"/><rect x="673.9" y="493.2" width="36.8" height="144.6" fill="url(#vein)"/><rect x="673.9" y="493.2" width="36.8" height="144.6" filter="url(#f15)"/><rect x="673.9" y="493.2" width="36.8" height="144.6" filter="url(#f16)"/><rect x="673.9" y="493.2" width="36.8" height="144.6" filter="url(#f49)"/><path d="M709.05 502.57v0.96M694.49 557.03v1.19M708.23 540.33v1.2M678.66 559.64v1.08M687.73 521.47v0.33M700.62 493.37v0.18M679.12 597.72v1.01M700.37 578.27v0.53M676.93 530.78v0.01M701.58 604.67v0.29M683.39 550.49v0.06M704.41 493.41v0.57M706.66 582.41v0.19M706.24 618.18v0.64M705.08 494.7v0.96M707.52 583.72v0.34M684.18 501.5v0.47M698.66 519.48v0.25M698.76 601.28v0.34M696.29 615.06v1.08M698.81 524.92v0.8M693.77 544.32v1.02M700.91 511.35v0.1M693.74 630.79v0.42M689.18 558.23v0.67M709.12 589.32v0.48M692.57 524.94v0.15M696.02 497.37v0.28M689.28 596.29v1M699.86 555.89v0.68M697.46 629.41v0.46M679.45 498.21v1.16M704.96 560.8v0.5M700.85 614.48v0.07M699.29 591.64v0.88M702.03 518.51v0.08M687.5 590.36v0.88M697.63 522.63v0.58M705.94 506.88v0.8M686.5 607.14v0.34M679.3 636.22v0.95M675.84 572.45v0.1M690.89 540.28v0.67M709.93 633.68v0.91M692.27 626.01v1.19M685.59 544v0.21M674.98 519.24v0.57M704.17 542.46v0.06M698.64 609.15v0.7M688.29 626.48v0.32M680.83 572.14v0.13M704.25 609.81v0.69M687.22 494.39v0.81M696.76 529.6v0.1M696.46 622.13v0.17M691.07 548.05v0.66M679.53 574.96v0.72M683.72 621.88v0.17M682.32 502.45v0.82M690.56 558.77v0.9M676.68 580.21v0.47M680.56 618.74v0.71M706.07 579.69v0.47M690.16 572.19v1.2M687.2 503.14v0.36M674.97 623.77v1.18M692.91 579.71v0.13M678.29 618.26v0.3M690.83 563.62v1.19M704.56 509.29v0.26M684.06 591.29v1.1M701.06 599.65v0.56M703.73 629.54v0.99M709.91 617.35v0.63M692.03 519.42v0.94M678.66 633.76v0.25M693 539.07v0.01M694.01 589.8v0.1M682.76 585.5v1M679.22 517.45v0.38M677.1 510.72v1.13M674.93 547.21v0.11M676.66 560.77v0.11M689.55 625.89v0.53M678.97 583.75v0.66M701.51 614.28v0.84M702.32 593.06v1.06M684.14 522.89v0.05M679.16 542.28v1.07M690.08 562.24v1.18M693.47 557.17v1.18M691.26 605.98v0.37M703.07 503.07v1.06M676.01 577.06v0.53M691.57 574.26v0.55M693.94 538.43v0.31M691.8 540.35v0.71M678.05 541.45v1.17M681.03 578.23v0.45M686.01 578.07v0.45M704.34 508.99v1.11M676.79 633.48v0.11M708.51 555.58v0.15M689.24 544.49v0.57M688.47 621.72v0.76M687.32 494.35v0.87M679.83 509v0.26M679.31 602.88v0.83M683.77 572.49v0.37M686.86 566.21v0.82M676.1 515.42v0.12M681.12 534.71v0.05M688.6 535.72v0.4M698.71 611.15v0.8M703.35 599.9v0.39M685.31 583.29v1.01M680.76 588.59v0.17M699.35 625.24v0.59M700.26 575.73v0.19M683.42 621.55v1.07M698.66 555.54v1.05M696.74 568.39v0.95M686.96 592.19v0.17M686.9 605.26v0.18M707.5 591.87v1.1M686 621.09v0.46M706.51 587.17v0.02M708.76 525.15v0.97M688.44 629.39v0.2M689.62 570.22v0.59M707.2 551.5v0.09M692.71 535.38v0.61M705.41 509.78v0.94M700.44 596.63v1.14M687.96 598.73v0.74M683.11 495.31v0.51M700.76 547.96v0.29M704.44 630.13v0.58M696.12 555v0.32M708.5 536.29v0.9M696.9 544.18v0.68M705.26 571.91v0.02M702.68 521.59v0.84M678.71 606.81v1.11M696.77 566.09v0.8M688.49 522.74v0.32M705.47 559.55v0.81M697.62 615v1.03M690.21 529.93v0.18M708.31 500.97v0.78M676.26 575.1v0.63M679.98 622.17v0.02M684.26 613.67v0.98M689.24 536.25v0.1M679.94 577.25v0.56M679.22 498.35v0.19M687.66 588.94v0.37M701.19 570.69v0.85M687.91 565.11v0.05M700.07 580.5v0.24M696.23 559.71v0.27M682.34 602.95v1.14M689.35 600.13v0.81M706.73 605.25v0.71M692.79 617.23v0.79M693.91 608.66v0.25M702.23 560.61v1.08M681.69 632.29v0.65M679.21 541.22v0.21M705.96 537.06v0.16M709.31 539.76v0.98M687.94 529.75v1.12M705.67 614.67v0.43M698.29 509.8v1.05M687.2 616.33v0.02M701.97 526.74v0.93M694.04 495.3v1.17M689.69 590.52v1.18M707.06 595.53v1.01M701.61 499.9v0.42M696.04 542.41v0.61M691.66 626.91v0.71M707.86 573.04v0.72M675.53 581.09v0.02M677.05 524.24v1.01M686.49 583.56v0.6M682.86 623.96v0.87M703.42 525.55v0.32M698.58 578.77v0.88M696.34 627.47v0.54M700.31 528.32v0.18M705.83 602.56v0.86M707.15 526.91v0.43M701.49 495.34v1.14M684.97 550.7v0.86M675.23 595.89v0.37M702.7 563.76v0.7M707.23 621.33v0.08M683.09 510.67v0.99M676.24 594.15v1.06M707.06 537.71v0.18M688.06 597.63v0.69M685.28 581.71v1.01M691.29 500.13v0.95M693.58 543.44v0.06M707.93 582.28v0.13M699.89 590.99v0.05M706.82 596.42v0.16M682.06 556.49v0.41M682.54 562.59v0.05M687.31 531.13v0.2M695.76 614.61v0.47M698.73 535.65v0.28M685.48 529.35v0.54M684.4 565.13v0.72M675.41 548.32v0.07M699.47 633.76v0.41M686.35 595.45v0.52M696.32 624.62v0.37M682.75 526.39v0.94M709.87 577.58v1.09M701.28 600.28v0.48M690.85 611.04v0.08M685.79 515.7v0.34M698.93 556.25v1.15M695.73 537.01v0.83M702.77 582.01v0.95M679.73 622.98v0.31M682.88 591.26v0.8M688.38 596.17v1.18" stroke="#c47c20" stroke-width="2" stroke-linecap="round" fill="none"/><rect x="673.9" y="493.2" width="36.8" height="144.6" fill="url(#edgeg)"/></g><clipPath id="lc26"><rect x="725.9" y="493.2" width="34.4" height="144.6"/></clipPath><g clip-path="url(#lc26)"><rect x="725.9" y="493.2" width="34.4" height="144.6" fill="#5e8a4a"/><rect x="725.9" y="493.2" width="34.4" height="144.6" fill="url(#vein)"/><rect x="725.9" y="493.2" width="34.4" height="144.6" filter="url(#f4)"/><rect x="725.9" y="493.2" width="34.4" height="144.6" filter="url(#f5)"/><rect x="725.9" y="493.2" width="34.4" height="144.6" filter="url(#f50)"/><path d="M730.29 598.08v2.11M743.94 570.48v0.68M738.97 545v1.16M753.25 588.93v1.12M736.52 595.22v1.22M748.34 512.05v1.62M738.58 605.2v0.31M742.97 614.45v0.64M729.57 503.16v2.26M751.34 597.1v0.9M733.14 611.41v1.15M750.89 531.76v0.59M755.56 634.31v1.93M752.67 598.88v0.41M736.21 559.16v1.91M726.64 555.41v0.45M753.06 586.59v0.72M741.83 541.62v0.4M736.02 607.89v1.03M726.69 578.09v0.59M755.61 570.11v0.76M751.82 518.62v0.59M738.34 575.34v1.75M727.29 534.06v1.22M742.26 495.07v1.77M755.87 565.01v0.41M737.35 534.26v1.01M747.83 631.29v1.65M728.98 614.44v0.14M738.4 592.37v1.74M744.71 515.33v1.78M730.11 621.94v0.2M742.79 582.03v1.06M728.16 600.31v1.69M759 626.49v1.12M740.72 593.48v1.76M726.6 568.42v0.42M736.45 520.38v1.71M729.56 584.24v1.4M743.35 598.24v1.68M735.04 529.9v0.29M728.32 549.53v1.53M729.93 589.96v1.9M755.16 631.03v0.8M727.72 622.38v1.03M737.92 582.96v0.98M738.02 497.86v2.3M754.65 597.04v2.19M748.44 536.74v1.34M759.34 547.34v0.04M749.47 507.71v0.46M736.62 496.78v1.72M759.5 611.82v0.22M730.19 630.73v1.15M755.22 515.15v1.61M759.11 494.66v1.04M757.63 612.43v0.38M755.92 550.25v0.89M730.34 590.56v0.29M747.53 503.3v0.39M754.69 523.89v0.98M758.51 512.38v0.42M745.96 527.57v1.5M750.5 551.36v1.9M730.26 523.32v0.31M730.92 550.54v1.22M730.61 503.37v2.06M730.66 523.05v1.1M739.09 598.01v2.06M754.08 545.81v1.15M732.82 519.38v1.63M728.3 558.43v0.54M743.6 558.26v1.85M750.24 585.44v1.75M738.33 566.3v1.62M741.83 614.47v0.89M750.14 593.47v1.38M735.9 515.78v0.33M736.97 631.12v0.97M735.57 508.84v1.32M726.74 598.58v1.91M754.05 621.59v1.51M755.19 563.72v1.05M731.76 602.67v1.7M734.49 568.45v0.31M753.99 593.17v0.58M736.46 504.79v2.13M735.13 580.81v0.45M736.23 623.81v2.11M756.33 601.39v0.99M738.03 622.61v0.86M733.4 608.42v2.23M745.39 603.7v1.22M730.88 601.41v1.21M758.94 634.26v0.07M741.92 591.8v1.03M743.09 495.1v0.67M749.35 497.96v1.48M744.52 534.7v1.88M738.18 611.31v0.98M730.88 496.09v0.66M759.03 635.26v0.97M731.65 616.37v0.24M735.95 512.59v1.38M751.87 509.01v2.23M751.31 628.11v0.96M747.73 503.29v0.6M759.31 544.44v0.69M755.29 596.04v0.54M735.73 593.43v0.19M727.98 546.37v0.16M734.96 572.51v1.79M758.7 630.09v0.73M744.16 581.07v1.43M742.21 559.68v0.69M746.11 621.14v1.8M734.05 576.2v0.99M757.96 620.94v2.22M741.56 503.05v1.87M738.48 544.26v1.83M735.5 561.99v0.22M741.52 624.19v2.1M729.96 537.64v0.36M728.12 603.52v0.39M730.32 560.17v1.2M748.05 605.34v1.59M728.35 551.05v1.89M759.57 570.85v1.26M738.02 600.79v1.5M737.01 607.73v0.43M742.28 562.17v1.53M742.29 600.52v1.95M744.08 624.36v0.58M744 583.38v0.24M729 624.15v1.03M732.27 520.71v2.36M733.85 521.18v1.92M755.8 524.68v1.07M751.32 496.97v1.92M758.05 621.91v2.34M756.25 516.74v1.71M739.64 608.95v2.38M749.91 512.64v2.28M741.48 605.7v0.44M753.55 630.73v0.22M737.98 535.34v0.49M736.33 503.05v1.37M744.46 498.11v1.24M746.06 501.84v0.85M735.6 549.79v0.97M739.39 596.79v0.55M739.35 619.14v0.32M743.99 614.38v2.07M740.11 556.52v0.4M743.23 513.56v2.08M728.08 599.23v2.26M751.21 621.16v1.71M731.12 572.49v1.91M756.98 498.3v1.35M728.05 593.13v1.33M758.26 517.29v1.98M754.85 607.13v1.47M745.86 599.32v0.48M731.49 598.51v2.04M759.57 506.48v0.42M733.51 581.53v0.8M753.72 578.9v0.19M738.76 636.68v0.61M750.41 560.01v0.76M751.2 625.53v2.15M754.35 497.28v1.45M742.42 608.61v1.63M757.05 631.41v1.59M751.75 501.71v1.02M739.37 493.41v1.14M753.51 563.57v1.89M746.58 623.25v1.18M738.39 533.74v1.72M732.56 607.34v0.31M743.13 526.56v0.03M754.8 531.43v0.42M737.44 627.69v1.18M756.05 596.11v1.52M758.95 559.6v2.01M750.32 560.89v1.89M731.14 560.15v0.97M729.98 551.61v0.81M726.86 553.91v2.33M730.52 629.48v2.24M737.11 532.05v1.21M733.78 573.19v0.52M744.28 495.24v0.74M737.21 585.38v1.9M746.14 578.75v2.4M735.78 531.14v0.87M756.69 562.92v1.51M740.91 564.97v1.17M757.77 579.25v0.22M746.77 632.71v0.44M750.99 590.06v0.57M756.83 546.1v1.72M738.68 601.58v1.76M741.15 609.23v0.66M741.11 613.56v0.36M727.15 590.2v0.06M746.92 509.6v1.19M729.37 543.52v0.4M748.34 537.82v1.45M735.58 606.31v1.56M726.92 568.03v1.53M758.58 629.73v0.86M755.43 593.94v1.84M746.08 546.74v0.6M744.37 536.47v2.04M742.92 585.7v2.25M728.24 505.24v1.61M751.37 626.09v1.85M754.6 587.18v1.02M756.61 569.98v0.45M738.46 507.65v1.47M728.72 534.52v0.98M747.32 515.88v1.8M734.64 505.59v0.37M754.52 508.98v0.56M746.67 582.8v0.85M758.78 572.61v1.16M733.62 530.95v0.56M753.25 563.56v0.91M741.94 610.98v0.12M758.33 636.73v1.66M753.18 571.96v2.22M743.26 615.9v1.26M733.07 541.04v0.47M728.41 536.81v0.27M744.2 609.45v0.23M737.28 592.56v1.11M746.11 608.09v0.11M740.52 591.33v0.63M752.11 606.12v0.66M737.76 553.87v2.4M730.66 493.71v1.27M740.6 530.68v2.3M753.65 523.24v0.16M753.6 498.28v0.68M741.56 506.9v1M742.87 614.57v1.06M728.84 554.89v1.2M728.95 623.49v1.89M745.09 545.05v1.8M741.31 544.77v2.26M758.24 516.35v1.46M757.88 563.02v1.44M736.88 628.15v1.2M757.63 506.44v1.48M756.67 620.87v1.41M741.74 504.94v1.93M759.53 607.66v1.98M759.61 516.64v1.78M746.33 636.74v0.82M748.67 551.88v1.19M729.24 526.82v1.25M756.01 497.63v0.59M754.18 610.35v0.98M740.19 516.41v1.89M734.64 558.07v0.44M742.25 526.75v1.62M740.19 549.4v0.78M738.15 601.93v0.98M734.79 561.47v2.38M754.33 596.1v1.71M756.08 595.66v1.01M740.84 554.64v1.93M738.57 515.88v0.14M758.67 617.1v1.03M752.79 541.85v1.86M754.75 507.55v0.25M747.43 568.12v1.9M759.53 569.11v2.09M753.67 524.8v1.82M733.14 540.79v0.66M738.09 632.07v1.48M747.65 520.27v2.25M758.12 548.88v0.74M750.29 602.56v0.28M740.26 628.11v0.26M727.83 601.78v2.03M739.98 565.73v0.82M757.81 594.14v1.27M732.61 618.5v1.56M756.98 589.45v1.1M730.25 548.22v0.16M732.36 498.77v1.67M738.63 575.31v0.83M751.5 626.21v1.04M729.4 541.21v0.58M729.94 586.34v0.58M749.78 531.97v1.98M728.87 574.26v1.08M746.06 607.86v0.95M731.56 497.4v1.98M746.16 537.26v2.17M744.86 561.76v2.05M728.69 533.38v0.43M754.43 581.43v0.96M743.8 621.21v1.41M744.5 506.66v1.48M745.76 575.24v1.03M727.12 625.94v0.98M742.22 580.55v2.24M742.15 525.9v1.06M750 520.25v1.41M751.06 497.23v0.86M745.58 597.16v1.11M744.15 635.5v1.9M731.88 524.98v1.42M747.17 598.26v0.1M758.45 551.6v2.08M728.82 507.86v1.08M737.86 575.56v2.02M733.05 593.33v0.2M750.81 548.17v1.18M734.03 598.27v0.16M745.03 552.14v1.67M757.39 601.44v1.78M741.77 507.34v2.21M733.12 497.39v2.28M735.64 570.46v0.62M727.56 596.79v0.38M740.19 566.01v2.38M741.16 508.83v1.73M745.35 542.66v0.51M738.67 612.96v0.07M736.37 630.22v2.02M754.16 590.81v1.2M740.1 632.59v1.52M758.65 585.9v0.68M736.29 542.97v0.65M733.85 584.55v0.64M759 502.82v0.73M730.09 586.33v0.36M740.6 634.44v0.85M756.86 564.59v2.01M728.49 521.64v1.27M738.37 570.71v0.32M744.8 541.85v0.8M733.82 530.5v0.86M752.03 575.64v0.51M738.4 601.32v0.07M746.02 597.47v0.81M755.08 502.28v0.21M740.33 582.06v0.66M737.56 511.11v0.34M728.64 554.67v2.31M732.23 570.72v0.94M753.79 554.46v0.17M733.76 633.97v2.35M743.07 559.39v1.34M741.94 583.13v1.79M746.68 536.27v0.6M746.05 555.83v2.04M733.91 589.94v2.11M738.45 637.36v1.49M742.12 623.49v0.94M732.93 577.1v0.68M739.09 565.32v1.7M756.96 519.52v2.07M752.2 530.15v2.22M726.89 603.64v0.11M734.76 497.52v1.81M747.23 636.95v1.86M736.31 614.13v1.58M748.23 616.52v0.99M740.03 502.35v0.44M742.64 559.21v0.51M756.93 516.8v0.53M737.47 531.27v2.3M739.6 537.37v1.83M746.79 609.6v1.09M737.25 594.78v0.21M735.67 517.28v0.38M741.47 580.59v0.11M736.28 528.1v1.07M751.61 548.8v1.01M759.24 606.69v1.83M726.98 512.03v0.32M736.53 524.24v2.33M739.99 599.24v0.92M757.02 633.18v0.47M738.75 539.23v0.04M739.78 635.42v0.6M745.7 590.65v1.59M732.24 555.03v0.15M729.42 622.13v0.68M730.48 531.89v0.33M732.79 582v0.22M738.33 630.96v1.25M758.49 505.62v0.26M759.45 636.69v1.34M734.12 556.77v0.01M735.02 588.35v1.38" stroke="#b47622" stroke-width="1.6" stroke-linecap="round" fill="none"/><rect x="725.9" y="493.2" width="34.4" height="144.6" fill="url(#edgeg)"/></g><text x="805.87" y="463.7" font-size="20.5" textLength="13.53" lengthAdjust="spacingAndGlyphs" stroke="#231815">F</text><text x="897.56" y="466.1" font-size="14.8" textLength="97.41" lengthAdjust="spacingAndGlyphs" stroke="#231815">PC1315 (KO)</text><path d="M821.7 471.6H1076.3M1093 471.6H1126" stroke="#111" stroke-width="1.6"/><text x="1099.92" y="467.1" font-size="14.8" textLength="23.92" lengthAdjust="spacingAndGlyphs" stroke="#231815">WT</text><text x="822.83" y="486.5" font-size="14" textLength="28.09" lengthAdjust="spacingAndGlyphs" stroke="#231815">#1-2</text><text x="876.63" y="486.5" font-size="14" textLength="27.78" lengthAdjust="spacingAndGlyphs" stroke="#231815">#3-2</text><text x="930.53" y="486.5" font-size="14" textLength="27.58" lengthAdjust="spacingAndGlyphs" stroke="#231815">#4-3</text><text x="983.63" y="486.5" font-size="14" textLength="27.03" lengthAdjust="spacingAndGlyphs" stroke="#231815">#8-1</text><text x="1035.83" y="486.5" font-size="14" textLength="39.83" lengthAdjust="spacingAndGlyphs" stroke="#231815">#4-1-1</text><text x="1093.19" y="486.5" font-size="14" textLength="29.86" lengthAdjust="spacingAndGlyphs" stroke="#231815">CBR</text><clipPath id="lc27"><rect x="818.8" y="493" width="39.2" height="145.4"/></clipPath><g clip-path="url(#lc27)"><rect x="818.8" y="493" width="39.2" height="145.4" fill="#54883a"/><rect x="818.8" y="493" width="39.2" height="145.4" fill="url(#vein)"/><rect x="818.8" y="493" width="39.2" height="145.4" filter="url(#f15)"/><rect x="818.8" y="493" width="39.2" height="145.4" filter="url(#f16)"/><rect x="818.8" y="493" width="39.2" height="145.4" filter="url(#f51)"/><path d="M842.66 590.21v0.05M831.56 558.92v0.72M829.48 626.22v0.11M839.11 627.8v0.87M841.46 529.19v0.27M843.82 550.98v1.5M841.02 592.52v0.47M821.6 538.85v0.81M823.83 530v0.15M828.91 544.9v0.38M848.25 563.56v0.4M848.8 526.2v1.36M833.23 552.36v0.56M842.08 577.89v1.33M843.39 551.03v1.32M842.85 616.61v0.67M856.11 617.63v1.57M832.41 525.32v0.92M826.95 570.88v0.25M854.15 530.6v0.37M842.78 543.06v0.87M835.71 628.57v0.41M846.65 570.04v0.66M821.94 615.42v0.06M831.66 597.27v0.02M838.09 552.34v1.75M850.4 554.42v0.2M846.97 556.64v0.38M821.19 526.48v0.96M847.84 496.48v0.91M842.86 546.28v1.75M821.55 508.42v0.19M849.48 626.34v0.21M850.26 601.07v1.35M825.05 596.39v0.69M836.5 601.42v1.38M841.05 505.17v1.06M851.96 534.88v1.49M822.43 568.46v0.53M819.99 515.75v1.37M846.09 588.89v1.64M853.11 498.12v1.68M826.76 547.61v0.04M837.55 548.14v0.6M822.82 576.77v0.65M832.32 597.14v1.73M834.49 608.99v0.87M829.89 557.56v0.28M826.34 509.18v1.42M851.83 590.64v1.34M824.31 563.3v0.25M852.8 496.21v1.59M832.03 525.58v1.25M820.93 493.33v0.89M855.53 628.59v0.65M843.65 605.87v0.24M841.45 594.38v0.84M819.74 607.94v1.02M820.43 636.57v1.79M825.69 590.53v0.1M839.88 547.9v1.2M821.14 596.6v1.36M855.66 620.58v1.04M847.01 575.13v1.17M856.51 503.64v0.94M831.39 620.29v0.77M826.42 539.74v0.7M840.01 572.66v0.73M852.81 526.74v0.83M828.06 636.81v0.99M839.7 571.73v0.55M840.57 611.71v0.17M845.23 493.83v0.69M851.92 586.75v0.41M857.04 583.76v1.11M848.77 599.32v1.27M856.16 549.83v1.08M834.15 620.64v0.07M835.54 552.63v1.67M838.55 507.79v1.31M842.5 514.99v0.81M847.54 533.91v1.08M849.53 535.76v1.05M854.11 594.69v0.71M822.47 581.04v0.98M851.72 559.47v0.56M831.37 574.3v1.12M828.17 623.52v1.57M830.44 618.8v0.99M855.12 570.41v0.96M846.3 538.66v0.18M820.61 636.68v1.45M834.42 531.77v1.63M837.75 627.08v0.17M833.92 581.41v0.81M831.85 563.58v1.12M845.59 615.2v1.18M842.34 527.81v1.74M847.9 509.59v1.39M837.06 496.79v0.57M824.29 601.99v1.78M829.19 613.02v1.58M845.39 614.02v1.42M833.98 614.29v1.41M834.34 518.59v0.94M839.19 556.96v1.56M842.57 555.3v0.77M830.65 576.97v1.36M823.45 516.37v1.54M847.67 613.53v0.56M823.51 517.81v0.13M840.68 527.81v1.65M826.53 520.34v0.61M819.98 631.86v1.27M841.2 610.88v1.07M825.57 558.79v1.58M825.9 530.97v1.2M830.09 564.59v0.01M830.82 611.93v1.21M826.21 548.39v1.69M834.22 618.44v1.08M850.32 573.44v1.61M841.5 510.55v0.62M834.89 541.77v0.52M832.92 592.52v1.59M835.95 594.2v0.13M830.93 498.77v0.55M843.96 566.34v1.05M821.57 513.48v0.22M854.66 538.38v0.33M826.3 597.32v0.96M830.82 585.94v0.68M823.84 615.76v0.03M822.45 594.84v1.64M845.52 572.11v0.5M836.43 495.08v1.39M839.05 615.09v1.17M848.26 635.05v1.33M833.72 527.32v1.03M820.26 600.75v0.87M823.76 558.82v1.31M830.85 606.69v1.76M819.97 589.38v0.35M846.73 631.49v1.51M838.75 539.6v0.3M841.71 516.5v1.79M822.91 529.78v1.46M845.7 599.07v1.75M834.11 636.65v1.31M849.57 496.07v0.33M838.43 605.94v0.99M856.5 581.9v0.34M831.33 586.04v0.94M834.37 625.48v1.57M826.63 514.31v0.11M824.2 554.57v0.08M831.65 552.66v0.34M834.21 605.08v1.2M840.05 508.1v1.53M830.69 529.3v1.73M849.44 516.7v1.12M823.73 575.13v0.39M820.61 631.68v1.07M835.41 611.39v0.22M855.41 615.06v0.66M844.43 605.59v0.65M828.67 572.7v0.49M833.89 519.84v0.32M820.19 521.29v0.57M847.5 586.51v0.27M856.49 504.91v1.72M836.02 533.43v1.37M846.67 530.95v1.1M853.08 520.85v0.56M853.27 575.7v1.36M828.77 632.71v1.48M824.8 576.04v0.7M850.09 501.05v0.87M852.44 567.95v0.11M837.64 545.37v1.28M841.58 569.72v0.35M824.6 621.33v0.37M838.5 589.74v0.1M828.07 501.05v0.72M830.35 592.85v1.77M829.9 499.87v1.2M824.44 627.84v1.59M837.69 589.01v0.98M820.74 523.16v1.31M852.81 520.71v0.88M820.9 625.65v0.53M823.27 587.5v0.21M841.52 599.92v0.83M848.79 625.87v0.5M835.56 494.58v1.16M831.18 604.08v1.16M830.55 509.18v1.39M849.94 638.08v0.96M823.96 584.71v1.5M820.09 514.21v0.91M825.83 530.1v1.45M849.51 633.81v0.87M827.57 562.97v1.58M837.45 496.21v0.26M841.1 545.54v1.68M849.06 558.86v0.01M834.99 531.18v0.12M840.84 540.74v0.57M824.08 530.85v0.63M823.29 508.4v0.68M855.33 507.91v0.18M830.49 539.45v1.23M851.2 599.17v1.13M839.98 560.14v0.09M844.57 563.32v0.87M836.82 591.22v0.42M822.53 510.07v0.72M819.62 601.61v0.39M838.62 617.77v0.94M833.22 500.09v0.68M853.74 618.35v0.93M851.64 499.64v0.39M850.35 574.84v0.25M851.59 603.14v0.6M856.97 541.76v0.04M857.18 585.89v0.79M847.21 564.25v0.03M819.65 637.92v1.45M832.1 542.7v1.08M838.67 566.68v0.94M853.9 557.4v1.35M820.02 610.07v1.47M827.04 615.77v1.1M839.61 621.1v1.69M837.19 508.97v0.35M850.12 618.78v1.63M823.11 608.19v0.36M834.61 628.45v0.95M829.51 525.1v0.01M833.97 536.43v0.39M836.41 560.37v0.41M845.38 604.76v0.98M821.06 578.57v0.73M829.5 534.86v1.52M842.63 580.95v1.6M851.31 515.63v0.71M848.02 586.76v1.23M831.87 501.84v0.62M829.03 528.88v1.37M835.11 521.5v1.05M836.35 551.6v1.63M826.99 573.17v0.05M819.74 501.08v0.47M835.22 528.24v0.29M844.78 514.21v0.88M842.44 494.05v0.04M845.22 585.36v0.02M826.8 611.89v1.6M832 531.67v1.42M850.08 560.6v0.73M821.68 547.78v1.2M849.59 570.5v0.43M855.37 576.66v0.06M826.39 527.65v0.28M834.86 516.93v1.07M830.31 617.39v0.48M837.87 531.22v1.51M843.89 546.67v1.51M847.73 621.02v0.08M848.45 582.64v1.14M845.75 606.46v0.88M829.47 633.74v1.47M845.3 524.81v1M829.25 630.18v1.77M837.09 559.23v0.54M842.74 628.24v1.65M852.16 568.35v0.62M851.98 579.32v0.22M828.72 586.44v1.78M820.21 551.75v1.75M828.89 512.36v1.71M821.51 503.75v0.82M836.24 630.25v0.76M839.9 592.24v1.08M826.03 571.66v1.53M834.33 548.23v0.72M833.19 537.29v0.65M823.88 600.58v0.83M849.77 540.64v1.03M842.51 630.55v0.63M836.87 534.27v1.7M836.52 498.37v1.08M821.9 585.13v0.8M823.69 612.85v1.72M843.45 603.95v0.51M820.54 625.17v0.39M855.44 569.94v1.41M830.14 580.23v0.41M838.1 514.7v1.5M841.87 546.02v1.04M855.76 632.36v0.41M842.08 538.81v0.39M819.88 597.83v0.93M837.29 507.13v1.63M828.16 575.54v0.96M822.86 591.33v1.45M823.45 519.7v0.28M829.71 530.74v1.6M827.58 599.21v1M828.01 500.61v1.18M841.33 637.47v0.44M831.79 557.9v0.92M820.68 546.51v1.56M834.5 601.79v0.27M843.06 558.9v1.55M836.66 598.59v1.13M822.25 548.16v0.83M835.31 537.62v0.57M842.32 565.43v1.58M852.04 515.79v1.14M828.65 610.8v1.46M832.72 636.22v0.01M828.96 531.93v0.73M848.17 575.42v1.61M852.47 554.95v1.47M855.32 595.21v1.03M854.73 638.04v1.39M831.9 510.72v0.18M828.4 541.37v0.35M845.15 523.76v0.15" stroke="#b07a24" stroke-width="1.3" stroke-linecap="round" fill="none"/><rect x="818.8" y="493" width="39.2" height="145.4" fill="url(#edgeg)"/></g><clipPath id="lc28"><rect x="870.7" y="493" width="40.4" height="145.4"/></clipPath><g clip-path="url(#lc28)"><rect x="870.7" y="493" width="40.4" height="145.4" fill="#52843a"/><rect x="870.7" y="493" width="40.4" height="145.4" fill="url(#vein)"/><rect x="870.7" y="493" width="40.4" height="145.4" filter="url(#f4)"/><rect x="870.7" y="493" width="40.4" height="145.4" filter="url(#f5)"/><rect x="870.7" y="493" width="40.4" height="145.4" filter="url(#f52)"/><path d="M889.81 559.11v0.81M887.41 627.75v0.94M897.44 598.97v1.6M878.26 612.84v1.12M893.65 497.07v0.32M898.12 571.68v0.77M884.84 532.9v1.68M899.43 631.27v0.34M904.73 525.95v0.37M892.44 500.15v0.46M896.46 526.82v1.19M905.87 570.59v0.88M882.88 535.35v1.4M888.04 637.7v1.06M908.08 636.05v0.78M909.11 624.65v0.62M901.75 634.48v0.03M898.03 602.52v1.66M904.49 541.03v1.03M892.17 636.24v0.9M904.75 547.19v0.57M896.54 493.65v0.16M873.04 546.57v0.21M892.64 535.13v0.81M888.27 598.42v1.12M905.77 577.22v0.22M882.84 564.96v1.24M902.3 634.4v0.02M875.89 619.56v1.79M897.12 624.42v1.45M893.93 519.57v1.08M887.94 610.97v0.56M877.8 574.35v1.1M886.39 628.12v1.09M891.4 511.27v0.84M893.92 598.45v0.42M882.88 514.24v1.26M879.68 584.84v1.11M883.33 523.31v1.27M872.27 604.7v1.7M884.79 608.68v1.16M891.52 569.98v1.15M908.95 621.79v1.44M880.28 523.21v0.11M903.39 574.12v0.48M894.41 580.85v1.22M887.83 510.49v0.91M878.96 541.85v0.21M907.08 589.19v0.72M892.18 548.33v0.69M906.32 621.32v0.68M892.66 523.25v0.38M891.43 555.25v0.05M902.1 617.91v1.41M890.36 501.06v0.1M908.36 565.81v0.68M903.47 560.83v0.18M888.5 536.86v0.17M874.64 579.56v1.01M890.22 552.17v0M891 621.82v1.56M883.77 620.94v1.25M894.07 575.51v1.45M874.38 550.79v1.58M894.15 604.13v1.69M886.38 628.46v1.75M898.9 632.53v0.62M887.35 556.09v1.73M892.36 607.05v0.01M906.91 570.23v0.27M888.81 494.36v1.11M896.63 628.36v1.45M880.63 612.84v1.67M895.98 595.52v0.75M901.29 548.53v0.82M886.82 524.4v1.7M906.17 600.75v0.79M901.64 587.78v0.97M906.19 560.03v1.65M900.68 497.36v0.55M873.05 576.25v0.95M897.99 553.61v0.6M891.09 608.28v1.16M909.88 597.63v0.93M879.43 571.02v0.05M888.95 586.14v0.28M891.13 631.82v1.59M871.89 541.22v1.63M890.06 566.17v1.69M878.27 528.4v1.25M905.89 593.03v1.33M879.18 543.91v0.41M906.84 549.42v0.17M906.87 637.81v0.07M884.27 634.86v0.44M874.61 600.99v0.86M872.47 628.6v1.47M873.67 497.72v1.7M904.63 571.37v1M875.43 573.77v1.45M873.71 529.25v1.56M873.53 631.96v1.07M903.58 526.02v1.79M899.9 616.22v1.3M899.34 498.79v0.91M901.41 602.47v1.59M872.14 635.45v1.18M875 538v0.41M876.2 580.58v1.41M900.25 626.07v0.62M889.26 518.13v1.43M889.41 510.79v1.48M882.24 516.08v0.11M893.16 596.97v0.82M906.72 553.51v1.2M878.26 514.96v1.27M883.73 547.68v0.24M893.17 506.77v1.52M871.81 518.81v0.52M897.65 598.2v1.54M890.76 602.62v1.54M889.61 494.64v1.08M888.86 581.21v1.5M874.15 574.39v0.25M901.57 579.24v0.45M894.51 610.56v1.37M896.03 635.53v1.16M909.42 530.6v0.73M892.9 514.76v0.88M878.55 551.37v1.3M903.4 550.07v0.01M875.53 513.63v1.35M882.52 549.24v0.16M909.64 559.02v1.38M887.67 523.91v0.55M904.15 583.71v1.65M879.72 510.41v1.12M876.47 638.03v0.94M902.4 500.04v1.27M905.77 506.96v0.1M895.55 617.82v1.69M880.44 578.42v1.14M896.55 556.4v1.46M904.5 637.99v0.97M875.8 592.9v1.37M881.87 515.61v0.19M903.12 525.7v1.58M909.66 628.03v0.88M878.51 570.67v0.54M907.18 504.08v1.47M898.41 572.5v0.24M880.96 501.56v1.79M897.94 607.86v0.77M893.36 496.21v0.57M880.24 596.04v1.39M882.56 493.14v0.33M894.45 602.57v0.17M895.09 612.31v0.57M893.88 536.68v1.31M894.44 532.55v0.25M902.55 606.82v0.36M879.6 543.55v1.25M892.85 523.56v0.23M874.56 519.52v0.55M874.8 567.6v1.7M888.03 512.17v0.31M872.02 530.32v0.59M898.71 601.95v1.69M877.23 564.72v0.53M872.75 513.34v1.25M884.44 592.77v0.62M889.53 628.5v0.1M885.22 537.69v0.72M882.1 568.23v0.83M888.23 615.36v0.15M907.72 627.99v0.73M892.55 598.69v0.14M893.81 533.13v0.26M902.25 618.68v1.34M871.53 633.83v1.18M874.2 581.32v0.69M887.62 634.71v0.09M890.72 505.95v1.34M897.36 592.04v1.55M894.22 548.64v1.68M906.25 552.89v1.72M885.02 603.17v0.29M891.85 595.38v0.97M889.41 628.75v0.92M888.25 517.03v0.04M895.45 630.72v0.11M889.04 635.02v1.15M886.52 535.59v0.3M885.37 562.66v0.76M906.84 531.18v0.8M889.98 632.9v0.7M909.41 563.09v1.66M882.25 588.07v1.64M898.36 602.23v1.5M872.61 587.2v1.6M900.3 558.77v1.66M891.39 552.1v0.72M900.89 604.06v1.73M894.82 545.88v0.28M907.36 515.98v1.6M878.12 579.04v1.12M897.97 603.5v1.22M897.29 509.05v1.71M882.97 520.6v1.13M885.69 579.8v0.37M905.55 595.56v0.63M900.28 507.6v0.46M906.98 565.31v1.37M891.28 599.66v0.24M876.96 578.01v1.08M898.39 601.74v0.08M903.18 499.88v1.61M906.95 549.77v0.29M891.26 509.37v0.53M902.36 610.4v0.51M884.08 590.84v1.41M907.99 623.4v1.65M910.18 626.99v0.12M880.92 623.89v1.1M874.6 550.05v0.34M897.65 606.14v0.97M908.99 614.33v1.03M889.79 510.32v0.33M883 611.37v0.74M909.72 578.53v1.77M877.56 504.71v1.12M885.41 633.35v1.53M876.75 565.49v1.37M909.23 504.73v1.11M885.5 638.29v0.65M900.58 528.6v1.69M886.35 499.67v0.76M901.91 626.05v1.25M895.13 582.98v0.73M878.61 550.72v1.79M880.51 585.3v1.64M907.61 593.05v1.6M871.94 587.99v0.66M877.16 591.13v1.57M884.07 493.5v1.32M874.92 575.96v0.89M898.38 574.68v1.13M880.01 627.68v0.87M883.67 525.35v0.05M889.23 523.54v0.66M874.5 604.29v1.51M895.65 534.79v0.39M871.83 582.04v1.33M876.95 529.59v1.55M898.71 577.23v0.44M890.07 542.04v0.63M902.41 495.02v1.45M879.86 563.99v1.1M885.01 586.72v0.87M897.15 588.6v0.2M890.46 610.33v0.72M899.13 548.32v0.88M905.15 495.7v0.31M909.36 506.98v1.59M881.32 545.7v1.74M907.19 510.05v0.66M876.39 634.18v0.99M879.05 604.73v1.47M891.99 587.98v0.36M896.44 558.67v0.85M879.57 503.36v1.3M884.19 503.26v0.42M905.21 563.34v0.68M902.17 568.25v0.29M876.94 562.23v0.46M883.59 599.98v0.95M897.97 622.5v1.33M892.82 493.22v1.78M883.95 508.65v1.1M889.27 583.34v0.06M903.5 560.69v0.65M874.58 514.12v1.65M890.85 571.4v0.82M880.44 576.85v1.36M890.94 636.64v1.47M879.72 506.06v0.81M880.31 495.88v0.77M873.61 636.99v1.64M905.7 596.38v0.23M896.74 542.25v1.34M889.05 601.61v0.1M897.12 620.2v0.44M871.75 513.55v1.29M872.55 606.27v1.22M906.64 592.76v1.15M873.99 516.81v0.17M879.95 571.3v1.07M905.34 590.33v1.59M886.44 556.86v1.4M894.58 501.83v0.96M872.7 530.49v1.79M889.35 569.89v1.37M889.27 554.7v1.09M882.96 534.18v0.74M891.33 571.32v0.16M882.97 520.55v1.64M879.38 534.18v0.23M894.71 570.9v1.31M875.77 596.59v1.57M891.37 603.55v1.21M907.12 552.63v1.28M900.32 495.77v0.09M908.83 580.64v1.49M877.13 500.53v1.03M891.94 598.14v0.8M905.72 569.22v1.62M909.07 630.33v1.37M886.1 540.49v0.26M896.49 573.56v0.21M876.06 636.36v1.61M883.22 496.32v1.11M892.63 510.69v0.33M877.8 606.31v0.12M904.93 591.96v0.44M881.29 631.22v0.05M872.79 592.31v0.43M910.14 580.12v0.47M891.07 536.9v1M903.14 636.42v1.52M875.8 574.9v1.69" stroke="#b07a24" stroke-width="1.3" stroke-linecap="round" fill="none"/><rect x="870.7" y="493" width="40.4" height="145.4" fill="url(#edgeg)"/></g><clipPath id="lc29"><rect x="926.9" y="493" width="36" height="145.4"/></clipPath><g clip-path="url(#lc29)"><rect x="926.9" y="493" width="36" height="145.4" fill="#568a3a"/><rect x="926.9" y="493" width="36" height="145.4" fill="url(#vein)"/><rect x="926.9" y="493" width="36" height="145.4" filter="url(#f6)"/><rect x="926.9" y="493" width="36" height="145.4" filter="url(#f7)"/><rect x="926.9" y="493" width="36" height="145.4" filter="url(#f53)"/><path d="M955.15 563.6v1.66M938.3 636.65v1.64M942.57 550.72v0.92M953.95 542.46v0.18M934.48 587.62v0.53M943.42 611.88v0.27M950.17 548.14v1.45M938.66 588.43v1.11M929.16 520.93v1.16M957.19 505.53v0.67M957.99 552.42v0.93M953.24 626.37v1.7M951.06 547.5v1.05M956.02 637.52v1.58M959.36 507.62v0.36M931.87 573.88v0.29M948.15 606.75v1.09M945.37 618.84v0.14M959.3 564.9v1.74M929.41 603.58v0.78M960.51 573.16v1.56M945 585.15v1.75M942.64 539.63v0.62M939.92 625.83v1.75M952.91 593.67v0.08M941.37 561.47v0.36M930.2 558.49v0.98M952.86 572.42v0.93M945.86 615.73v0.03M942.97 573.71v0.82M945.75 532.21v0.47M928.78 529.42v1.14M962.15 634.63v1.32M932.05 623.7v0.89M928.76 516.38v1.5M961.32 596.45v1.25M935.64 535.08v1.27M928.27 619.06v1.38M940.15 497.07v0.53M940.93 524.16v1.36M959.79 578.83v0.56M938.21 627.47v0.18M947.25 518.87v0.47M956.97 521.6v0.53M961.5 593.84v1.71M945.03 596.42v1.17M938.15 566.63v1.6M945.05 547.15v1.23M934.06 540.04v1.18M960.63 533.98v0.91M930.26 577.7v1.16M936.01 574.41v1M956.3 594.02v0.79M941.49 584.11v0.37M938.12 538.14v0.38M942.29 573.3v0.36M940.04 562.45v0.29M955.12 500.82v0.95M953.75 608.75v0.56M927.75 535.22v0.72M958.68 578.58v1.46M927.79 513.76v1.58M945.81 627.14v1.57M939.38 596.1v1.61M938.21 612.76v1.31M936.07 607.76v1.58M931.16 613.97v0.31M948.48 605.38v1.13M949.39 625.61v0.12M936.03 571.84v0.12M928.15 528.47v0.46M953.06 572.83v1.69M929.59 559.17v1.23M934.56 530.18v1.79M940.81 504.93v0.6M952.96 499.55v1.66M954.38 599.76v1.01M952.5 515.45v0.35M939.82 563.4v0.72M941.43 533.22v1.12M930.84 558.62v1.01M962.02 498.26v1.08M954.77 567.99v1.11M960.54 599.71v0.98M948.75 495.9v0.7M930.81 617.27v0.55M952.99 522.42v0.06M937.76 609.57v1.28M951.12 576.16v1M949.98 632.36v1.59M942.3 493.91v0.38M948.37 629.17v1.69M941.56 611.42v0.06M941.97 543.62v0.28M929.12 503.94v0.84M956.83 572.42v0.21M938.63 586.2v1.18M942.53 543.8v1.13M961.22 581.13v0.33M957.22 571.07v1.29M955.69 580.28v0.94M958 532.85v0.83M955.39 556.67v1.71M933.17 501.81v0.08M957.3 543.34v0.11M959.96 511.69v0.65M930.08 586.27v0.28M949.2 609.76v0.97M936.1 515.54v1.39M936.78 629.6v1.31M930.43 527.92v1.78M948.92 520.28v1.69M944.5 542.83v0.08M945.45 621.21v1.3M930.74 562.04v0.37M935.41 621.58v0.12M929.18 530.95v0.44M953.02 573.6v1.14M956.61 571.06v0.92M944.79 606.92v1.11M935.57 615.09v1.46M946.5 571.71v1.57M933.77 553.85v1.29M934.17 569.07v1.71M960.42 623.39v0.85M958.26 616.36v1.36M931.04 602.47v0.25M952.13 630.26v1.28M933.4 600.29v0.47M938.58 605.43v1.01M947.94 611.33v0.51M943.77 561.74v0.76M940.78 606.44v0.82M942.91 619.73v0.48M937.37 562.49v1.77M955 627.16v1.51M933.1 606.96v1.73M933.14 552.25v0.99M941.47 507.32v0.89M957.14 632.98v1.65M942.17 616.62v0.6M944.02 534.68v1.45M960.71 493.82v1.66M944.7 625.73v0.28M950.34 635.42v1.43M944.53 516.69v0.1M932.42 512.49v0.45M958.8 497.48v0.98M942.75 621.61v0.01M959.02 551.88v1.68M956.88 546.88v0.66M959.4 549.11v1.66M961.14 598.43v0.61M946.95 581.32v0.3M939.31 604.71v0.66M929.97 541.27v0.72M953.96 624.13v0.17M944.45 619.42v0.37M939.13 621.19v0.61M953.97 561.88v0.19M934.5 578.65v0.41M930.72 605.86v1.62M955.44 559.09v1.75M961.21 561.73v0.34M946.84 614.31v1.29M956.74 621.18v1.6M952.36 607.76v0.35M933.39 636.83v1.21M945.93 546.95v1.2M952.04 549.24v0.14M950.31 495.34v0.25M937.75 500.54v0.18M932.5 584.82v0.77M954.79 612.51v0.46M934.75 574.54v0.15M955.75 567.69v0.65M953.35 532.62v0.62M935.23 512.97v1.64M962.1 595.7v1.37M960.88 623.89v1.33M945.86 553.33v0.7M959.83 599.37v1.02M949.33 544.89v0.6M947.36 547.58v1.65M929.48 581.86v0.3M931.71 626.9v0.68M955.01 572.74v1.35M929.75 618.82v1.3M934.86 534.78v0.75M942.51 497.41v1.35M946.11 634.52v0.17M945.54 631.15v0.01M953 542.18v1.25M929.76 597.38v0.67M953.03 557.44v0.27M958.39 626.26v1.53M937.87 538.58v1.74M959.37 602.67v0.65M930.52 622.85v1.72M951.68 496.71v1.63M958.61 611.27v0.33M927.78 513.15v0.12M961.06 625.22v0.74M938.38 503.33v0.61M932.89 537.51v0.47M941.24 504.49v1.07M940.79 604.08v1.39M946.39 507.1v0.44M935.39 620.6v1.08M960.41 616.71v0.02M932.67 628.85v1M929.18 606.56v0.67M937.77 598.95v0.12M937.26 603.81v0.31M931.06 593.23v0.2M951.45 592.49v1.67M947.16 535.01v0.37M938.39 520.08v1.47M940.13 594.18v0.26M960.27 580.2v1.12M955.04 625.3v0.56M936.73 525.32v1.72M931.08 605.61v1.75M956.65 513.2v1.6M962.1 558.75v0.02M938.3 518.62v0.2M935.57 535.45v0.05M959.48 555.74v0.49M936.73 576.91v0.19M952.97 578.24v1.8M945.16 632.79v0.3M933.52 582.45v0.7M949.21 611.99v0.88M945.72 629.19v0.05M954.07 514.45v1.22M933.02 581.42v0.88M954.47 585.29v1.64M959.56 615.05v1.04M949.47 520.62v1.25M957.11 546.51v0.34M940.75 544.55v0.4M946.62 586.31v0.58M947.8 556.72v0.14M944.67 608.84v1.56M936.35 611.82v1.49M953.51 622.78v0.41M948.18 510.99v0.59M948.12 560.71v1.63M929.47 585.65v0.5M950.86 621.98v1.74M931.39 604.51v1.29M958.37 569.7v0.54M928.66 611.12v0.27M939.83 546.45v0.55M955.88 526.23v0.36M957.63 547.33v0.98M928.28 503.18v1.58M959.76 493.01v1.74M949.54 545.82v0.02M940.96 502.85v0.44M935.66 555.7v0.75M943.57 612.15v1.31M936.68 581.97v0.83M956.1 498.24v1.52M928.85 634.84v1.3M942.72 625.95v1.62M931.97 600.76v0.63M960.47 558.77v0.92M938.22 622.08v0.7M937.41 622.89v0.49M947.86 514.22v1.52M931.42 618.43v0.1M943.36 516.05v0.4M934.77 543.3v1.28M930.03 605.71v1.03M959.84 511.94v0.45M928.35 532.44v0.73M947.48 543.06v0.71M927.94 581.47v0.51M940.09 515.59v1.48M933.65 542.12v1.03M929.7 507.38v1.45M928.19 625.3v0.57M950.24 493.16v1.19M928.69 568.7v1.47M930.28 546.95v0.1M953.61 509.52v0.12M952.3 606.42v0.51M934.17 563.32v0.88M961.58 503.88v0.6M958.88 581.68v1.54M955.02 529.48v0.76M960.38 606.31v1.34M942.54 631.22v0.42M956.83 574.05v1.04M961.97 569.6v1.37M942.99 530.7v0.82M958.66 569.96v1.56M946.62 606.65v1.27M952.61 565.19v0.12" stroke="#b07a24" stroke-width="1.3" stroke-linecap="round" fill="none"/><rect x="926.9" y="493" width="36" height="145.4" fill="url(#edgeg)"/></g><clipPath id="lc30"><rect x="974.3" y="493" width="45.6" height="145.4"/></clipPath><g clip-path="url(#lc30)"><rect x="974.3" y="493" width="45.6" height="145.4" fill="#5c8836"/><rect x="974.3" y="493" width="45.6" height="145.4" fill="url(#vein)"/><rect x="974.3" y="493" width="45.6" height="145.4" filter="url(#f26)"/><rect x="974.3" y="493" width="45.6" height="145.4" filter="url(#f27)"/><rect x="974.3" y="493" width="45.6" height="145.4" filter="url(#f54)"/><path d="M989.05 551.26v0.88M981.38 541.44v0.6M979.59 603.77v1.24M1018.8 596.36v0.5M1009.66 553.36v1.37M1008.28 612.79v0.78M991.08 518.03v1.61M1017.23 507.55v0.57M989.21 556.34v0.82M1005.91 609.27v1.43M1014.8 517.86v1.36M1014.79 535.81v0.6M994.36 532.26v0.01M979.69 510.06v0.7M1004.65 503.31v0.57M990.4 591.23v0.06M1002.07 621.5v1.17M983.77 509.45v0.21M999.43 509.67v0.51M1001.46 576.41v0.28M999.63 553.46v0.05M991.89 594.15v1.36M1002.32 576.4v1.45M1018.1 521.48v1.46M986 557.32v1.38M1011.87 543.19v1.56M1001.25 591.73v0.86M1018.64 632.34v1.57M1013.36 511.31v0.98M988.27 519.98v0.07M997.8 618.4v1.34M1017.18 580.14v0.16M1008.64 535.86v0.76M1013.31 573.76v0.48M994.91 513.77v1.69M990.9 629.39v0.13M993.58 583.4v1.43M995.73 604.81v1.77M981.19 615.27v0.75M1000.88 552.73v0.46M1016.47 638.07v0.66M1006.08 533.46v1.37M982.98 515.39v1.5M995.88 556.23v1.24M1018.52 549.23v1.6M985.34 574.42v0.48M981.28 535.59v0.31M980.77 613.44v0.1M1006.37 511.71v0.98M995.04 527.01v0.84M1003 575.3v1.73M1003.72 566.51v0.71M1009.05 564.79v1.53M1006.63 508.64v0.43M977.67 553.05v0.67M998.9 576.82v0.9M1013.86 551.3v0.11M978.35 555.47v0.26M986.85 610.84v0.09M985.86 573.49v0.47M979.77 552.75v0.2M1001.78 571.3v0.58M1008.65 637.96v0.61M1003.27 514.67v1.68M1002.52 594.12v0.59M988.31 620.61v0.1M1010.45 609.32v0.07M987.93 591.14v0.81M999.66 524.75v0.49M1018.78 602.52v1.36M988.51 507.4v0.58M986.67 606.16v1.14M975.54 604.93v1.38M978.56 633.95v1.25M989.04 590.08v1.19M998.74 592.26v1.75M979.49 626.04v0.3M987.84 502.79v0.41M989.15 617.17v0.65M983.61 611.72v1.56M989.4 609.76v1.65M986.14 523.34v1.74M988.44 556.44v0.84M1008.3 508.46v0.75M988.5 516.47v0.27M990.76 509.01v1.46M975.71 541.48v0.04M1007.76 632.12v0.48M1004.65 567.24v0.87M1007.14 625.62v1.55M1011.4 499.16v1.67M1001.35 576.63v0.54M997.33 524.15v1.77M978.56 595.25v0.85M984.07 628.39v1.63M1014.11 541.57v1.66M979.75 505.3v1.68M1004.56 634.83v1.62M991.68 546.91v0.64M984.03 557.66v0.31M979.21 626.85v1.28M1016 511.07v1.38M978.28 556.12v1.32M1016.51 543.39v0.99M991.98 607.81v0.77M1014.57 495v1.12M980.99 516.53v0.11M986.91 597.56v1.03M1018.53 616.43v1.21M996.08 538.2v1.7M1005.07 519.25v1.65M996.45 535.38v1.61M983.79 513.88v1.69M990.89 527.01v1.75M984.31 538v0.47M1016.25 515.47v1M1005.92 630.04v1.46M987.05 601.17v0.07M987.06 626.64v0.98M990.21 634.04v0.37M989.64 587.62v0.74M1008.58 549.33v1.36M991.69 500.82v1.79M978.76 619.71v0.09M995.5 573.02v1.71M999.46 553.77v1.15M1016.8 553.92v0.87M1001.89 521.64v0.58M1017.09 593v0.79M1005.26 501.85v0.08M998.6 517.13v1.58M1012.23 591.73v0.39M989.32 603.84v0.8M1000.23 551.42v1.42M1014.26 566.37v0.65M1012.69 517v0.4M1010.12 536.89v0.36M1009.44 497.86v1.69M1004.97 539.45v1.29M997.95 496.84v0.46M1018.91 595.96v1.24M992.98 588.45v0.97M1004.83 505.62v0.86M990.23 582.51v1.15M1003.08 500.67v0.58M987.56 610.39v0.73M999.59 542.55v0.41M981.45 516.53v0.6M983.47 580.78v0.95M1014.07 512.88v1.38M999.32 589.15v1.68M1016.26 547.1v1.78M991.23 569.75v0.37M980.65 494.03v1.68M1010.1 611.53v1.56M1018.36 504.8v0.65M991.75 585.47v1.3M993.02 614.65v1.19M1000.21 591.52v1.59M993.89 573.89v0.64M980.17 525.08v1.73M1014.02 573.86v1.46M1010.76 616.16v0.37M981.15 517.76v0.98M1005.96 569.55v1.4M1012.21 612.48v0.26M980.21 589.28v1.48M1009.99 608.86v0.22M1018.9 561.35v0.83M975.63 495.68v1.56M1002.23 557.12v1.11M1009.06 532.52v1.53M1017.8 599.65v0.51M986.39 546.83v1.07M990.09 570.58v0.86M1000.28 584.96v0.38M990.48 510.46v1.54M1015.44 581.88v0.17M1017.22 505.64v0.73M1000.46 554.94v0.45M987.72 584.19v0.45M983.74 527.85v1.55M1004.34 590.01v0.86M991.79 626.54v1.39M1014.77 537.05v0.04M1016.5 634.46v1.37M1012.25 516.62v1.35M987.28 519.27v1.25M981.46 495.31v0.4M976.82 614.6v1.53M988.72 495.62v0.28M981.98 599.13v0.38M980 599.94v1.33M990.62 633.1v1.16M1002.04 528.34v1.33M982.43 624.91v0.44M989.71 535.24v0.6M992.78 564.89v0.45M1004.12 614.77v1.36M1004.76 599.94v0.68M1016.85 560.7v1.78M983.85 609.32v1.76M1009.89 560.4v0.46M995.21 497.05v1.51M979.24 627.83v0.48M1012.11 592.22v1.76M995.35 578.35v1.72M1008.67 504.96v1.69M981.53 575.04v0.14M990.25 507.74v1.32M1000.4 566.37v0.31M1009.73 597.22v1.25M980.46 506.92v0.68M1013.76 526.11v0.63M990.29 526.51v0.08M983.98 530.39v0.57M1010.43 603.98v1.36M1005.32 631.19v1.02M989.82 589.73v0.69M1016.9 578.57v0.98M975.84 631.31v0.91M1003.87 498.65v0.4M988.81 500.09v1.45M1008.12 527.19v1.49M1002.44 511.91v1.45M983.53 510.78v0.21M976.77 635.24v0.27M993.46 564.73v0.19M975.48 590.28v1.29M984.24 558.91v0.77M1005.29 541.76v0.86M1002.65 593.53v0.44M982.12 532.85v1.13M992.01 524.45v1.57M987.24 621.2v0.23M1009.75 509.03v1.53M999.16 512.76v0.67M1006.4 603.43v0.53M1010.91 534.56v0.7M993.27 519.87v0.55M1008.52 536.41v0.41M1009.71 536.5v0.56M987.56 582.9v1.53M1005.83 512.56v1.79M985.72 586.32v1.51M1011.97 494.24v1.21M994.45 521.31v0.27M1012.96 540.02v0.26M994.64 608.66v0.51M994.77 520.83v0.12M1001.76 553.68v1.3M993.71 496.72v0.21M991.71 493.89v0.13M979.78 630.69v0.5M1017.27 595.95v1.02M1008.42 510.59v1.08M985.95 571.27v1.05M1015.34 596.44v0.07M1014.71 614.42v0.59M1017.82 591.8v0.39M998.22 599.71v1.73M994.36 635.52v0.51M1011.05 500.58v0.91M996.81 609.29v1.23M1014.49 541.64v0.83M985.04 503.39v0.93M1001.87 538.1v1.5M989.6 584.19v1.33M989 493.38v1.15M979.5 539.1v1.4M991.14 595.82v1.52M976.81 604.06v0.42M1015.91 613.54v1.72M997.44 573.41v1.65M990.14 624.6v0.59M1009.64 519.43v1.44M1017.07 550.51v1.34M997.87 513.22v1.55M996.77 574.38v0.23M988.72 624.71v1.5M984.06 610.65v1.24M1018.38 536.4v1.5M1003.51 583.58v0.49M1001.28 544.98v0.81M986.58 576.78v1.44M979.88 537.49v0.9M1015.93 610.75v0.97M979.61 620.65v1.74M975.34 503.95v1.67M1001.31 612.15v0.4M979.42 587.19v0.87M980.83 578.84v1.79M998.99 608.92v1.19M986.15 627.04v0.97M996.21 546.01v0.65M1018.42 632.44v0.15M994.14 570.33v0.17M1011.16 610.48v0.72M985.81 589.53v0.49M1004.49 504.1v1.53M979.1 632.77v0.13M1015.39 593.08v1.04M1010.68 574.51v1.21M976.13 551.52v0.57M1009.53 509.84v0.41M1015.15 567.41v0.78M1017.38 512.22v1.64M992.3 605.29v0.01M1000.88 533.3v0.42M994.68 606.93v0.59M985.83 528.66v1.22M996.56 618.46v1.66M993.09 494.82v1.21M1014.69 494.31v0.55M1013.54 604.84v0.18M990.29 535.87v1.35M1003.85 637.5v0.79M988.83 519.67v0.91M1016.94 618.99v1.62M982.44 577.15v0.75M1016.83 612.61v0.45M983.65 528.3v1.6M990.09 618.05v1.59M1003.05 604.82v0.9M1012.3 554.89v0.91M979.39 636.73v0.67M988.62 625.6v1.75M1004.41 628.69v1.28M993.56 574.01v1.37M1017.46 523.5v0.01M990.47 494.88v1.46M1018.77 522.04v1.26M1005.69 629.17v0.03M1007.71 523.83v0.13M1013.83 615.23v0.15M1015.68 536.05v0.73M1008.77 606.37v0.15M990.4 565.7v1.41M976.23 619.07v0.29M1003.89 602.48v0.02M983.09 556.16v1.72M1000.94 574.7v1.29M984.37 534.95v1.49M998.66 542.84v0.58M980.73 566.2v0.35M1004.83 628.86v1.39M1018.49 543.1v1.5M995.96 593.35v0M982.18 515.92v0.86M996.01 578.22v1.64M994.77 544.55v0.14M977.44 576.1v0.26M990.2 596.2v1.48M1013.11 537.56v0.64M994.58 534.5v1.54M1006.92 636.14v0.26M992.22 589.19v0.83M1003.54 590.22v1.36M1002.49 565.17v0.18M993.81 568.91v0.27M1008.13 581.65v0.57M1016.32 633.48v0.64M1013.52 625.49v1.27M1018.81 537.94v0.21M1010.18 587.47v1.26M995.95 614v1.08M1005.15 544.19v0.65M988.44 544.14v1.41M979.43 601.39v0.18M1003.12 535.93v0.81M1007.65 542.84v1.7M988.72 607.32v0.87M982.19 521.21v1.56M988.35 508.52v1.66M1008.87 578.14v1.08M990.32 621.79v0.57M1012.66 500.54v0.83M999.17 507.95v0.44M1002.95 502.92v0.32M1016.16 557.33v1.35M1008.61 534.78v1.08M1000.5 556.61v1M992.31 505.68v1.64M1010.25 570.31v1.11M988.15 546.05v0.17M997.84 555.91v0.6M1001.47 496.15v1.33M994.52 560.33v0.82M1017.94 546.21v1.35M985.84 569.93v0.8M986.21 560.06v0.33M1009.79 584.29v1.67M1016.17 624.5v1.56M985.09 528.88v0.06M994.7 554.67v0.59M1017.97 637.31v1.51M996.77 595.69v0M1017.63 544.07v0.38M978.14 535.43v0.38M986.82 564.89v0.74M993.04 631.74v1.02M1009.79 525.34v1.59M1008.08 579.52v1.06M985.78 547.9v0.73M986.97 597.76v1.46M986.46 521.4v0.91M992.34 589.66v0.31M983.74 561.17v1.77M992.83 628.73v0.3M983.85 500.97v0.01M999.96 564.76v1.46M996.1 619.6v0.89M997.23 515.73v1.16M1009.69 617.81v0.44M1008.97 589.76v1.68M986.53 552.74v0.15M1004.58 500v0.41M982.93 590.77v1.26M1005.06 534.05v1.64M1012.12 538.39v0.49M1011.25 586.36v1.01M1018.74 545.74v1M1004.75 529.44v1.74M993.5 541.56v1.71M1000.87 536v1.31M982.38 635.58v0.55M999.32 584.27v0.94M998.6 628.13v0.54M1009.68 637.43v0.95M1006.84 612.05v0.11M1010.24 622.47v1.4M988.23 563.06v1.57M1000.9 569.98v0.13M1014.32 601.23v0.96M992.04 508.77v1.64M984.16 555.39v0.2M986.79 538.05v0.98M1003.01 599.17v1.02M1013.33 619.29v0.27M976.32 600.66v1.02M1007.11 558.11v1.24M991.51 523.07v1.05M1005.61 589.79v1.01M980.07 553.44v1.48M1016.19 622.25v0.97M975.61 586.64v1.5M980.47 632.83v1.25M992.47 545.05v1.74M982.62 606.94v0.59M1006.24 616.46v0.43M981.16 503.9v0.35M1011.14 505.82v1.32M1012.27 521.48v1.15M1011.19 540.03v1.48M1012.74 527.11v1.34M995.16 509.92v1.71M993.99 513.58v0.8M981.11 539.57v0.5M996.15 634.6v1.17M978.08 560.14v0.23M1018.97 580.24v0.82M981.8 495.47v1.74M1008.87 568.77v1.09M989.58 535.5v1.42M986.46 578.83v1.15M980.12 521.79v1.07M992.27 547.13v0.72M981.71 512.78v0.85M999.9 521.29v1.11M975.86 621.23v0.61M1006.91 604.44v0.2M994.44 554.72v0.76M1003.92 504.3v0.75M976.84 545.41v1.65M1010.49 546.37v0.67M982.36 560.13v0.63M1005.2 594.01v0.46M997.49 557.38v0.01M981.4 543.31v1.04M978.93 535.02v0.58" stroke="#b27a22" stroke-width="1.3" stroke-linecap="round" fill="none"/><rect x="974.3" y="493" width="45.6" height="145.4" fill="url(#edgeg)"/></g><clipPath id="lc31"><rect x="1034.7" y="493" width="43.6" height="145.4"/></clipPath><g clip-path="url(#lc31)"><rect x="1034.7" y="493" width="43.6" height="145.4" fill="#5e883c"/><rect x="1034.7" y="493" width="43.6" height="145.4" fill="url(#vein)"/><rect x="1034.7" y="493" width="43.6" height="145.4" filter="url(#f13)"/><rect x="1034.7" y="493" width="43.6" height="145.4" filter="url(#f14)"/><rect x="1034.7" y="493" width="43.6" height="145.4" filter="url(#f55)"/><path d="M1038.61 630.39v0.29M1041.76 596.66v1.22M1066.98 494.94v0.63M1074.86 534.52v1.3M1048.51 563.1v0.22M1067.61 603.96v0.06M1041.16 585.19v0.97M1053.02 620.17v1.35M1064.04 547.26v0.32M1063.01 524.89v0.99M1043.65 507.13v0.96M1061.67 568.1v1.37M1042.24 608.85v0.3M1044.6 553.45v0.06M1057.95 613.7v0.1M1070.23 546.33v0.22M1044.28 602.01v0.45M1060.96 523.76v1.6M1042.69 556.45v0.46M1061.53 564.52v1M1071.28 542.63v0.41M1060.36 493.19v0.1M1044.32 524.23v1.2M1071.04 559.42v1.48M1062.96 520.18v0.5M1059.09 495.8v0.1M1071.21 521.01v0.59M1043.43 505.76v1.71M1052.98 591.8v0.11M1041.35 580.68v0.56M1040.33 553v0.05M1042 527.9v0.83M1058.83 493.7v0.9M1045.45 541.67v1.01M1073.12 503.83v0.84M1052.74 591.48v0.72M1053.38 609.36v0.66M1056.54 564.6v0.52M1074.82 633.1v0.5M1073.71 605.54v0.79M1050.76 623.98v1.13M1052.37 619.06v0.21M1061.77 499.05v1.43M1044.96 499.65v0.87M1074.82 521.25v1.25M1038.48 552.37v0.23M1056.94 507.22v0.32M1040.65 565.01v0.18M1070.9 637.37v0.71M1039.73 520.28v0.69M1073.64 592.96v1.1M1039.76 533.3v1.62M1043.42 632.5v0.32M1058.86 534.04v0.02M1073.65 530.3v1.33M1073.56 592.37v0.17M1061.76 623.14v0.74M1064.87 551.19v0.32M1075.27 575.5v1.39M1060.64 623.24v0.05M1051.86 630.73v0.44M1053.99 549.17v0.65M1043.31 607.24v1.4M1040.48 519.34v0.57M1059.4 542.53v1.44M1051.45 614.09v0.22M1045.88 506.75v1.64M1045.8 553.03v0.95M1036.91 600.99v1.26M1067.07 544.1v0.18M1044.21 575.51v1.71M1071.73 545.2v0.61M1057.81 632.69v1.32M1062.91 513.43v1.26M1051 622.54v1.75M1045.01 498.75v1.01M1041.02 536.29v0.3M1047.96 503.3v0.7M1074.61 513.75v1.48M1045.01 612.66v1.29M1067.62 609.18v0.88M1048.06 592.35v0.93M1063.98 514.2v0.09M1074.18 555.45v0.62M1058.85 565.48v0.2M1035.86 607.36v0.41M1058.9 602.91v1.23M1039.79 602.29v1.13M1048.67 507.69v1.24M1051.62 598.86v0.33M1046.16 525.96v1.5M1043.39 611.49v0.49M1037.46 590.64v0.03M1041.55 610.24v1.16M1075.83 495.21v1.01M1066.82 513.21v0.79M1038.82 555.14v0.41M1038.73 526.21v0.96M1044.6 524.74v0.11M1041.93 604.85v0.11M1070.84 630.59v1.28M1046.38 609.97v1.2M1041.46 503.13v0.13M1060.76 591.08v0.7M1071.55 548.01v0.78M1053.06 602.38v1.76M1049.11 632.04v0.48M1056.45 604.66v0.13M1045.09 532.26v0.02M1075.62 589.14v1.56M1051.2 523.16v0.01M1069.49 536.29v1.59M1057.13 539.68v0.18M1066.28 530.53v1.22M1053.48 568.19v1.16M1047.71 533.48v0.28M1038.42 626v0.52M1036.78 636.32v0.12M1055.36 593.47v1.37M1063.39 599.72v0.54M1072.7 587.6v0.11M1050.64 529.77v0.6M1044.92 508.45v0.18M1065.9 520.34v1.28M1047.65 601.87v0.34M1050.39 634.81v1.54M1062.74 627.78v0.85M1050.42 499.05v0.82M1061.09 634.49v1.26M1063.41 535.7v1.45M1045.03 550.69v1.37M1073.72 580.92v1.02M1038.19 555.48v0.69M1039.42 590v0.29M1051.06 530.88v1.61M1065.41 518.95v1.63M1075.56 602.79v1.64M1041.83 510.93v0.55M1052.83 542.2v0.79M1077.36 536.43v1.25M1039.48 544.17v1.3M1074.65 575.65v1.48M1075.67 544.57v1.09M1055.07 497.3v1.79M1064.42 512.42v0.07M1048.72 498.26v1.14M1072.05 623.89v1.72M1058.48 637.98v1.19M1046.22 591.45v0.9M1048.96 591.28v1.51M1077.4 633.22v0.97M1060.83 568.83v0.93M1075.14 583.35v1.23M1042.7 572.87v0.94M1045.2 497.95v1.66M1048.98 519.53v0.79M1070.49 517.97v1.56M1073.33 562.57v1.37M1068.17 547.62v0.97M1070.85 548.88v1.37M1056.46 524.59v1.14M1041.75 499.32v1.16M1057.17 567.19v1.29M1059.66 608.39v1.74M1052.6 514.66v0.82M1059.1 514.12v0.73M1070.66 519.95v0.95M1051.69 522.98v0.57M1051.81 528.62v0.16M1063.34 553.24v1.73M1050.77 575.81v0.82M1048.9 569.22v0.32M1043.94 556.25v0.9M1051.05 525.66v0M1039.5 635.16v1.49M1066.27 604.01v1.56M1048.93 637.27v1.21M1068.53 596.86v1.32M1053.03 635.58v1.46M1057.53 534.78v0.18M1071.62 578.9v1.51M1042.52 601.84v0.34M1035.88 568.3v1.63M1050.79 525.64v1.36M1062.98 603.43v1.61M1041.72 499.89v0.32M1040.13 520.17v0.3M1070.84 610.56v0.17M1051.44 577.4v1.39M1042.94 522.37v1.36M1067.65 624.66v0.15M1050.25 539.73v0.51M1059.15 509.05v1.57M1064.74 526.37v0.38M1037.11 572.21v0.98M1036.86 628.29v0.56M1040.23 582.93v0.11M1049.19 584.53v1.66M1042.05 558.5v1.01M1061.48 551.98v0.91M1041.07 574.2v1.49M1049.92 569.39v0.91M1074.82 501.17v0.86M1045.67 549.71v1.28M1059.24 496.45v0.68M1042.01 544.59v1.36M1050.51 566.85v1.08M1037.41 581.59v0.25M1041.02 603.26v0.68M1045.33 536.25v0.88M1063.36 573.85v1.14M1062.61 617.12v1.68M1076.12 531.17v1.13M1058.94 527.16v1.45M1074.26 512.74v1.21M1056.83 604.92v0.57M1039.8 613.12v0.46M1047.92 569.45v0.32M1035.83 608.72v0.8M1055.71 540.75v1.42M1059.32 561.07v1.31M1058.21 569.54v0.3M1075.86 587.31v1.54M1041.91 585.63v0.38M1068.47 554.49v0.22M1049.06 558.14v0.36M1050.55 524.55v0.94M1042.65 603.66v0.56M1071.99 520.83v0.59M1043.52 593.9v0.5M1043.5 627.71v0.11M1059.87 529.67v0.43M1068.5 535.03v0.3M1066.2 561.91v1.61M1075.07 629.52v0.24M1049.64 511.48v0.15M1048.26 493.36v0.03M1056.11 620.71v0.12M1071.97 502.52v0.9M1038.83 500.85v1.01M1042.62 559.95v1.28M1065.21 509.44v1M1069.45 525.16v1.65M1058.83 563.46v0.74M1071.76 503.88v1.23M1036.95 605.43v1.57M1062.79 577.41v1.36M1070.29 515.07v1.27M1056.03 621.8v0.47M1073.87 604.5v0.64M1075.1 557.67v0.07M1055.75 544.64v1.42M1072.83 557.54v1.61M1037.71 540.5v1.21M1047.2 574.52v1.08M1064.27 498.49v1.07M1039.7 544.63v1.32M1072.44 623.11v0.68M1071.83 612.33v0.61M1068.35 499.83v0.09M1040.09 550.01v1.42M1054.41 557.34v1.36M1071.25 516.39v0.93M1051.01 531.82v1.38M1071.75 561.22v1.66M1045.2 580.96v0.22M1046.45 603.25v0.55M1055.17 638.36v0.93M1060.2 540.29v0.69M1051.9 505.6v1.6M1062.19 568.29v1.57M1070.7 559.82v1.5M1049.68 627.4v1.48M1047.46 589.03v0.47M1041.82 517.78v1.03M1043.49 584.2v1.72M1051.21 568.48v1.01M1037.36 516.42v0.7M1073.59 529.93v0.5M1053.48 619.41v1.27M1077.4 549.83v0.48M1043.68 542.1v0.07M1044.56 523.91v1.77M1052.85 608.01v0.17M1056.98 527.63v1.43M1046.56 597.59v1.51M1057.52 595.29v1.57M1061.51 608.05v0.2M1063.13 626.41v1.31M1065.53 615.55v1.66M1048.54 528.43v0.84M1045.51 617.62v0.08M1040.54 546.82v1.26M1037.21 515.12v0.56M1058.99 632.97v1.34M1044.15 525.19v0.69M1037.39 596.18v1.09M1063.19 494.96v1.25M1054.51 608.3v0.57M1054.88 584.87v1.35M1057.12 539.05v0.4M1039.93 576.44v0.18M1048.2 605.21v0.21M1045.36 550.71v0.81M1071.05 601.5v0.87M1065.2 569.47v1.76M1040.21 538.6v1.71M1049.95 612.54v1.26M1068.46 564.57v1.54M1048.52 601.73v1.46M1063.19 576.92v0.42M1045.84 518.23v0.66M1065.65 576.85v1.66M1061.15 547.08v0.94M1050.72 553.4v0.91M1045.93 508.14v0.47M1037.47 613.15v0.85M1053.92 534.1v0.47M1076.94 521.99v1.76M1035.79 577.24v1.67M1057 634.05v0.99M1054.99 540.73v0.66M1062.93 495.63v0.23M1060.23 559.07v0.5M1075.5 506.77v1.57M1061.73 552.2v0.95M1053.25 514.63v0.08M1066.08 630.68v1.1M1064.56 528.7v0.22M1056.21 497.54v1.48M1059.9 509.16v1.07M1060.8 517.87v1.69M1035.66 531.03v1.33M1043.86 569.87v0.51M1060.46 499.37v1.11M1052.26 529.56v1.44M1044.06 585.32v1.45M1040.81 524.12v1.06M1047.85 497.18v1.4M1056.12 526.39v1.64M1065.91 524.46v1.43M1073.77 495.17v1.05M1036.65 503.46v0.86M1041.75 571.67v1.1M1075.55 577.92v1.66M1059.33 514.18v0.93M1036.64 558.01v0.84M1071.72 493.19v0.61M1062.71 532.85v0.16M1048.4 626.09v1.72M1038.46 600.57v0.9M1049.81 530.65v1.71M1058.22 584.04v0.67M1061.6 615.13v1.01M1047.2 498.15v0.38M1056.16 587.88v1.28M1061.87 564.8v1.47M1056.99 516.49v1.11M1036.06 581.34v0.13M1047.21 616.28v0.11M1041.39 528.59v1.8M1062.13 526.7v1.5M1071.1 538.37v1.44M1041.68 559.19v0.51M1067.13 560.44v0.09M1043.74 609.99v0.04M1052.9 521.39v1.42M1050.57 565.61v1.29M1046.74 580.89v0.99M1073.07 592.24v1.73M1053.09 537.66v0.82M1074.08 576.01v0.93M1051.39 541.43v1.12M1066.76 501.44v0.11M1040.03 543.16v1.69M1075.02 609.04v1.02M1058.81 504.92v1.38M1073.93 617.58v0.48M1057.77 503.79v1.61M1068.77 539.41v1.55M1055.8 573.87v1.21M1065.47 506v0.33M1054.64 499.09v1.37M1050.38 541.04v1.06M1047.52 514v0.07M1064.5 529.49v1.12M1059.3 616.72v1.37M1042.52 627.95v1.58M1039.09 568.42v0.94M1052.36 560.77v0.82M1063.73 606.79v1.74M1070.92 590.29v1.48M1075.96 509.94v1.67M1073.95 593.57v0.12M1055.81 626.09v0.53M1058.75 502.89v1.09M1040.91 627.04v1.24M1045.98 507.54v1.16M1065.57 547.93v1.51M1039.49 584.44v1.4M1058.43 494.38v0.26M1063.9 549.98v0.11M1070.54 595.9v1.13M1075.58 620.49v0.25M1053.68 493.36v1.68M1037.55 632.28v0.34M1043.76 628.1v0.83M1076.42 532.34v1.33M1059.48 539.83v1.2M1039.79 506.77v1.55M1039.9 567.69v1.14M1035.9 519.4v1.11M1061.58 529.17v1.51M1062.06 561.01v0.16M1052.91 637.19v0.13M1054.53 543.57v0.71M1065.15 571.24v1.06M1036.06 501.69v0.01M1058.76 542.75v1.21M1066.5 600.82v0.46M1047.13 517.2v1.18M1077.15 615.75v1.36M1044.02 545.75v1.8M1069.99 518.9v0.63M1060.54 570.01v1.21M1063 590.19v0.15M1069.24 531.37v0.27M1054.1 538.68v0.38M1075.42 557.91v1.06M1065.34 569.34v0.06M1037.58 574.17v0.08M1055.77 614.53v0.26M1048.8 570.6v0.8M1076.21 603.52v0.29M1043.48 605.82v1.74M1058.37 622.62v0.28M1076.83 544.75v0.07M1073.24 624.16v1.23M1048.6 619.24v1.04M1037.16 493.38v1.45M1077.29 600.7v0.2M1036.14 605.61v0.92M1042.58 544.1v0.88M1061.79 494.75v0.47M1055.44 529.93v1.59M1072.29 589.97v0.05M1063.54 620.91v0.91M1060.51 556.02v0.2M1062.22 614.5v0.42M1042.37 540.25v0.27M1055.5 605.74v1.22M1076.24 526.36v0.03M1046.11 579.3v0.27M1041.14 635.26v1.34M1040.52 606.13v1.42M1036.29 617.49v1.18M1059.7 634.53v1.34M1038.38 574.87v1.6M1062.57 503.56v1.56M1069.2 602.33v0.22M1077.28 590.48v1.39M1037.49 508.83v0.42M1050.24 606.97v1.36M1039.65 598.09v0.31M1058.17 537.09v0.43M1070.97 524.68v0.1M1061.6 594.68v1.55M1065.48 626.08v1.32M1063.56 633.22v1.17M1075.63 605.73v0.49M1038.01 497.55v1.28M1066.52 549.2v1.79M1055.89 516.18v1.13M1066.04 529.03v0.58M1036.16 550.41v0.39M1039.6 528v0.89M1069.56 542.09v0.31M1055.2 613.69v0.9M1075.82 593.49v0.11M1054.4 558.87v0.8" stroke="#b27c26" stroke-width="1.3" stroke-linecap="round" fill="none"/><rect x="1034.7" y="493" width="43.6" height="145.4" fill="url(#edgeg)"/></g><clipPath id="lc32"><rect x="1093.9" y="493" width="32.1" height="145.4"/></clipPath><g clip-path="url(#lc32)"><rect x="1093.9" y="493" width="32.1" height="145.4" fill="#74a670"/><rect x="1093.9" y="493" width="32.1" height="145.4" fill="url(#cbrg)"/><rect x="1093.9" y="493" width="32.1" height="145.4" filter="url(#f56)" opacity="0.85"/><rect x="1093.9" y="493" width="32.1" height="145.4" filter="url(#f57)"/><rect x="1093.9" y="493" width="32.1" height="145.4" fill="url(#vein)"/><rect x="1093.9" y="493" width="32.1" height="145.4" filter="url(#f15)"/><rect x="1093.9" y="493" width="32.1" height="145.4" filter="url(#f16)"/><rect x="1093.9" y="493" width="32.1" height="145.4" fill="url(#edgeg)"/></g><text x="-1" y="671.7" font-size="20.5" textLength="17.49" lengthAdjust="spacingAndGlyphs" stroke="#231815">H</text><path d="M504.8 703C507.7 706.02 514.6 716.2 522.2 721.1C529.8 726 541.02 728.88 550.4 732.4C559.78 735.92 569.12 739.15 578.5 742.2C587.88 745.25 597.32 747.65 606.7 750.7C616.08 753.75 626.83 757.22 634.8 760.5C642.77 763.78 649.33 766.88 654.5 770.4C659.67 773.92 663.55 778 665.8 781.6C668.05 785.2 667.63 790.27 668 792L779.7 792C779.47 790.27 779.47 785.2 778.3 781.6C777.13 778 775.5 774.62 772.7 770.4C769.9 766.18 765.25 760.53 761.5 756.3C757.75 752.07 753.95 749.22 750.2 745C746.45 740.78 742.75 735.68 739 731C735.25 726.32 730.2 721.57 727.7 716.9C725.2 712.23 724.62 705.32 724 703Z" fill="#b8d7a8"/><path d="M504.8 703C507.7 706.02 514.6 716.2 522.2 721.1C529.8 726 541.02 728.88 550.4 732.4C559.78 735.92 569.12 739.15 578.5 742.2C587.88 745.25 597.32 747.65 606.7 750.7C616.08 753.75 626.83 757.22 634.8 760.5C642.77 763.78 649.33 766.88 654.5 770.4C659.67 773.92 663.55 778 665.8 781.6C668.05 785.2 667.63 790.27 668 792M724 703C724.62 705.32 725.2 712.23 727.7 716.9C730.2 721.57 735.25 726.32 739 731C742.75 735.68 746.45 740.78 750.2 745C753.95 749.22 757.75 752.07 761.5 756.3C765.25 760.53 769.9 766.18 772.7 770.4C775.5 774.62 777.13 778 778.3 781.6C779.47 785.2 779.47 790.27 779.7 792" fill="none" stroke="#111" stroke-width="1.1" stroke-dasharray="3.2 2.2"/><path d="M418.2 793C417.37 796.15 415.92 806.4 413.2 811.9C410.48 817.4 406.6 820.85 401.9 826C397.2 831.15 390.15 837.18 385 842.8C379.85 848.42 374.28 854.77 371 859.7C367.72 864.63 366.33 869.02 365.3 872.4C364.27 875.78 364.88 878.73 364.8 880L566.6 880C566.83 878.5 566.37 874.38 568 871C569.63 867.62 572.18 863.92 576.4 859.7C580.62 855.48 585.78 850.85 593.3 845.7C600.82 840.55 613.05 834.43 621.5 828.8C629.95 823.17 639.08 817.87 644 811.9C648.92 805.93 649.83 796.15 651 793Z" fill="#d2e8e2"/><path d="M418.2 793C417.37 796.15 415.92 806.4 413.2 811.9C410.48 817.4 406.6 820.85 401.9 826C397.2 831.15 390.15 837.18 385 842.8C379.85 848.42 374.28 854.77 371 859.7C367.72 864.63 366.33 869.02 365.3 872.4C364.27 875.78 364.88 878.73 364.8 880M651 793C649.83 796.15 648.92 805.93 644 811.9C639.08 817.87 629.95 823.17 621.5 828.8C613.05 834.43 600.82 840.55 593.3 845.7C585.78 850.85 580.62 855.48 576.4 859.7C572.18 863.92 569.63 867.62 568 871C566.37 874.38 566.83 878.5 566.6 880" fill="none" stroke="#111" stroke-width="1.1" stroke-dasharray="3.2 2.2"/><path d="M671.1 793C669.87 796.2 667.38 806.53 663.7 812.2C660.02 817.87 654.75 821.67 649 827C643.25 832.33 635.37 838.87 629.2 844.2C623.03 849.53 616.1 855.1 612 859C607.9 862.9 606.03 864.1 604.6 867.6C603.17 871.1 603.6 877.93 603.4 880L820.5 880C820.42 878.55 820.68 874.8 820 871.3C819.32 867.8 818.65 863.52 816.4 859C814.15 854.48 810.2 849.53 806.5 844.2C802.8 838.87 797.88 832.73 794.2 827C790.52 821.27 786.85 815.47 784.4 809.8C781.95 804.13 780.32 795.8 779.5 793Z" fill="#b8d7a8"/><path d="M671.1 793C669.87 796.2 667.38 806.53 663.7 812.2C660.02 817.87 654.75 821.67 649 827C643.25 832.33 635.37 838.87 629.2 844.2C623.03 849.53 616.1 855.1 612 859C607.9 862.9 606.03 864.1 604.6 867.6C603.17 871.1 603.6 877.93 603.4 880M779.5 793C780.32 795.8 781.95 804.13 784.4 809.8C786.85 815.47 790.52 821.27 794.2 827C797.88 832.73 802.8 838.87 806.5 844.2C810.2 849.53 814.15 854.48 816.4 859C818.65 863.52 819.32 867.8 820 871.3C820.68 874.8 820.42 878.55 820.5 880" fill="none" stroke="#111" stroke-width="1.1" stroke-dasharray="3.2 2.2"/><path d="M364.6 880C365.02 881.23 364.63 884.12 367.1 887.4C369.57 890.68 373.65 894.78 379.4 899.7C385.15 904.62 393.8 911.15 401.6 916.9C409.4 922.65 419.23 928.87 426.2 934.2C433.17 939.53 439.3 944.8 443.4 948.9C447.5 953 449.45 955.78 450.8 958.8C452.15 961.82 451.38 965.63 451.5 967L463.8 967C463.9 965.63 463.28 961.82 464.4 958.8C465.52 955.78 466.62 953 470.5 948.9C474.38 944.8 480.72 939.12 487.7 934.2C494.68 929.28 504.18 923.92 512.4 919.4C520.62 914.88 529.62 911.2 537 907.1C544.38 903 551.87 899.32 556.7 894.8C561.53 890.28 564.45 882.47 566 880Z" fill="#d2e8e2"/><path d="M364.6 880C365.02 881.23 364.63 884.12 367.1 887.4C369.57 890.68 373.65 894.78 379.4 899.7C385.15 904.62 393.8 911.15 401.6 916.9C409.4 922.65 419.23 928.87 426.2 934.2C433.17 939.53 439.3 944.8 443.4 948.9C447.5 953 449.45 955.78 450.8 958.8C452.15 961.82 451.38 965.63 451.5 967M566 880C564.45 882.47 561.53 890.28 556.7 894.8C551.87 899.32 544.38 903 537 907.1C529.62 911.2 520.62 914.88 512.4 919.4C504.18 923.92 494.68 929.28 487.7 934.2C480.72 939.12 474.38 944.8 470.5 948.9C466.62 953 465.52 955.78 464.4 958.8C463.28 961.82 463.9 965.63 463.8 967" fill="none" stroke="#111" stroke-width="1.1" stroke-dasharray="3.2 2.2"/><path d="M598 880C596.03 882.87 592.27 891.45 586.2 897.2C580.13 902.95 570.62 908.75 561.6 914.5C552.58 920.25 540.72 926.78 532.1 931.7C523.48 936.62 515.45 940.3 509.9 944C504.35 947.7 500.85 950.07 498.8 953.9C496.75 957.73 497.8 964.82 497.6 967L721 967C722.42 964.23 725.27 955.05 729.5 950.4C733.73 945.75 739.83 942.87 746.4 939.1C752.97 935.33 761.4 932.02 768.9 927.8C776.4 923.58 784.83 918.95 791.4 913.8C797.97 908.65 803.53 902.53 808.3 896.9C813.07 891.27 818.05 882.82 820 880Z" fill="#b8d7a8"/><path d="M598 880C596.03 882.87 592.27 891.45 586.2 897.2C580.13 902.95 570.62 908.75 561.6 914.5C552.58 920.25 540.72 926.78 532.1 931.7C523.48 936.62 515.45 940.3 509.9 944C504.35 947.7 500.85 950.07 498.8 953.9C496.75 957.73 497.8 964.82 497.6 967M820 880C818.05 882.82 813.07 891.27 808.3 896.9C803.53 902.53 797.97 908.65 791.4 913.8C784.83 918.95 776.4 923.58 768.9 927.8C761.4 932.02 752.97 935.33 746.4 939.1C739.83 942.87 733.73 945.75 729.5 950.4C725.27 955.05 722.42 964.23 721 967" fill="none" stroke="#111" stroke-width="1.1" stroke-dasharray="3.2 2.2"/><path d="M453.5 967C453.75 968.13 453.73 971.2 455 973.8C456.27 976.4 457.73 979.67 461.1 982.6C464.47 985.53 468.45 987.88 475.2 991.4C481.95 994.92 492.8 999.6 501.6 1003.7C510.4 1007.8 519.22 1012.18 528 1016C536.78 1019.82 547.27 1023.37 554.3 1026.6C561.33 1029.83 566.38 1032.18 570.2 1035.4C574.02 1038.62 575.9 1042.47 577.2 1045.9C578.5 1049.33 577.87 1054.32 578 1056L594.8 1056C594.65 1054.03 595.37 1047.63 593.9 1044.2C592.43 1040.77 591.13 1038.93 586 1035.4C580.87 1031.87 571.32 1026.82 563.1 1023C554.88 1019.18 545.48 1016.3 536.7 1012.5C527.92 1008.7 519.18 1004.3 510.4 1000.2C501.62 996.1 490.75 991.13 484 987.9C477.25 984.67 473.28 983.15 469.9 980.8C466.52 978.45 464.35 976.1 463.7 973.8C463.05 971.5 465.62 968.13 466 967Z" fill="#d2e8e2"/><path d="M453.5 967C453.75 968.13 453.73 971.2 455 973.8C456.27 976.4 457.73 979.67 461.1 982.6C464.47 985.53 468.45 987.88 475.2 991.4C481.95 994.92 492.8 999.6 501.6 1003.7C510.4 1007.8 519.22 1012.18 528 1016C536.78 1019.82 547.27 1023.37 554.3 1026.6C561.33 1029.83 566.38 1032.18 570.2 1035.4C574.02 1038.62 575.9 1042.47 577.2 1045.9C578.5 1049.33 577.87 1054.32 578 1056M466 967C465.62 968.13 463.05 971.5 463.7 973.8C464.35 976.1 466.52 978.45 469.9 980.8C473.28 983.15 477.25 984.67 484 987.9C490.75 991.13 501.62 996.1 510.4 1000.2C519.18 1004.3 527.92 1008.7 536.7 1012.5C545.48 1016.3 554.88 1019.18 563.1 1023C571.32 1026.82 580.87 1031.87 586 1035.4C591.13 1038.93 592.43 1040.77 593.9 1044.2C595.37 1047.63 594.65 1054.03 594.8 1056" fill="none" stroke="#111" stroke-width="1.1" stroke-dasharray="3.2 2.2"/><path d="M497 967C497.62 967.98 498.47 970.3 500.7 972.9C502.93 975.5 505.85 978.93 510.4 982.6C514.95 986.27 520.68 990.8 528 994.9C535.32 999 545.52 1003.38 554.3 1007.2C563.08 1011.02 571.9 1013.98 580.7 1017.8C589.5 1021.62 600.07 1026.3 607.1 1030.1C614.13 1033.9 619.23 1037.52 622.9 1040.6C626.57 1043.68 627.92 1046.03 629.1 1048.6C630.28 1051.17 629.85 1054.77 630 1056L632 1056C632.55 1053.5 632.63 1045.62 635.3 1041C637.97 1036.38 640.6 1034.1 648 1028.3C655.4 1022.5 670.2 1013.05 679.7 1006.2C689.2 999.35 698.12 993.73 705 987.2C711.88 980.67 718.33 970.37 721 967Z" fill="#b8d7a8"/><path d="M497 967C497.62 967.98 498.47 970.3 500.7 972.9C502.93 975.5 505.85 978.93 510.4 982.6C514.95 986.27 520.68 990.8 528 994.9C535.32 999 545.52 1003.38 554.3 1007.2C563.08 1011.02 571.9 1013.98 580.7 1017.8C589.5 1021.62 600.07 1026.3 607.1 1030.1C614.13 1033.9 619.23 1037.52 622.9 1040.6C626.57 1043.68 627.92 1046.03 629.1 1048.6C630.28 1051.17 629.85 1054.77 630 1056M721 967C718.33 970.37 711.88 980.67 705 987.2C698.12 993.73 689.2 999.35 679.7 1006.2C670.2 1013.05 655.4 1022.5 648 1028.3C640.6 1034.1 637.97 1036.38 635.3 1041C632.63 1045.62 632.55 1053.5 632 1056" fill="none" stroke="#111" stroke-width="1.1" stroke-dasharray="3.2 2.2"/><path d="M576.3 1056C576.3 1056.87 579.12 1058.93 576.3 1061.2C573.48 1063.47 567.48 1066.62 559.4 1069.6C551.32 1072.58 540.12 1076.12 527.8 1079.1C515.48 1082.08 499.58 1084.68 485.5 1087.5C471.42 1090.32 454.22 1093.6 443.3 1096C432.38 1098.4 432.57 1099.08 420 1101.9C407.43 1104.72 383.92 1109.42 367.9 1112.9C351.88 1116.38 338.57 1119.5 323.9 1122.8C309.23 1126.1 292.72 1129.77 279.9 1132.7C267.08 1135.63 256.15 1138.2 247 1140.4C237.85 1142.6 230.68 1144.07 225 1145.9C219.32 1147.73 215.23 1149.38 212.9 1151.4C210.57 1153.42 211.32 1156.9 211 1158L244 1158C244.32 1156.9 242.85 1153.6 245.9 1151.4C248.95 1149.2 254.8 1147.37 262.3 1144.8C269.8 1142.23 280.63 1138.93 290.9 1136C301.17 1133.07 311.07 1130.32 323.9 1127.2C336.73 1124.08 351.88 1120.78 367.9 1117.3C383.92 1113.82 403.92 1109.5 420 1106.3C436.08 1103.1 449.97 1100.87 464.4 1098.1C478.83 1095.33 492.52 1092.52 506.6 1089.7C520.68 1086.88 536.58 1084.37 548.9 1081.2C561.22 1078.03 572.77 1074.03 580.5 1070.7C588.23 1067.37 592.83 1063.65 595.3 1061.2C597.77 1058.75 595.3 1056.87 595.3 1056Z" fill="#d2e8e2"/><path d="M576.3 1056C576.3 1056.87 579.12 1058.93 576.3 1061.2C573.48 1063.47 567.48 1066.62 559.4 1069.6C551.32 1072.58 540.12 1076.12 527.8 1079.1C515.48 1082.08 499.58 1084.68 485.5 1087.5C471.42 1090.32 454.22 1093.6 443.3 1096C432.38 1098.4 432.57 1099.08 420 1101.9C407.43 1104.72 383.92 1109.42 367.9 1112.9C351.88 1116.38 338.57 1119.5 323.9 1122.8C309.23 1126.1 292.72 1129.77 279.9 1132.7C267.08 1135.63 256.15 1138.2 247 1140.4C237.85 1142.6 230.68 1144.07 225 1145.9C219.32 1147.73 215.23 1149.38 212.9 1151.4C210.57 1153.42 211.32 1156.9 211 1158M595.3 1056C595.3 1056.87 597.77 1058.75 595.3 1061.2C592.83 1063.65 588.23 1067.37 580.5 1070.7C572.77 1074.03 561.22 1078.03 548.9 1081.2C536.58 1084.37 520.68 1086.88 506.6 1089.7C492.52 1092.52 478.83 1095.33 464.4 1098.1C449.97 1100.87 436.08 1103.1 420 1106.3C403.92 1109.5 383.92 1113.82 367.9 1117.3C351.88 1120.78 336.73 1124.08 323.9 1127.2C311.07 1130.32 301.17 1133.07 290.9 1136C280.63 1138.93 269.8 1142.23 262.3 1144.8C254.8 1147.37 248.95 1149.2 245.9 1151.4C242.85 1153.6 244.32 1156.9 244 1158" fill="none" stroke="#111" stroke-width="1.1" stroke-dasharray="3.2 2.2"/><path d="M628 1056C626.67 1057.38 626.17 1061.15 620 1064.3C613.83 1067.45 602.85 1071.38 591 1074.9C579.15 1078.42 562.97 1082.07 548.9 1085.4C534.83 1088.73 520.68 1091.8 506.6 1094.9C492.52 1098 478.83 1101 464.4 1104C449.97 1107 434.25 1110.13 420 1112.9C405.75 1115.67 391.25 1118.03 378.9 1120.6C366.55 1123.17 356.9 1125.37 345.9 1128.3C334.9 1131.23 321.7 1135.27 312.9 1138.2C304.1 1141.13 297.87 1143.7 293.1 1145.9C288.33 1148.1 286.15 1149.38 284.3 1151.4C282.45 1153.42 282.38 1156.9 282 1158L1013.4 1158C1010.43 1155.05 1007.48 1145.38 995.6 1140.3C983.72 1135.22 962.78 1131.78 942.1 1127.5C921.42 1123.22 888.98 1117.68 871.5 1114.6C854.02 1111.52 848.63 1110.88 837.2 1109C825.77 1107.12 814.33 1105.2 802.9 1103.3C791.47 1101.4 780.03 1099.7 768.6 1097.6C757.17 1095.5 745.73 1093.18 734.3 1090.7C722.87 1088.22 709.52 1084.98 700 1082.7C690.48 1080.42 684.82 1079.08 677.2 1077C669.58 1074.92 661.55 1072.67 654.3 1070.2C647.05 1067.73 637.13 1064.57 633.7 1062.2C630.27 1059.83 633.7 1057.03 633.7 1056Z" fill="#b8d7a8"/><path d="M628 1056C626.67 1057.38 626.17 1061.15 620 1064.3C613.83 1067.45 602.85 1071.38 591 1074.9C579.15 1078.42 562.97 1082.07 548.9 1085.4C534.83 1088.73 520.68 1091.8 506.6 1094.9C492.52 1098 478.83 1101 464.4 1104C449.97 1107 434.25 1110.13 420 1112.9C405.75 1115.67 391.25 1118.03 378.9 1120.6C366.55 1123.17 356.9 1125.37 345.9 1128.3C334.9 1131.23 321.7 1135.27 312.9 1138.2C304.1 1141.13 297.87 1143.7 293.1 1145.9C288.33 1148.1 286.15 1149.38 284.3 1151.4C282.45 1153.42 282.38 1156.9 282 1158M633.7 1056C633.7 1057.03 630.27 1059.83 633.7 1062.2C637.13 1064.57 647.05 1067.73 654.3 1070.2C661.55 1072.67 669.58 1074.92 677.2 1077C684.82 1079.08 690.48 1080.42 700 1082.7C709.52 1084.98 722.87 1088.22 734.3 1090.7C745.73 1093.18 757.17 1095.5 768.6 1097.6C780.03 1099.7 791.47 1101.4 802.9 1103.3C814.33 1105.2 825.77 1107.12 837.2 1109C848.63 1110.88 854.02 1111.52 871.5 1114.6C888.98 1117.68 921.42 1123.22 942.1 1127.5C962.78 1131.78 983.72 1135.22 995.6 1140.3C1007.48 1145.38 1010.43 1155.05 1013.4 1158" fill="none" stroke="#111" stroke-width="1.1" stroke-dasharray="3.2 2.2"/><path d="M210.8 1158C211.8 1163.32 214.8 1179.6 216.8 1189.9C218.8 1200.2 221.05 1209.83 222.8 1219.8C224.55 1229.77 226.3 1240 227.3 1249.7C228.3 1259.4 228.55 1273.28 228.8 1278L345.4 1278C344.9 1274.78 344.88 1264.42 342.4 1258.7C339.92 1252.98 336.98 1249.68 330.5 1243.7C324.02 1237.72 312.98 1230.27 303.5 1222.8C294.02 1215.33 282.57 1206.38 273.6 1198.9C264.63 1191.42 254.93 1184.72 249.7 1177.9C244.47 1171.08 243.45 1161.32 242.2 1158Z" fill="#d2e8e2"/><path d="M210.8 1158C211.8 1163.32 214.8 1179.6 216.8 1189.9C218.8 1200.2 221.05 1209.83 222.8 1219.8C224.55 1229.77 226.3 1240 227.3 1249.7C228.3 1259.4 228.55 1273.28 228.8 1278M242.2 1158C243.45 1161.32 244.47 1171.08 249.7 1177.9C254.93 1184.72 264.63 1191.42 273.6 1198.9C282.57 1206.38 294.02 1215.33 303.5 1222.8C312.98 1230.27 324.02 1237.72 330.5 1243.7C336.98 1249.68 339.92 1252.98 342.4 1258.7C344.88 1264.42 344.9 1274.78 345.4 1278" fill="none" stroke="#111" stroke-width="1.1" stroke-dasharray="3.2 2.2"/><path d="M281.1 1158C281.85 1160.83 281.87 1168.18 285.6 1175C289.33 1181.82 296.52 1190.93 303.5 1198.9C310.48 1206.87 320.02 1215.33 327.5 1222.8C334.98 1230.27 343.42 1237.72 348.4 1243.7C353.38 1249.68 355.4 1252.98 357.4 1258.7C359.4 1264.42 359.9 1274.78 360.4 1278L1044.9 1278C1044.55 1272.93 1044.02 1256.15 1042.8 1247.6C1041.58 1239.05 1039.87 1234.35 1037.6 1226.7C1035.33 1219.05 1031.63 1209.35 1029.2 1201.7C1026.77 1194.05 1024.38 1188.08 1023 1180.8C1021.62 1173.52 1021.25 1161.8 1020.9 1158Z" fill="#b8d7a8"/><path d="M281.1 1158C281.85 1160.83 281.87 1168.18 285.6 1175C289.33 1181.82 296.52 1190.93 303.5 1198.9C310.48 1206.87 320.02 1215.33 327.5 1222.8C334.98 1230.27 343.42 1237.72 348.4 1243.7C353.38 1249.68 355.4 1252.98 357.4 1258.7C359.4 1264.42 359.9 1274.78 360.4 1278M1020.9 1158C1021.25 1161.8 1021.62 1173.52 1023 1180.8C1024.38 1188.08 1026.77 1194.05 1029.2 1201.7C1031.63 1209.35 1035.33 1219.05 1037.6 1226.7C1039.87 1234.35 1041.58 1239.05 1042.8 1247.6C1044.02 1256.15 1044.55 1272.93 1044.9 1278" fill="none" stroke="#111" stroke-width="1.1" stroke-dasharray="3.2 2.2"/><path d="M484.6 706C484.58 706.67 485.22 708.02 484.5 710C483.78 711.98 482.77 715 480.3 717.9C477.83 720.8 474.1 724.23 469.7 727.4C465.3 730.57 460.05 733.02 453.9 736.9C447.75 740.78 439.83 745.95 432.8 750.7C425.77 755.45 417.33 761.18 411.7 765.4C406.07 769.62 401.82 772.83 399 776C396.18 779.17 395.55 782.07 394.8 784.4C394.05 786.73 394.55 789.07 394.5 790" fill="none" stroke="#000" stroke-width="1.0"/><path d="M745.6 706C745.62 706.5 744.93 707.65 745.7 709C746.47 710.35 747.57 711.85 750.2 714.1C752.83 716.35 756.82 719.68 761.5 722.5C766.18 725.32 771.88 727.72 778.3 731C784.72 734.28 793.95 738.93 800 742.2C806.05 745.47 806.53 746.38 814.6 750.6C822.67 754.82 840.5 762.6 848.4 767.5C856.3 772.4 859.2 776.25 862 780C864.8 783.75 864.67 788.33 865.2 790" fill="none" stroke="#000" stroke-width="1.0"/><path d="M390.3 795C386.42 799 376.68 810.17 367 819C357.32 827.83 341.37 839.33 332.2 848C323.03 856.67 316.25 865.3 312 871C307.75 876.7 307.2 878.28 306.7 882.2C306.2 886.12 308.18 891.53 309 894.5C309.82 897.47 308.27 895.87 311.6 900C314.93 904.13 321.27 911.88 329 919.3C336.73 926.72 348.32 937.07 358 944.5C367.68 951.93 377.42 957.77 387.1 963.9C396.78 970.03 406.43 975.83 416.1 981.3C425.77 986.77 435.42 991.22 445.1 996.7C454.78 1002.18 466.83 1009.22 474.2 1014.2C481.57 1019.18 485.33 1022.2 489.3 1026.6C493.27 1031 495.98 1036.12 498 1040.6C500.02 1045.08 501.53 1049.55 501.4 1053.5C501.27 1057.45 499.85 1061.08 497.2 1064.3C494.55 1067.52 490.97 1069.98 485.5 1072.8C480.03 1075.62 473.18 1078.55 464.4 1081.2C455.62 1083.85 443.35 1086.23 432.8 1088.7C422.25 1091.17 411.92 1093.62 401.1 1096C390.28 1098.38 380.77 1100.18 367.9 1103C355.03 1105.82 338.57 1109.42 323.9 1112.9C309.23 1116.38 294.55 1120.05 279.9 1123.9C265.25 1127.75 247.72 1132.52 236 1136C224.28 1139.48 216.93 1141.97 209.6 1144.8C202.27 1147.63 194.93 1151.63 192 1153" fill="none" stroke="#000" stroke-width="1.0"/><path d="M872 795C873.95 799 879.33 810.17 883.7 819C888.07 827.83 894.82 838.33 898.2 848C901.58 857.67 903.03 872.17 904 877" fill="none" stroke="#000" stroke-width="1.0"/><path d="M902.6 884C900.95 885.68 898.57 890.08 892.7 894.1C886.83 898.12 878.65 902.48 867.4 908.1C856.15 913.72 837.87 921.7 825.2 927.8C812.53 933.9 799.85 940.23 791.4 944.7C782.95 949.17 778.73 951.38 774.5 954.6C770.27 957.82 767.42 962.43 766 964" fill="none" stroke="#000" stroke-width="1.0"/><path d="M765.2 969C763.08 972.03 759.9 981.53 752.5 987.2C745.1 992.87 734 996.67 720.8 1003C707.6 1009.33 684.9 1018.87 673.3 1025.2C661.7 1031.53 655.95 1036.53 651.2 1041C646.45 1045.47 645.87 1050.17 644.8 1052" fill="none" stroke="#000" stroke-width="1.0"/><path d="M651.5 1059C653.87 1060.28 659.52 1064.47 665.7 1066.7C671.88 1068.93 679.07 1070.3 688.6 1072.4C698.13 1074.5 711.47 1077 722.9 1079.3C734.33 1081.6 745.77 1084.1 757.2 1086.2C768.63 1088.3 780.07 1090 791.5 1091.9C802.93 1093.8 812.47 1095.32 825.8 1097.6C839.13 1099.88 859.55 1103.48 871.5 1105.6C883.45 1107.72 874.58 1106.37 897.5 1110.3C920.42 1114.23 979.28 1124.2 1009 1129.2C1038.72 1134.2 1060.2 1136 1075.8 1140.3C1091.4 1144.6 1098.13 1152.55 1102.6 1155" fill="none" stroke="#000" stroke-width="1.0"/><path d="M188.4 1160C189.15 1165.98 190.9 1183.43 192.9 1195.9C194.9 1208.37 198.3 1221.78 200.4 1234.8C202.5 1247.82 204.65 1267.47 205.5 1274" fill="none" stroke="#000" stroke-width="1.0"/><path d="M1109.5 1160C1108.98 1165.22 1108.32 1181.57 1106.4 1191.3C1104.48 1201.03 1101.13 1209.72 1098 1218.4C1094.87 1227.08 1090.37 1234.13 1087.6 1243.4C1084.83 1252.67 1082.43 1268.9 1081.4 1274" fill="none" stroke="#000" stroke-width="1.0"/><path d="M629 706C629.02 706.72 628.57 708.52 629.1 710.3C629.63 712.08 630.35 714.32 632.2 716.7C634.05 719.08 637.03 721.97 640.2 724.6C643.37 727.23 646.47 729.93 651.2 732.5C655.93 735.07 659.6 736.03 668.6 740C677.6 743.97 694.42 751.23 705.2 756.3C715.98 761.37 725.8 765.45 733.3 770.4C740.8 775.35 747.38 783.4 750.2 786" fill="none" stroke="#1d3a9a" stroke-width="1.1"/><path d="M749.9 800C747.85 802.45 742.93 810.4 737.6 814.7C732.27 819 726.52 821.28 717.9 825.8C709.28 830.32 696.57 836.27 685.9 841.8C675.23 847.33 661.7 853.72 653.9 859C646.1 864.28 641.57 871.08 639.1 873.5" fill="none" stroke="#1d3a9a" stroke-width="1.1"/><path d="M473.8 702.6H753.2" stroke="#a8a8a8" stroke-width="7.4" stroke-linecap="round"/><path d="M488.1 695.4L481.2 695.4L476.2 702.6L481.2 709.8L488.1 709.8Z" fill="#0a0a0a" stroke="#0a0a0a" stroke-width="1.0" stroke-linejoin="miter"/><path d="M500.5 695.4L504.7 695.4L511 702.6L504.7 709.8L500.5 709.8Z" fill="#6ab132" stroke="#231815" stroke-width="1.0" stroke-linejoin="miter"/><path d="M512.8 695.4L517.56 695.4L524.7 702.6L517.56 709.8L512.8 709.8Z" fill="#6ab132" stroke="#231815" stroke-width="1.0" stroke-linejoin="miter"/><path d="M546 695.4L540.2 695.4L536 702.6L540.2 709.8L546 709.8Z" fill="#0a0a0a" stroke="#0a0a0a" stroke-width="1.0" stroke-linejoin="miter"/><path d="M545.8 695.4L550.32 695.4L557.1 702.6L550.32 709.8L545.8 709.8Z" fill="#6ab132" stroke="#231815" stroke-width="1.0" stroke-linejoin="miter"/><path d="M558.5 695.4L562.18 695.4L567.7 702.6L562.18 709.8L558.5 709.8Z" fill="#6ab132" stroke="#231815" stroke-width="1.0" stroke-linejoin="miter"/><path d="M570.5 695.4L574.98 695.4L581.7 702.6L574.98 709.8L570.5 709.8Z" fill="#6ab132" stroke="#231815" stroke-width="1.15" stroke-linejoin="miter" stroke-dasharray="1.8 1.3"/><path d="M585.7 695.4L591.58 695.4L600.4 702.6L591.58 709.8L585.7 709.8Z" fill="#6ab132" stroke="#231815" stroke-width="1.0" stroke-linejoin="miter"/><path d="M606.4 695.4L610.88 695.4L617.6 702.6L610.88 709.8L606.4 709.8Z" fill="#6ab132" stroke="#231815" stroke-width="1.15" stroke-linejoin="miter" stroke-dasharray="1.8 1.3"/><path d="M624.6 695.4L630.24 695.4L638.7 702.6L630.24 709.8L624.6 709.8Z" fill="#6ab132" stroke="#1d3a9a" stroke-width="1.6" stroke-linejoin="miter"/><path d="M642.9 695.4L647.42 695.4L654.2 702.6L647.42 709.8L642.9 709.8Z" fill="#6ab132" stroke="#231815" stroke-width="1.15" stroke-linejoin="miter" stroke-dasharray="1.8 1.3"/><path d="M662.3 695.4L666.54 695.4L672.9 702.6L666.54 709.8L662.3 709.8Z" fill="#6ab132" stroke="#231815" stroke-width="1.0" stroke-linejoin="miter"/><path d="M682.3 695.4L686.26 695.4L692.2 702.6L686.26 709.8L682.3 709.8Z" fill="#6ab132" stroke="#231815" stroke-width="1.15" stroke-linejoin="miter" stroke-dasharray="1.8 1.3"/><path d="M692.9 695.4L697.38 695.4L704.1 702.6L697.38 709.8L692.9 709.8Z" fill="#6ab132" stroke="#231815" stroke-width="1.15" stroke-linejoin="miter" stroke-dasharray="1.8 1.3"/><path d="M708.4 695.4L712.6 695.4L718.9 702.6L712.6 709.8L708.4 709.8Z" fill="#6ab132" stroke="#231815" stroke-width="1.15" stroke-linejoin="miter" stroke-dasharray="1.8 1.3"/><path d="M720.7 695.4L725.18 695.4L731.9 702.6L725.18 709.8L720.7 709.8Z" fill="#6ab132" stroke="#231815" stroke-width="1.0" stroke-linejoin="miter"/><path d="M751.3 695.4L743.93 695.4L738.6 702.6L743.93 709.8L751.3 709.8Z" fill="#0a0a0a" stroke="#0a0a0a" stroke-width="1.0" stroke-linejoin="miter"/><text x="512.44" y="718.04" font-size="9.19" font-family="DejaVu Sans" fill="#2a2a2a">✻</text><text x="569.04" y="718.04" font-size="9.19" font-family="DejaVu Sans" fill="#2a2a2a">✻</text><text x="585.44" y="718.04" font-size="9.19" font-family="DejaVu Sans" fill="#2a2a2a">✻</text><text x="631.34" y="718.04" font-size="9.19" font-family="DejaVu Sans" fill="#2a2a2a">✻</text><text x="706.94" y="718.04" font-size="9.19" font-family="DejaVu Sans" fill="#2a2a2a">✻</text><path d="M484.3 695.4V691.8" stroke="#000" stroke-width="0.9"/><path d="M482.3 692.3L484.3 688.8L486.3 692.3Z" fill="#000"/><path d="M747.5 695.4V691.8" stroke="#000" stroke-width="0.9"/><path d="M745.5 692.3L747.5 688.8L749.5 692.3Z" fill="#000"/><path d="M627.7 710V718.3" stroke="#000" stroke-width="1.3"/><path d="M624.3 716.3L627.7 722.3L631.1 716.3L627.7 717.7Z" fill="#000"/><path d="M377.9 792.7H881.8" stroke="#a8a8a8" stroke-width="7.4" stroke-linecap="round"/><path d="M401.4 785.35L388.52 785.35L379.2 792.7L388.52 800.05L401.4 800.05Z" fill="#0a0a0a" stroke="#0a0a0a" stroke-width="1.0" stroke-linejoin="miter"/><path d="M415.1 785.35L422.03 785.35L430.5 792.7L422.03 800.05L415.1 800.05Z" fill="#8ecbd2" stroke="#3a2a2a" stroke-width="1.0" stroke-linejoin="miter"/><path d="M444.4 785.35L439.13 785.35L432.7 792.7L439.13 800.05L444.4 800.05Z" fill="#8ecbd2" stroke="#3a2a2a" stroke-width="1.0" stroke-linejoin="miter"/><path d="M469.8 785.35L461.12 785.35L450.5 792.7L461.12 800.05L469.8 800.05Z" fill="#8ecbd2" stroke="#3a2a2a" stroke-width="1.0" stroke-linejoin="miter"/><path d="M473.3 785.35L479.82 785.35L487.8 792.7L479.82 800.05L473.3 800.05Z" fill="#8ecbd2" stroke="#3a2a2a" stroke-width="1.0" stroke-linejoin="miter"/><path d="M495.3 785.35L502.68 785.35L511.7 792.7L502.68 800.05L495.3 800.05Z" fill="#8ecbd2" stroke="#3a2a2a" stroke-width="1.0" stroke-linejoin="miter"/><path d="M530.8 785.35L524.63 785.35L517.1 792.7L524.63 800.05L530.8 800.05Z" fill="#8ecbd2" stroke="#3a2a2a" stroke-width="1.0" stroke-linejoin="miter"/><path d="M552.5 785.35L543.46 785.35L532.4 792.7L543.46 800.05L552.5 800.05Z" fill="#8ecbd2" stroke="#3a2a2a" stroke-width="1.0" stroke-linejoin="miter"/><path d="M559.2 785.35L566.94 785.35L576.4 792.7L566.94 800.05L559.2 800.05Z" fill="#8ecbd2" stroke="#3a2a2a" stroke-width="1.0" stroke-linejoin="miter"/><path d="M605.5 785.35L595.96 785.35L584.3 792.7L595.96 800.05L605.5 800.05Z" fill="#8ecbd2" stroke="#3a2a2a" stroke-width="1.0" stroke-linejoin="miter"/><path d="M627.7 785.35L619.47 785.35L609.4 792.7L619.47 800.05L627.7 800.05Z" fill="#8ecbd2" stroke="#3a2a2a" stroke-width="1.0" stroke-linejoin="miter"/><path d="M628.6 785.35L636.88 785.35L647 792.7L636.88 800.05L628.6 800.05Z" fill="#8ecbd2" stroke="#3a2a2a" stroke-width="1.0" stroke-linejoin="miter"/><path d="M648.3 785.35L654.82 785.35L662.8 792.7L654.82 800.05L648.3 800.05Z" fill="#8ecbd2" stroke="#3a2a2a" stroke-width="1.0" stroke-linejoin="miter"/><path d="M666.2 785.35L675.2 785.35L688.7 792.7L675.2 800.05L666.2 800.05Z" fill="#6ab132" stroke="#231815" stroke-width="1.0" stroke-linejoin="miter"/><path d="M690.4 785.35L699.68 785.35L713.6 792.7L699.68 800.05L690.4 800.05Z" fill="#6ab132" stroke="#231815" stroke-width="1.0" stroke-linejoin="miter"/><path d="M715.9 785.35L725.58 785.35L740.1 792.7L725.58 800.05L715.9 800.05Z" fill="#6ab132" stroke="#231815" stroke-width="1.0" stroke-linejoin="miter"/><path d="M771.5 785.35L781.66 785.35L796.9 792.7L781.66 800.05L771.5 800.05Z" fill="#6ab132" stroke="#231815" stroke-width="1.0" stroke-linejoin="miter"/><path d="M741.8 785.35L753.04 785.35L769.9 792.7L753.04 800.05L741.8 800.05Z" fill="#6ab132" stroke="#1d3a9a" stroke-width="1.6" stroke-linejoin="miter"/><path d="M881.3 785.35L865.81 785.35L854.6 792.7L865.81 800.05L881.3 800.05Z" fill="#0a0a0a" stroke="#0a0a0a" stroke-width="1.0" stroke-linejoin="miter"/><path d="M748.8 800V807" stroke="#000" stroke-width="1.3"/><path d="M745.4 805L748.8 811L752.2 805L748.8 806.4Z" fill="#000"/><rect x="314.5" y="876.4" width="248" height="7.3" rx="3.6" fill="none" stroke="#b0b0b0" stroke-width="0.7" stroke-dasharray="2 1.5"/><path d="M364.6 879.9H562.5" stroke="#231815" stroke-width="1.3" stroke-dasharray="4 2.5"/><path d="M566.2 880.1H847.8" stroke="#a8a8a8" stroke-width="7.4" stroke-linecap="round"/><rect x="562.5" y="873.7" width="12.5" height="12.7" fill="#8ecbd2" stroke="#4a2a2a" stroke-width="0.8"/><rect x="587.5" y="873.5" width="23.3" height="13.4" fill="#6ab132" stroke="#231815" stroke-width="0.8"/><rect x="663.1" y="873.5" width="23.1" height="13.4" fill="#6ab132" stroke="#231815" stroke-width="0.8"/><rect x="693" y="873.5" width="23.1" height="13.4" fill="#6ab132" stroke="#231815" stroke-width="0.8"/><rect x="719.7" y="873.5" width="23.3" height="13.4" fill="#6ab132" stroke="#231815" stroke-width="0.8"/><rect x="775" y="873.5" width="23.3" height="13.4" fill="#6ab132" stroke="#231815" stroke-width="0.8"/><rect x="807.3" y="873.5" width="23.3" height="13.4" fill="#6ab132" stroke="#231815" stroke-width="0.8"/><rect x="622.8" y="873.5" width="23" height="13.4" fill="#6ab132" stroke="#1d3a9a" stroke-width="1.6"/><path d="M881.2 880.1H905.3" stroke="#a8a8a8" stroke-width="7.4" stroke-linecap="round"/><path d="M880.5 873.6L885.3 873.6L892.5 880.1L885.3 886.6L880.5 886.6Z" fill="#6ab132" stroke="#231815" stroke-width="1.0" stroke-linejoin="miter"/><path d="M908.3 873.6L899.14 873.6L892.5 880.1L899.14 886.6L908.3 886.6Z" fill="#0a0a0a" stroke="#0a0a0a" stroke-width="1.0" stroke-linejoin="miter"/><path d="M633.2 887V891.3" stroke="#000" stroke-width="1.3"/><path d="M629.8 889.3L633.2 895.3L636.6 889.3L633.2 890.7Z" fill="#000"/><path d="M784.8 887V891.3" stroke="#000" stroke-width="1.3"/><path d="M781.4 889.3L784.8 895.3L788.2 889.3L784.8 890.7Z" fill="#000"/><path d="M426.1 966.7H782.4" stroke="#a8a8a8" stroke-width="7.4" stroke-linecap="round"/><path d="M430.3 960.3L438.83 960.3L445 966.7L438.83 973.1L430.3 973.1Z" fill="#0a0a0a" stroke="#0a0a0a" stroke-width="1.0" stroke-linejoin="miter"/><path d="M456.7 960.3L451.44 960.3L445 966.7L451.44 973.1L456.7 973.1Z" fill="#8ecbd2" stroke="#3a2a2a" stroke-width="1.0" stroke-linejoin="miter"/><path d="M470.3 960.3L464.41 960.3L457.2 966.7L464.41 973.1L470.3 973.1Z" fill="#8ecbd2" stroke="#3a2a2a" stroke-width="1.0" stroke-linejoin="miter"/><path d="M506.3 960.3L497.74 960.3L484.9 966.7L497.74 973.1L506.3 973.1Z" fill="#6ab132" stroke="#231815" stroke-width="1.0" stroke-linejoin="miter"/><path d="M518.9 960.3L513.46 960.3L506.8 966.7L513.46 973.1L518.9 973.1Z" fill="#8ecbd2" stroke="#3a2a2a" stroke-width="1.0" stroke-linejoin="miter"/><path d="M532.7 960.3L526.85 960.3L519.7 966.7L526.85 973.1L532.7 973.1Z" fill="#8ecbd2" stroke="#3a2a2a" stroke-width="1.0" stroke-linejoin="miter"/><path d="M537.1 960.3L545.66 960.3L558.5 966.7L545.66 973.1L537.1 973.1Z" fill="#6ab132" stroke="#231815" stroke-width="1.0" stroke-linejoin="miter"/><path d="M559.3 960.3L564.7 960.3L572.8 966.7L564.7 973.1L559.3 973.1Z" fill="#6ab132" stroke="#231815" stroke-width="1.0" stroke-linejoin="miter"/><path d="M610.6 960.3L603.64 960.3L593.2 966.7L603.64 973.1L610.6 973.1Z" fill="#6ab132" stroke="#231815" stroke-width="1.0" stroke-linejoin="miter"/><path d="M631.7 960.3L623.42 960.3L611 966.7L623.42 973.1L631.7 973.1Z" fill="#6ab132" stroke="#231815" stroke-width="1.0" stroke-linejoin="miter"/><path d="M635.1 960.3L641.54 960.3L651.2 966.7L641.54 973.1L635.1 973.1Z" fill="#6ab132" stroke="#231815" stroke-width="1.0" stroke-linejoin="miter"/><path d="M652 960.3L660.76 960.3L667.1 966.7L660.76 973.1L652 973.1Z" fill="#0a0a0a" stroke="#0a0a0a" stroke-width="1.0" stroke-linejoin="miter"/><path d="M691.3 960.3L683.78 960.3L672.5 966.7L683.78 973.1L691.3 973.1Z" fill="#6ab132" stroke="#231815" stroke-width="1.0" stroke-linejoin="miter"/><path d="M710.6 960.3L703.08 960.3L691.8 966.7L703.08 973.1L710.6 973.1Z" fill="#6ab132" stroke="#231815" stroke-width="1.0" stroke-linejoin="miter"/><path d="M714.1 960.3L720.66 960.3L730.5 966.7L720.66 973.1L714.1 973.1Z" fill="#6ab132" stroke="#231815" stroke-width="1.0" stroke-linejoin="miter"/><path d="M731.9 960.3L740.89 960.3L747.4 966.7L740.89 973.1L731.9 973.1Z" fill="#0a0a0a" stroke="#0a0a0a" stroke-width="1.0" stroke-linejoin="miter"/><path d="M760 960.3L773.69 960.3L783.6 966.7L773.69 973.1L760 973.1Z" fill="#0a0a0a" stroke="#0a0a0a" stroke-width="1.0" stroke-linejoin="miter"/><path d="M546.9 1055.6H658.2" stroke="#a8a8a8" stroke-width="7.4" stroke-linecap="round"/><path d="M558.4 1049.05L565.65 1049.05L570.9 1055.6L565.65 1062.15L558.4 1062.15Z" fill="#0a0a0a" stroke="#0a0a0a" stroke-width="1.0" stroke-linejoin="miter"/><path d="M575.9 1049.05L581.35 1049.05L588 1055.6L581.35 1062.15L575.9 1062.15Z" fill="#8ecbd2" stroke="#3a2a2a" stroke-width="1.0" stroke-linejoin="miter"/><path d="M600.6 1049.05L594.93 1049.05L588 1055.6L594.93 1062.15L600.6 1062.15Z" fill="#8ecbd2" stroke="#3a2a2a" stroke-width="1.0" stroke-linejoin="miter"/><path d="M625.3 1049.05L630.7 1049.05L638.8 1055.6L630.7 1062.15L625.3 1062.15Z" fill="#6ab132" stroke="#231815" stroke-width="1.0" stroke-linejoin="miter"/><path d="M653.4 1049.05L644.93 1049.05L638.8 1055.6L644.93 1062.15L653.4 1062.15Z" fill="#0a0a0a" stroke="#0a0a0a" stroke-width="1.0" stroke-linejoin="miter"/><path d="M629.2 1062V1069.9" stroke="#000" stroke-width="1.3"/><path d="M625.8 1067.9L629.2 1073.9L632.6 1067.9L629.2 1069.3Z" fill="#000"/><path d="M164.5 1158.2H1118.3" stroke="#a8a8a8" stroke-width="7.4" stroke-linecap="round"/><path d="M197.7 1151.85L181.81 1151.85L170.3 1158.2L181.81 1164.55L197.7 1164.55Z" fill="#0a0a0a" stroke="#0a0a0a" stroke-width="1.0" stroke-linejoin="miter"/><path d="M207 1151.85L217.08 1151.85L229.4 1158.2L217.08 1164.55L207 1164.55Z" fill="#8ecbd2" stroke="#3a2a2a" stroke-width="1.0" stroke-linejoin="miter"/><path d="M235.5 1151.85L245.8 1151.85L258.4 1158.2L245.8 1164.55L235.5 1164.55Z" fill="#8ecbd2" stroke="#3a2a2a" stroke-width="1.0" stroke-linejoin="miter"/><path d="M274.3 1151.85L287.26 1151.85L306.7 1158.2L287.26 1164.55L274.3 1164.55Z" fill="#6ab132" stroke="#231815" stroke-width="1.0" stroke-linejoin="miter"/><path d="M316.5 1151.85L329.46 1151.85L348.9 1158.2L329.46 1164.55L316.5 1164.55Z" fill="#6ab132" stroke="#231815" stroke-width="1.0" stroke-linejoin="miter"/><path d="M387.2 1151.85L374.72 1151.85L356 1158.2L374.72 1164.55L387.2 1164.55Z" fill="#6ab132" stroke="#231815" stroke-width="1.0" stroke-linejoin="miter"/><path d="M400.4 1151.85L413.28 1151.85L432.6 1158.2L413.28 1164.55L400.4 1164.55Z" fill="#6ab132" stroke="#231815" stroke-width="1.0" stroke-linejoin="miter"/><path d="M441.9 1151.85L455.1 1151.85L474.9 1158.2L455.1 1164.55L441.9 1164.55Z" fill="#6ab132" stroke="#231815" stroke-width="1.0" stroke-linejoin="miter"/><path d="M498.6 1151.85L511.8 1151.85L531.6 1158.2L511.8 1164.55L498.6 1164.55Z" fill="#6ab132" stroke="#231815" stroke-width="1.0" stroke-linejoin="miter"/><path d="M585.1 1151.85L572.46 1151.85L553.5 1158.2L572.46 1164.55L585.1 1164.55Z" fill="#6ab132" stroke="#231815" stroke-width="1.0" stroke-linejoin="miter"/><path d="M645.8 1151.85L656.15 1151.85L668.8 1158.2L656.15 1164.55L645.8 1164.55Z" fill="#8ecbd2" stroke="#3a2a2a" stroke-width="1.0" stroke-linejoin="miter"/><path d="M675.9 1151.85L686.34 1151.85L699.1 1158.2L686.34 1164.55L675.9 1164.55Z" fill="#8ecbd2" stroke="#3a2a2a" stroke-width="1.0" stroke-linejoin="miter"/><path d="M1008 1151.85L1021.08 1151.85L1040.7 1158.2L1021.08 1164.55L1008 1164.55Z" fill="#6ab132" stroke="#231815" stroke-width="1.0" stroke-linejoin="miter"/><path d="M1115.9 1151.85L1100.3 1151.85L1089 1158.2L1100.3 1164.55L1115.9 1164.55Z" fill="#0a0a0a" stroke="#0a0a0a" stroke-width="1.0" stroke-linejoin="miter"/><path d="M450.6 1165V1171.9" stroke="#000" stroke-width="1.3"/><path d="M447.2 1169.9L450.6 1175.9L454 1169.9L450.6 1171.3Z" fill="#000"/><path d="M182.9 1278.3H1099.5" stroke="#a8a8a8" stroke-width="7.4" stroke-linecap="round"/><path d="M214.3 1271.2L198.58 1271.2L187.2 1278.3L198.58 1285.4L214.3 1285.4Z" fill="#0a0a0a" stroke="#0a0a0a" stroke-width="1.0" stroke-linejoin="miter"/><path d="M224.1 1271.2L230.4 1271.2L238.1 1278.3L230.4 1285.4L224.1 1285.4Z" fill="#8ecbd2" stroke="#3a2a2a" stroke-width="1.0" stroke-linejoin="miter"/><path d="M251.3 1271.2L245.36 1271.2L238.1 1278.3L245.36 1285.4L251.3 1285.4Z" fill="#8ecbd2" stroke="#3a2a2a" stroke-width="1.0" stroke-linejoin="miter"/><path d="M251.3 1271.2L257.47 1271.2L265 1278.3L257.47 1285.4L251.3 1285.4Z" fill="#8ecbd2" stroke="#3a2a2a" stroke-width="1.0" stroke-linejoin="miter"/><path d="M268.9 1271.2L277.22 1271.2L287.4 1278.3L277.22 1285.4L268.9 1285.4Z" fill="#8ecbd2" stroke="#3a2a2a" stroke-width="1.0" stroke-linejoin="miter"/><path d="M305.1 1271.2L297.13 1271.2L287.4 1278.3L297.13 1285.4L305.1 1285.4Z" fill="#8ecbd2" stroke="#3a2a2a" stroke-width="1.0" stroke-linejoin="miter"/><path d="M332.3 1271.2L323.17 1271.2L312 1278.3L323.17 1285.4L332.3 1285.4Z" fill="#8ecbd2" stroke="#3a2a2a" stroke-width="1.0" stroke-linejoin="miter"/><path d="M351.5 1271.2L343.22 1271.2L333.1 1278.3L343.22 1285.4L351.5 1285.4Z" fill="#8ecbd2" stroke="#3a2a2a" stroke-width="1.0" stroke-linejoin="miter"/><path d="M355.2 1271.2L367.12 1271.2L385 1278.3L367.12 1285.4L355.2 1285.4Z" fill="#6ab132" stroke="#231815" stroke-width="1.0" stroke-linejoin="miter"/><path d="M386.9 1271.2L395.98 1271.2L409.6 1278.3L395.98 1285.4L386.9 1285.4Z" fill="#6ab132" stroke="#231815" stroke-width="1.0" stroke-linejoin="miter"/><path d="M410.1 1271.2L421.18 1271.2L437.8 1278.3L421.18 1285.4L410.1 1285.4Z" fill="#6ab132" stroke="#231815" stroke-width="1.0" stroke-linejoin="miter"/><path d="M445.7 1271.2L462.64 1271.2L474.9 1278.3L462.64 1285.4L445.7 1285.4Z" fill="#0a0a0a" stroke="#0a0a0a" stroke-width="1.0" stroke-linejoin="miter"/><path d="M498.1 1271.2L509.26 1271.2L522.9 1278.3L509.26 1285.4L498.1 1285.4Z" fill="#8ecbd2" stroke="#3a2a2a" stroke-width="1.0" stroke-linejoin="miter"/><path d="M541.6 1271.2L534.72 1271.2L526.3 1278.3L534.72 1285.4L541.6 1285.4Z" fill="#8ecbd2" stroke="#3a2a2a" stroke-width="1.0" stroke-linejoin="miter"/><path d="M551.9 1271.2L561.39 1271.2L573 1278.3L561.39 1285.4L551.9 1285.4Z" fill="#8ecbd2" stroke="#3a2a2a" stroke-width="1.0" stroke-linejoin="miter"/><path d="M592.3 1271.2L606.02 1271.2L626.6 1278.3L606.02 1285.4L592.3 1285.4Z" fill="#6ab132" stroke="#231815" stroke-width="1.0" stroke-linejoin="miter"/><path d="M635.3 1271.2L642.96 1271.2L648.5 1278.3L642.96 1285.4L635.3 1285.4Z" fill="#0a0a0a" stroke="#0a0a0a" stroke-width="1.0" stroke-linejoin="miter"/><path d="M661.7 1271.2L671.94 1271.2L687.3 1278.3L671.94 1285.4L661.7 1285.4Z" fill="#6ab132" stroke="#231815" stroke-width="1.0" stroke-linejoin="miter"/><path d="M691.2 1271.2L703.88 1271.2L722.9 1278.3L703.88 1285.4L691.2 1285.4Z" fill="#6ab132" stroke="#231815" stroke-width="1.0" stroke-linejoin="miter"/><path d="M742 1271.2L754.92 1271.2L774.3 1278.3L754.92 1285.4L742 1285.4Z" fill="#6ab132" stroke="#231815" stroke-width="1.0" stroke-linejoin="miter"/><path d="M832.6 1271.2L819.4 1271.2L799.6 1278.3L819.4 1285.4L832.6 1285.4Z" fill="#6ab132" stroke="#231815" stroke-width="1.0" stroke-linejoin="miter"/><path d="M846.5 1271.2L862.04 1271.2L873.3 1278.3L862.04 1285.4L846.5 1285.4Z" fill="#0a0a0a" stroke="#0a0a0a" stroke-width="1.0" stroke-linejoin="miter"/><path d="M893.1 1271.2L902.9 1271.2L910 1278.3L902.9 1285.4L893.1 1285.4Z" fill="#0a0a0a" stroke="#0a0a0a" stroke-width="1.0" stroke-linejoin="miter"/><path d="M945.5 1271.2L959.36 1271.2L969.4 1278.3L959.36 1285.4L945.5 1285.4Z" fill="#0a0a0a" stroke="#0a0a0a" stroke-width="1.0" stroke-linejoin="miter"/><path d="M979.6 1271.2L990.27 1271.2L998 1278.3L990.27 1285.4L979.6 1285.4Z" fill="#0a0a0a" stroke="#0a0a0a" stroke-width="1.0" stroke-linejoin="miter"/><path d="M1013.4 1271.2L1022.2 1271.2L1035.4 1278.3L1022.2 1285.4L1013.4 1285.4Z" fill="#6ab132" stroke="#231815" stroke-width="1.0" stroke-linejoin="miter"/><path d="M1036.1 1271.2L1047.26 1271.2L1064 1278.3L1047.26 1285.4L1036.1 1285.4Z" fill="#6ab132" stroke="#231815" stroke-width="1.0" stroke-linejoin="miter"/><path d="M1094.8 1271.2L1077.34 1271.2L1064.7 1278.3L1077.34 1285.4L1094.8 1285.4Z" fill="#0a0a0a" stroke="#0a0a0a" stroke-width="1.0" stroke-linejoin="miter"/><text x="49.2" y="681.3" font-size="15.5" textLength="129.15" lengthAdjust="spacingAndGlyphs" font-style="italic" stroke="#231815">Triticum aestivum</text><text x="58.95" y="701.9" font-size="15.5" textLength="111.39" lengthAdjust="spacingAndGlyphs" stroke="#231815">(Kenong 9204)</text><text x="37.59" y="722" font-size="15.5" textLength="160.52" lengthAdjust="spacingAndGlyphs" stroke="#231815">chr1B:15.2–15.65 Mb</text><text x="52.94" y="770.8" font-size="15.5" textLength="111.06" lengthAdjust="spacingAndGlyphs" font-style="italic" stroke="#231815">Secale cereale</text><text x="84.91" y="790.1" font-size="15.5" textLength="40.83" lengthAdjust="spacingAndGlyphs" stroke="#231815">(Lo7)</text><text x="31.98" y="808" font-size="15.5" textLength="171.61" lengthAdjust="spacingAndGlyphs" stroke="#231815">chr1R:14.75–15.18 Mb</text><text x="52.64" y="856.4" font-size="15.5" textLength="110.45" lengthAdjust="spacingAndGlyphs" font-style="italic" stroke="#231815">Secale cereale</text><text x="71.78" y="876.6" font-size="15.5" textLength="68.8" lengthAdjust="spacingAndGlyphs" stroke="#231815">(Imperial)</text><text x="32.3" y="896" font-size="15.5" textLength="175.87" lengthAdjust="spacingAndGlyphs" stroke="#231815">BACs: p2 C7/D7/A3/C2</text><text x="50.1" y="944.2" font-size="15.5" textLength="128.8" lengthAdjust="spacingAndGlyphs" font-style="italic" stroke="#231815">Hordeum vulgare</text><text x="70.23" y="963.5" font-size="15.5" textLength="82.02" lengthAdjust="spacingAndGlyphs" stroke="#231815">(Morex v3)</text><text x="39.18" y="982.9" font-size="15.5" textLength="152.71" lengthAdjust="spacingAndGlyphs" stroke="#231815">chr1H:8.57–9.32 Mb</text><text x="269.7" y="1032.2" font-size="15.5" textLength="162.07" lengthAdjust="spacingAndGlyphs" font-style="italic" stroke="#231815">Triticum monococcum</text><text x="311.34" y="1051.2" font-size="15.5" textLength="84.19" lengthAdjust="spacingAndGlyphs" stroke="#231815">(PI306540)</text><text x="264.59" y="1070.8" font-size="15.5" textLength="184.01" lengthAdjust="spacingAndGlyphs" stroke="#231815">chr1Am:22.07–22.19 Mb</text><text x="55.63" y="1086.1" font-size="15.5" textLength="124.59" lengthAdjust="spacingAndGlyphs" font-style="italic" stroke="#231815">Aegilops tauschii</text><text x="64.43" y="1105.9" font-size="15.5" textLength="100.82" lengthAdjust="spacingAndGlyphs" stroke="#231815">(CPI 110799)</text><text x="18.71" y="1124.8" font-size="15.5" textLength="213.88" lengthAdjust="spacingAndGlyphs" stroke="#231815">ptg000053l: 30.31–28.74 Mb</text><text x="53" y="1224.4" font-size="15.5" textLength="129.56" lengthAdjust="spacingAndGlyphs" font-style="italic" stroke="#231815">Triticum aestivum</text><text x="62.74" y="1243.8" font-size="15.5" textLength="105.38" lengthAdjust="spacingAndGlyphs" stroke="#231815">(IWGSC v1.1)</text><text x="35.99" y="1263.1" font-size="15.5" textLength="169.2" lengthAdjust="spacingAndGlyphs" stroke="#231815">chr1B:16.43–17.36 Mb</text><text x="950.04" y="860" font-size="15.5" textLength="110.25" lengthAdjust="spacingAndGlyphs" font-style="italic" stroke="#231815">Secale cereale</text><text x="968.83" y="879.5" font-size="15.5" textLength="73.01" lengthAdjust="spacingAndGlyphs" stroke="#231815">(Weining)</text><text x="924.89" y="898.9" font-size="15.5" textLength="170.5" lengthAdjust="spacingAndGlyphs" stroke="#231815">chr1R:20.93–20.86 Mb</text><text x="355.5" y="684.6" font-size="12" textLength="138.22" lengthAdjust="spacingAndGlyphs" fill="#22408e" stroke="#22408e">TraesKN1B01HG01640</text><text x="449.95" y="674" font-size="12" textLength="44.78" lengthAdjust="spacingAndGlyphs" fill="#22408e" stroke="#22408e">(BEBT)</text><text x="743.2" y="684.6" font-size="12" textLength="138.32" lengthAdjust="spacingAndGlyphs" fill="#22408e" stroke="#22408e">TraesKN1B01HG01740</text><text x="836.56" y="674" font-size="12" textLength="45.57" lengthAdjust="spacingAndGlyphs" fill="#22408e" stroke="#22408e">(NABP)</text><text x="582.72" y="736" font-size="14.5" textLength="26.26" lengthAdjust="spacingAndGlyphs" font-style="italic" font-weight="bold" fill="#1d3586" stroke="#1d3586">Yr9</text><text x="613.78" y="736" font-size="12.5" textLength="164.45" lengthAdjust="spacingAndGlyphs" font-weight="bold" fill="#1d3586" stroke="#1d3586">(TraesKN1B01HG01710)</text><text x="666.03" y="824.1" font-size="14.5" textLength="26.05" lengthAdjust="spacingAndGlyphs" font-style="italic" font-weight="bold" fill="#1d3586" stroke="#1d3586">Yr9</text><text x="696.98" y="824.1" font-size="12.5" textLength="160.04" lengthAdjust="spacingAndGlyphs" font-weight="bold" fill="#1d3586" stroke="#1d3586">(SECCE1Rv1G0003760)</text><text x="602.42" y="909.5" font-size="12.5" textLength="70.76" lengthAdjust="spacingAndGlyphs" font-style="italic" font-weight="bold" fill="#1d3586" stroke="#1d3586">ScRGA1-F</text><text x="717.19" y="909.5" font-size="16" textLength="35.75" lengthAdjust="spacingAndGlyphs" font-style="italic" font-weight="bold" fill="#1d3586" stroke="#1d3586">Sr50</text><text x="757.5" y="909.5" font-size="12.5" textLength="81.7" lengthAdjust="spacingAndGlyphs" font-style="italic" font-weight="bold" fill="#1d3586" stroke="#1d3586">(ScRGA1-A)</text><text x="531.71" y="987.6" font-size="14" textLength="36.7" lengthAdjust="spacingAndGlyphs" font-style="italic" font-weight="bold" fill="#1d3586" stroke="#1d3586">Mla8</text><text x="573.05" y="987.6" font-size="14" textLength="126.29" lengthAdjust="spacingAndGlyphs" font-weight="bold" fill="#1d3586" stroke="#1d3586">orthologous region</text><text x="602.06" y="1089.1" font-size="14" textLength="60.71" lengthAdjust="spacingAndGlyphs" font-style="italic" font-weight="bold" fill="#1d3586" stroke="#1d3586">TmMla1</text><text x="407.1" y="1190.8" font-size="15.5" textLength="34.17" lengthAdjust="spacingAndGlyphs" font-style="italic" font-weight="bold" fill="#1d3586" stroke="#1d3586">Sr33</text><text x="446.3" y="1190.8" font-size="12.5" textLength="57.2" lengthAdjust="spacingAndGlyphs" font-style="italic" font-weight="bold" fill="#1d3586" stroke="#1d3586">(RGH1e)</text><rect x="903.7" y="957.7" width="208.4" height="129.9" fill="#fff" stroke="#231815" stroke-width="1"/><rect x="916.2" y="969.8" width="16.8" height="16.2" fill="#6ab132" stroke="#231815" stroke-width="0.9"/><rect x="916.2" y="992.5" width="16.8" height="16.2" fill="#6ab132" stroke="#231815" stroke-width="1" stroke-dasharray="2 1.5"/><text x="919.71" y="1028.72" font-size="13.78" font-family="DejaVu Sans" fill="#2a2a2a">✻</text><rect x="916.2" y="1036.6" width="16.8" height="15.6" fill="#8ecbd2" stroke="#4a2a2a" stroke-width="0.9"/><rect x="916.2" y="1058.2" width="16.8" height="15.6" fill="#0a0a0a"/><text x="942.81" y="982.8" font-size="15.5" textLength="33.81" lengthAdjust="spacingAndGlyphs" stroke="#231815">NLR</text><text x="942.86" y="1006.2" font-size="15.5" textLength="105.62" lengthAdjust="spacingAndGlyphs" stroke="#231815">Predicted NLR</text><text x="943.2" y="1028.3" font-size="15.5" textLength="118.51" lengthAdjust="spacingAndGlyphs" stroke="#231815">Expressed NLR</text><text x="942.29" y="1049.7" font-size="15.5" textLength="159.76" lengthAdjust="spacingAndGlyphs" stroke="#231815">Chymotrypsin inhibitor</text><text x="943.43" y="1071" font-size="15.5" textLength="88.75" lengthAdjust="spacingAndGlyphs" stroke="#231815">Other genes</text>
</svg></body></html>
